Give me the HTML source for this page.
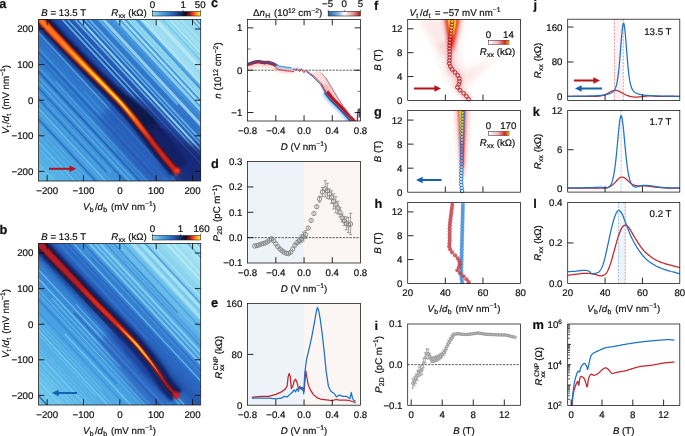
<!DOCTYPE html>
<html><head><meta charset="utf-8"><title>Figure</title>
<style>
html,body{margin:0;padding:0;background:#fff;}
body{width:685px;height:436px;overflow:hidden;}
svg{display:block;font-family:"Liberation Sans",sans-serif;fill:#111;}
svg text{text-rendering:geometricPrecision;white-space:pre;stroke:#111;stroke-width:0.2px;}
</style></head><body>
<svg width="685" height="436" viewBox="0 0 685 436">
<defs>
<linearGradient id="cbA" x1="0" x2="1" y1="0" y2="0">
<stop offset="0" stop-color="#93dcf2"/><stop offset="0.22" stop-color="#46a0e0"/><stop offset="0.42" stop-color="#2a62be"/>
<stop offset="0.58" stop-color="#1a2c74"/><stop offset="0.68" stop-color="#0a0a18"/><stop offset="0.76" stop-color="#7a1212"/>
<stop offset="0.83" stop-color="#e8321a"/><stop offset="0.9" stop-color="#ff8c1a"/><stop offset="0.96" stop-color="#ffd21e"/><stop offset="1" stop-color="#ffe83a"/></linearGradient>
<linearGradient id="cbC" x1="0" x2="1" y1="0" y2="0">
<stop offset="0" stop-color="#1a5fb0"/><stop offset="0.3" stop-color="#7fb2e0"/><stop offset="0.5" stop-color="#ffffff"/>
<stop offset="0.75" stop-color="#f0a0a0"/><stop offset="1" stop-color="#b0141e"/></linearGradient>
<linearGradient id="cbF" x1="0" x2="1" y1="0" y2="0">
<stop offset="0" stop-color="#ffffff"/><stop offset="0.45" stop-color="#f7b8b8"/><stop offset="0.8" stop-color="#e02020"/>
<stop offset="0.9" stop-color="#e8601a"/><stop offset="1" stop-color="#ffe23a"/></linearGradient>
<filter id="b1" x="-20%" y="-20%" width="140%" height="140%"><feGaussianBlur stdDeviation="1"/></filter>
<filter id="b2" x="-20%" y="-20%" width="140%" height="140%"><feGaussianBlur stdDeviation="2"/></filter>
<filter id="b3" x="-20%" y="-20%" width="140%" height="140%"><feGaussianBlur stdDeviation="3.5"/></filter>
<filter id="b07" x="-20%" y="-20%" width="140%" height="140%"><feGaussianBlur stdDeviation="0.8"/></filter>
<filter id="b05" x="-20%" y="-20%" width="140%" height="140%"><feGaussianBlur stdDeviation="0.5"/></filter>
<filter id="b6" x="-30%" y="-30%" width="160%" height="160%"><feGaussianBlur stdDeviation="6"/></filter>
<clipPath id="ca"><rect x="38.60" y="19.40" width="162.10" height="161.60"/></clipPath>
<linearGradient id="bga" gradientUnits="userSpaceOnUse" x1="38.6" y1="181.0" x2="200.7" y2="19.4"><stop offset="0" stop-color="#62c0ea"/><stop offset="0.12" stop-color="#4aa6e2"/><stop offset="0.3" stop-color="#3a8ed8"/><stop offset="0.42" stop-color="#2e78cc"/><stop offset="0.5" stop-color="#2252ac"/><stop offset="0.56" stop-color="#1f4aa4"/><stop offset="0.63" stop-color="#2c68c2"/><stop offset="0.72" stop-color="#3f90da"/><stop offset="0.82" stop-color="#60b4e6"/><stop offset="0.92" stop-color="#8ed8ee"/><stop offset="1" stop-color="#aae6f4"/></linearGradient>
<clipPath id="cb"><rect x="38.60" y="243.40" width="162.10" height="161.60"/></clipPath>
<linearGradient id="bgb" gradientUnits="userSpaceOnUse" x1="38.6" y1="405.0" x2="200.7" y2="243.4"><stop offset="0" stop-color="#74d0f0"/><stop offset="0.12" stop-color="#5cb8e8"/><stop offset="0.3" stop-color="#48a2e2"/><stop offset="0.42" stop-color="#3686d6"/><stop offset="0.5" stop-color="#2458b0"/><stop offset="0.57" stop-color="#2f70c8"/><stop offset="0.66" stop-color="#4ea4e2"/><stop offset="0.8" stop-color="#78c8ec"/><stop offset="0.92" stop-color="#9ee0f2"/><stop offset="1" stop-color="#b2eaf4"/></linearGradient>
<clipPath id="cc"><rect x="247.60" y="19.40" width="112.90" height="101.60"/></clipPath>
<clipPath id="cf"><rect x="407.70" y="19.40" width="112.90" height="81.00"/></clipPath>
<clipPath id="cg"><rect x="407.70" y="110.60" width="112.90" height="81.60"/></clipPath>
<clipPath id="cm"><rect x="567.70" y="324.00" width="112.10" height="81.40"/></clipPath>
</defs>
<rect width="685" height="436" fill="#fff"/>
<g clip-path="url(#ca)">
<rect x="38.60" y="19.40" width="162.10" height="161.60" fill="url(#bga)"/>
<g filter="url(#b05)">
<line x1="-74.6" y1="59.4" x2="150.9" y2="302.9" stroke="#7cccf0" stroke-width="1.0" opacity="0.44"/>
<line x1="-24.4" y1="109.7" x2="152.9" y2="301.1" stroke="#7cccf0" stroke-width="1.2" opacity="0.44"/>
<line x1="-75.4" y1="49.1" x2="142.1" y2="284.1" stroke="#7cccf0" stroke-width="1.5" opacity="0.39"/>
<line x1="-73.1" y1="47.0" x2="117.1" y2="252.4" stroke="#7cccf0" stroke-width="1.5" opacity="0.45"/>
<line x1="-71.0" y1="45.0" x2="160.0" y2="294.5" stroke="#7cccf0" stroke-width="1.5" opacity="0.47"/>
<line x1="6.2" y1="122.4" x2="96.4" y2="219.9" stroke="#62b8e8" stroke-width="1.3" opacity="0.34"/>
<line x1="-25.7" y1="82.9" x2="165.5" y2="289.4" stroke="#62b8e8" stroke-width="1.2" opacity="0.59"/>
<line x1="-63.3" y1="38.0" x2="167.6" y2="287.4" stroke="#7cccf0" stroke-width="2.0" opacity="0.28"/>
<line x1="-60.4" y1="35.2" x2="170.6" y2="284.7" stroke="#88d2f2" stroke-width="1.6" opacity="0.45"/>
<line x1="-57.2" y1="32.3" x2="173.8" y2="281.7" stroke="#7cccf0" stroke-width="1.0" opacity="0.50"/>
<line x1="-54.2" y1="29.5" x2="139.8" y2="239.0" stroke="#62b8e8" stroke-width="1.9" opacity="0.37"/>
<line x1="31.2" y1="116.6" x2="127.0" y2="220.0" stroke="#88d2f2" stroke-width="1.0" opacity="0.34"/>
<line x1="-49.0" y1="24.7" x2="171.0" y2="262.3" stroke="#2458b0" stroke-width="2.0" opacity="0.61"/>
<line x1="33.2" y1="107.1" x2="116.9" y2="197.5" stroke="#6cc2ec" stroke-width="1.1" opacity="0.48"/>
<line x1="-43.7" y1="19.8" x2="187.3" y2="269.3" stroke="#88d2f2" stroke-width="1.9" opacity="0.49"/>
<line x1="-40.9" y1="17.2" x2="190.1" y2="266.7" stroke="#62b8e8" stroke-width="1.3" opacity="0.39"/>
<line x1="-38.8" y1="15.2" x2="106.7" y2="172.4" stroke="#2458b0" stroke-width="1.2" opacity="0.64"/>
<line x1="-3.4" y1="48.7" x2="111.2" y2="172.4" stroke="#6cc2ec" stroke-width="1.6" opacity="0.30"/>
<line x1="37.9" y1="87.2" x2="197.6" y2="259.7" stroke="#2458b0" stroke-width="1.6" opacity="0.62"/>
<line x1="34.8" y1="78.7" x2="200.2" y2="257.3" stroke="#7cccf0" stroke-width="1.1" opacity="0.58"/>
<line x1="-12.0" y1="22.3" x2="203.1" y2="254.6" stroke="#7cccf0" stroke-width="1.7" opacity="0.34"/>
<line x1="-25.3" y1="2.7" x2="205.7" y2="252.2" stroke="#2458b0" stroke-width="1.8" opacity="0.75"/>
<line x1="-23.1" y1="0.7" x2="115.5" y2="150.5" stroke="#62b8e8" stroke-width="1.7" opacity="0.33"/>
<line x1="55.7" y1="82.0" x2="209.8" y2="248.4" stroke="#88d2f2" stroke-width="1.1" opacity="0.46"/>
<line x1="0.6" y1="17.7" x2="212.2" y2="246.2" stroke="#2a66bf" stroke-width="1.3" opacity="0.59"/>
<line x1="-15.7" y1="-6.1" x2="215.3" y2="243.3" stroke="#2458b0" stroke-width="2.1" opacity="0.64"/>
<line x1="-13.7" y1="-8.0" x2="198.4" y2="221.0" stroke="#6cc2ec" stroke-width="1.4" opacity="0.31"/>
<line x1="84.0" y1="91.0" x2="181.6" y2="196.4" stroke="#62b8e8" stroke-width="1.7" opacity="0.28"/>
<line x1="-8.0" y1="-13.3" x2="180.1" y2="189.8" stroke="#3278cc" stroke-width="2.0" opacity="0.89"/>
<line x1="-5.9" y1="-15.3" x2="225.1" y2="234.2" stroke="#7cccf0" stroke-width="1.5" opacity="0.58"/>
<line x1="-2.9" y1="-18.0" x2="184.8" y2="184.6" stroke="#88d2f2" stroke-width="1.1" opacity="0.43"/>
<line x1="10.9" y1="-30.8" x2="241.9" y2="218.7" stroke="#2458b2" stroke-width="1.5" opacity="0.97"/>
<line x1="13.5" y1="-33.2" x2="162.8" y2="128.1" stroke="#68c0ec" stroke-width="1.9" opacity="0.84"/>
<line x1="16.2" y1="-35.7" x2="247.2" y2="213.8" stroke="#7ccdf0" stroke-width="1.4" opacity="0.81"/>
<line x1="61.3" y1="8.8" x2="239.2" y2="201.0" stroke="#2a66c0" stroke-width="1.2" opacity="0.62"/>
<line x1="68.6" y1="12.8" x2="251.3" y2="210.0" stroke="#8ed6f2" stroke-width="1.7" opacity="0.68"/>
<line x1="76.0" y1="15.6" x2="253.8" y2="207.6" stroke="#8ed6f2" stroke-width="2.1" opacity="0.98"/>
<line x1="25.8" y1="-44.6" x2="256.8" y2="204.9" stroke="#7ccdf0" stroke-width="1.5" opacity="0.73"/>
<line x1="28.0" y1="-46.7" x2="259.0" y2="202.8" stroke="#7ccdf0" stroke-width="2.1" opacity="0.66"/>
<line x1="76.5" y1="1.5" x2="261.1" y2="200.9" stroke="#3278cc" stroke-width="1.3" opacity="0.98"/>
<line x1="33.1" y1="-51.4" x2="177.8" y2="104.8" stroke="#68c0ec" stroke-width="2.2" opacity="0.76"/>
<line x1="94.9" y1="10.5" x2="266.5" y2="195.9" stroke="#bcecf6" stroke-width="3.1" opacity="0.71"/>
<line x1="37.5" y1="-55.4" x2="245.3" y2="169.0" stroke="#3f8cd8" stroke-width="1.1" opacity="0.71"/>
<line x1="40.5" y1="-58.2" x2="271.5" y2="191.3" stroke="#4a9ae0" stroke-width="1.5" opacity="0.81"/>
<line x1="42.9" y1="-60.4" x2="273.9" y2="189.1" stroke="#a4e2f2" stroke-width="3.1" opacity="0.72"/>
<line x1="45.8" y1="-63.1" x2="234.3" y2="140.4" stroke="#a4e2f2" stroke-width="2.2" opacity="0.96"/>
<line x1="49.0" y1="-66.0" x2="280.0" y2="183.5" stroke="#a4e2f2" stroke-width="2.1" opacity="0.91"/>
<line x1="93.6" y1="-22.3" x2="282.2" y2="181.4" stroke="#98dcf0" stroke-width="3.6" opacity="0.86"/>
<line x1="53.5" y1="-70.2" x2="234.5" y2="125.3" stroke="#3f8cd8" stroke-width="1.0" opacity="0.89"/>
<line x1="56.6" y1="-73.1" x2="287.6" y2="176.4" stroke="#bcecf6" stroke-width="3.6" opacity="0.86"/>
<line x1="58.9" y1="-75.3" x2="289.9" y2="174.2" stroke="#a4e2f2" stroke-width="2.9" opacity="0.95"/>
<line x1="61.4" y1="-77.5" x2="292.4" y2="172.0" stroke="#b0e8f4" stroke-width="4.1" opacity="0.70"/>
<line x1="86.9" y1="-54.9" x2="243.4" y2="114.1" stroke="#bcecf6" stroke-width="4.2" opacity="0.90"/>
<line x1="66.0" y1="-81.8" x2="205.1" y2="68.5" stroke="#98dcf0" stroke-width="2.9" opacity="0.80"/>
<line x1="69.0" y1="-84.6" x2="300.0" y2="164.9" stroke="#a4e2f2" stroke-width="2.0" opacity="0.81"/>
<line x1="127.0" y1="-26.3" x2="235.6" y2="90.9" stroke="#b0e8f4" stroke-width="2.2" opacity="0.95"/>
<line x1="73.9" y1="-89.2" x2="240.9" y2="91.1" stroke="#a4e2f2" stroke-width="3.6" opacity="0.91"/>
<line x1="77.2" y1="-92.1" x2="308.2" y2="157.3" stroke="#a4e2f2" stroke-width="2.1" opacity="0.95"/>
<line x1="80.0" y1="-94.8" x2="281.2" y2="122.5" stroke="#8ed6f2" stroke-width="1.9" opacity="0.83"/>
<line x1="117.3" y1="-60.5" x2="298.4" y2="135.1" stroke="#3580d0" stroke-width="1.3" opacity="0.61"/>
<line x1="85.6" y1="-100.0" x2="310.2" y2="142.6" stroke="#3580d0" stroke-width="1.3" opacity="0.71"/>
<line x1="88.7" y1="-102.9" x2="319.7" y2="146.6" stroke="#b0e8f4" stroke-width="3.9" opacity="0.84"/>
<line x1="136.5" y1="-55.7" x2="322.0" y2="144.6" stroke="#8ed6f2" stroke-width="2.2" opacity="0.80"/>
</g>
<polygon points="98.7,117.2 99.5,118.6 100.6,120.3 101.9,122.3 103.3,124.3 104.6,126.4 105.7,128.2 106.7,129.9 107.7,131.6 108.7,133.4 109.7,135.1 110.7,136.9 111.8,138.7 113.0,140.2 114.2,141.8 115.4,143.4 116.7,145.0 118.0,146.7 119.3,148.4 120.6,150.1 121.9,151.8 123.2,153.4 124.5,155.1 125.8,156.8 127.1,158.4 128.5,160.1 129.8,161.9 131.2,163.6 132.6,165.5 134.0,167.3 135.5,169.1 137.2,170.8 138.9,172.4 140.6,174.0 142.4,175.6 144.2,177.3 146.0,178.9 148.0,180.8 150.0,182.7 152.1,184.5 154.0,186.2 155.6,187.6 156.8,188.5 173.5,174.1 172.5,173.0 171.1,171.4 169.5,169.5 167.8,167.5 166.0,165.5 164.4,163.6 163.0,161.8 161.5,160.0 160.1,158.3 158.7,156.5 157.3,154.7 155.9,153.0 154.5,151.2 153.1,149.4 151.7,147.7 150.3,145.9 149.0,144.2 147.6,142.5 146.3,140.8 145.0,139.1 143.7,137.4 142.4,135.8 141.1,134.1 139.8,132.5 138.5,130.8 137.3,129.1 136.0,127.5 134.7,125.8 133.4,124.1 132.1,122.5 130.7,120.8 129.4,119.2 128.1,117.5 126.7,115.9 125.3,114.2 124.0,112.6 122.4,110.8 120.8,108.9 119.1,107.0 117.5,105.3 116.2,103.7 115.2,102.7" fill="#2654b4" opacity="0.7" filter="url(#b3)"/>
<polygon points="27.5,17.5 28.1,18.2 28.9,19.0 29.9,20.0 31.1,21.3 32.6,22.9 34.6,25.0 37.1,27.6 40.0,30.8 43.4,34.4 46.9,38.2 50.4,41.9 53.8,45.5 57.0,48.9 60.2,52.2 63.5,55.6 66.7,58.9 69.9,62.3 73.2,65.6 76.5,69.0 79.8,72.3 83.1,75.6 86.4,79.0 89.7,82.3 93.0,85.6 96.4,89.1 99.9,92.6 103.4,96.2 106.8,99.7 109.8,102.8 112.4,105.5 114.5,107.5 116.2,109.2 117.6,110.5 118.9,111.8 120.2,113.1 121.6,114.5 123.2,116.1 124.7,117.6 126.1,119.1 127.6,120.7 129.1,122.2 130.5,123.7 131.8,125.4 133.1,127.0 134.4,128.7 135.7,130.3 137.0,132.0 138.3,133.7 139.6,135.4 140.9,137.0 142.1,138.7 143.4,140.3 144.7,142.0 146.1,143.7 147.4,145.4 148.8,147.1 150.1,148.9 151.5,150.7 152.9,152.5 154.3,154.2 155.7,156.0 157.1,157.8 158.5,159.5 160.0,161.3 161.4,163.1 162.9,164.8 164.5,166.8 166.2,168.8 168.0,170.8 169.6,172.7 171.0,174.3 172.0,175.4 191.6,158.4 190.9,157.1 189.8,155.3 188.4,153.2 187.0,151.0 185.6,148.9 184.4,146.9 183.3,145.1 182.2,143.2 181.1,141.3 180.0,139.4 178.9,137.5 177.8,135.6 176.5,133.9 175.1,132.2 173.8,130.5 172.4,128.7 171.1,127.0 169.7,125.2 168.4,123.5 167.1,121.9 165.8,120.2 164.5,118.6 163.2,116.9 161.9,115.3 160.4,113.8 158.9,112.4 157.3,110.9 155.7,109.4 154.1,107.8 152.4,106.3 150.4,105.1 148.3,103.9 146.3,102.7 144.2,101.4 142.1,100.2 140.0,99.0 138.1,98.0 136.2,97.1 134.3,96.1 132.1,95.0 129.7,93.6 126.9,91.8 123.9,89.3 120.4,86.4 116.6,83.3 112.8,80.0 108.9,76.8 105.1,73.7 101.8,70.3 98.5,67.0 95.2,63.7 91.9,60.3 88.6,57.0 85.3,53.7 82.1,50.4 78.9,47.1 75.7,43.8 72.5,40.5 69.3,37.1 66.1,33.8 62.8,30.3 59.3,26.6 55.8,22.8 52.5,19.3 49.5,16.0 47.0,13.3 45.0,11.2 43.4,9.6 42.2,8.3 41.2,7.3 40.5,6.5 39.8,5.8" fill="#1c3a94" opacity="0.75" filter="url(#b2)"/>
<polygon points="34.7,10.6 35.4,11.3 36.1,12.1 37.1,13.1 38.3,14.4 39.9,16.0 41.9,18.1 44.4,20.8 47.4,24.0 50.7,27.6 54.2,31.4 57.7,35.1 61.1,38.6 64.3,42.0 67.4,45.3 70.7,48.6 73.9,52.0 77.1,55.3 80.3,58.6 83.6,61.9 86.9,65.3 90.2,68.6 93.5,71.9 96.8,75.3 100.1,78.6 103.5,82.0 107.0,85.6 110.6,89.2 113.9,92.7 117.0,95.9 119.7,98.6 121.8,100.9 123.4,102.7 124.8,104.3 126.0,105.7 127.2,107.2 128.5,108.7 129.9,110.4 131.3,112.1 132.7,113.7 134.1,115.4 135.4,117.1 136.8,118.8 138.1,120.4 139.4,122.1 140.7,123.8 142.0,125.4 143.3,127.1 144.6,128.8 145.9,130.4 147.2,132.1 148.5,133.7 149.7,135.4 151.1,137.1 152.4,138.8 153.7,140.5 155.1,142.2 156.4,144.0 157.8,145.7 159.2,147.5 160.6,149.3 162.0,151.0 163.4,152.7 164.8,154.5 166.2,156.2 167.6,158.0 169.0,159.7 170.6,161.6 172.3,163.6 174.0,165.6 175.7,167.5 177.0,169.1 178.0,170.2 187.1,162.4 186.2,161.1 185.0,159.4 183.5,157.4 181.9,155.3 180.4,153.3 179.0,151.4 177.8,149.6 176.5,147.8 175.3,146.0 174.0,144.2 172.8,142.4 171.5,140.6 170.2,138.8 168.8,137.1 167.5,135.4 166.1,133.6 164.8,131.9 163.4,130.2 162.1,128.5 160.8,126.8 159.5,125.1 158.2,123.5 156.9,121.8 155.6,120.2 154.2,118.6 152.8,117.1 151.4,115.5 149.9,113.9 148.4,112.3 146.9,110.6 145.2,109.2 143.4,107.9 141.6,106.5 139.8,105.0 138.0,103.6 136.2,102.3 134.5,101.0 132.9,99.9 131.3,98.8 129.4,97.4 127.3,95.8 124.7,93.8 121.9,91.2 118.6,88.1 115.0,84.9 111.3,81.4 107.6,78.0 104.0,74.7 100.7,71.4 97.4,68.0 94.1,64.7 90.8,61.4 87.5,58.1 84.3,54.8 81.0,51.4 77.8,48.1 74.6,44.8 71.4,41.5 68.2,38.2 65.0,34.8 61.7,31.3 58.2,27.6 54.7,23.9 51.4,20.3 48.4,17.1 45.9,14.4 43.9,12.3 42.3,10.6 41.1,9.3 40.1,8.3 39.4,7.5 38.7,6.8" fill="#0a1244" opacity="0.92" filter="url(#b1)"/>
<polygon points="28.2,16.8 28.9,17.5 29.6,18.3 30.6,19.3 31.8,20.6 33.3,22.2 35.3,24.3 37.8,26.9 40.8,30.2 44.1,33.7 47.6,37.5 51.2,41.3 54.5,44.8 57.7,48.2 61.0,51.6 64.2,54.9 67.4,58.2 70.6,61.6 73.9,64.9 77.2,68.2 80.5,71.6 83.8,74.9 87.1,78.3 90.4,81.6 93.7,84.9 97.1,88.4 100.6,91.9 104.1,95.5 107.5,99.0 110.5,102.1 113.1,104.8 115.1,107.0 116.7,108.7 118.0,110.2 119.2,111.6 120.3,113.0 121.6,114.5 123.0,116.2 124.4,117.8 125.7,119.4 127.1,121.1 128.4,122.7 129.7,124.4 131.0,126.0 132.3,127.6 133.6,129.3 134.9,131.0 136.2,132.6 137.5,134.3 138.8,136.0 140.1,137.6 141.4,139.3 142.7,140.9 144.0,142.6 145.3,144.3 146.6,146.0 148.0,147.8 149.3,149.5 150.7,151.3 152.1,153.1 153.5,154.9 154.9,156.6 156.3,158.4 157.8,160.1 159.2,161.9 160.6,163.7 162.1,165.5 163.7,167.4 165.5,169.4 167.2,171.5 168.9,173.4 170.2,174.9 171.2,176.1 175.0,172.8 174.0,171.7 172.6,170.1 171.0,168.2 169.3,166.2 167.5,164.2 166.0,162.3 164.5,160.5 163.1,158.8 161.6,157.0 160.2,155.3 158.8,153.5 157.4,151.7 156.0,150.0 154.7,148.2 153.3,146.4 151.9,144.7 150.6,142.9 149.2,141.2 147.9,139.5 146.6,137.9 145.3,136.2 144.0,134.5 142.7,132.9 141.4,131.2 140.1,129.6 138.8,127.9 137.5,126.2 136.3,124.6 135.0,122.9 133.6,121.2 132.3,119.6 131.0,117.9 129.6,116.3 128.3,114.6 126.9,113.0 125.5,111.3 124.2,109.7 123.0,108.3 121.8,106.9 120.5,105.4 118.8,103.6 116.7,101.4 114.1,98.6 111.1,95.5 107.7,92.0 104.2,88.4 100.7,84.9 97.3,81.4 94.0,78.1 90.7,74.7 87.4,71.4 84.1,68.1 80.8,64.7 77.5,61.4 74.2,58.1 71.0,54.7 67.8,51.4 64.6,48.1 61.4,44.7 58.1,41.4 54.8,37.8 51.3,34.1 47.8,30.3 44.4,26.8 41.4,23.5 38.9,20.9 37.0,18.8 35.4,17.1 34.2,15.8 33.2,14.8 32.5,14.0 31.9,13.4" fill="#0e1850" opacity="0.85" filter="url(#b1)"/>
<polygon points="146.0,122.0 165.0,130.0 185.0,142.0 206.0,150.0 206.0,186.0 176.0,186.0 170.0,168.0 158.0,150.0" fill="#162470" opacity="0.8" filter="url(#b3)"/>
<polygon points="29.9,15.2 30.5,15.9 31.3,16.7 32.2,17.7 33.5,19.0 35.0,20.6 37.0,22.7 39.5,25.4 42.5,28.5 45.9,32.1 49.4,35.8 53.0,39.6 56.3,43.1 59.6,46.4 62.8,49.8 66.1,53.1 69.3,56.3 72.6,59.6 75.9,62.9 79.2,66.2 82.6,69.5 86.0,72.8 89.4,76.1 92.7,79.3 96.1,82.6 99.5,86.0 103.1,89.5 106.6,93.1 110.0,96.5 113.1,99.6 115.8,102.3 117.9,104.5 119.5,106.2 120.8,107.7 122.0,109.1 123.2,110.5 124.6,112.1 125.9,113.7 127.3,115.4 128.6,117.1 130.0,118.7 131.3,120.4 132.6,122.1 133.9,123.7 135.2,125.4 136.5,127.1 137.8,128.7 139.0,130.4 140.3,132.1 141.6,133.8 142.9,135.4 144.2,137.1 145.5,138.7 146.8,140.4 148.1,142.1 149.4,143.8 150.8,145.6 152.1,147.3 153.5,149.1 154.9,150.9 156.3,152.7 157.6,154.4 159.0,156.2 160.4,158.0 161.9,159.8 163.3,161.5 164.7,163.3 166.3,165.2 168.1,167.2 169.8,169.3 171.4,171.1 172.8,172.7 173.8,173.9 179.2,169.1 178.2,168.0 176.9,166.4 175.3,164.6 173.5,162.5 171.8,160.5 170.3,158.7 168.8,157.0 167.4,155.2 166.0,153.5 164.5,151.8 163.1,150.1 161.7,148.3 160.3,146.6 159.0,144.8 157.6,143.1 156.2,141.4 154.8,139.6 153.5,137.9 152.2,136.2 150.9,134.5 149.6,132.9 148.3,131.2 147.0,129.6 145.7,127.9 144.4,126.3 143.1,124.6 141.8,122.9 140.5,121.3 139.1,119.6 137.8,117.9 136.4,116.3 135.1,114.6 133.7,112.9 132.3,111.3 130.9,109.6 129.4,107.9 128.2,106.4 127.0,105.0 125.8,103.5 124.4,101.9 122.7,100.0 120.6,97.7 118.0,94.9 115.0,91.7 111.6,88.2 108.2,84.5 104.7,80.9 101.3,77.4 98.1,74.0 94.8,70.6 91.6,67.2 88.3,63.8 85.1,60.4 81.9,57.1 78.7,53.7 75.5,50.4 72.3,47.0 69.2,43.7 66.0,40.3 62.9,36.9 59.6,33.4 56.1,29.6 52.6,25.8 49.3,22.2 46.3,19.0 43.8,16.3 41.9,14.2 40.3,12.5 39.1,11.2 38.1,10.2 37.3,9.4 36.7,8.8" fill="#120a1c" opacity="0.9" filter="url(#b05)"/>
<polygon points="30.6,14.5 31.3,15.2 32.0,16.0 33.0,17.0 34.2,18.3 35.7,19.9 37.7,22.0 40.2,24.7 43.2,27.9 46.6,31.4 50.1,35.2 53.7,38.9 57.1,42.4 60.3,45.7 63.6,49.1 66.8,52.4 70.1,55.6 73.3,58.9 76.6,62.2 80.0,65.5 83.3,68.8 86.7,72.1 90.1,75.4 93.4,78.6 96.8,81.9 100.2,85.3 103.8,88.8 107.4,92.4 110.8,95.8 113.9,98.9 116.5,101.6 118.6,103.8 120.3,105.6 121.6,107.1 122.8,108.5 124.0,109.9 125.3,111.4 126.7,113.1 128.1,114.8 129.4,116.4 130.8,118.1 132.1,119.8 133.4,121.4 134.7,123.1 136.0,124.8 137.3,126.4 138.5,128.1 139.8,129.8 141.1,131.5 142.4,133.1 143.7,134.8 145.0,136.4 146.3,138.1 147.6,139.8 148.9,141.5 150.2,143.2 151.6,145.0 152.9,146.7 154.3,148.5 155.7,150.3 157.0,152.1 158.4,153.8 159.8,155.6 161.2,157.4 162.6,159.1 164.1,160.9 165.5,162.7 167.1,164.6 168.8,166.6 170.6,168.6 172.2,170.5 173.5,172.1 174.5,173.2 178.5,169.8 177.5,168.7 176.1,167.1 174.5,165.2 172.8,163.2 171.1,161.2 169.5,159.3 168.0,157.6 166.6,155.9 165.2,154.1 163.8,152.4 162.4,150.7 161.0,148.9 159.6,147.2 158.2,145.5 156.8,143.7 155.4,142.0 154.0,140.2 152.7,138.5 151.4,136.8 150.1,135.2 148.8,133.5 147.5,131.8 146.2,130.2 144.9,128.5 143.6,126.9 142.3,125.2 141.0,123.6 139.7,121.9 138.3,120.2 137.0,118.6 135.6,116.9 134.3,115.2 132.9,113.6 131.5,111.9 130.1,110.2 128.7,108.6 127.4,107.0 126.2,105.6 125.0,104.2 123.6,102.6 122.0,100.7 119.9,98.4 117.3,95.6 114.2,92.4 110.9,88.9 107.4,85.2 104.0,81.6 100.6,78.1 97.4,74.7 94.1,71.3 90.9,67.9 87.6,64.5 84.4,61.1 81.2,57.8 78.0,54.4 74.8,51.1 71.6,47.7 68.5,44.3 65.3,41.0 62.1,37.6 58.8,34.0 55.3,30.3 51.9,26.5 48.6,22.9 45.6,19.7 43.1,17.0 41.1,14.9 39.6,13.2 38.3,11.9 37.4,10.9 36.6,10.1 36.0,9.5" fill="#d8261a" opacity="1" filter="url(#b07)"/>
<polygon points="31.4,13.8 32.0,14.5 32.8,15.3 33.7,16.3 34.9,17.6 36.5,19.2 38.5,21.3 41.0,24.0 44.0,27.2 47.3,30.7 50.9,34.5 54.4,38.2 57.8,41.7 61.0,45.1 64.2,48.4 67.5,51.7 70.7,55.0 74.0,58.3 77.3,61.6 80.6,64.9 83.9,68.2 87.3,71.5 90.6,74.8 94.0,78.1 97.3,81.4 100.7,84.8 104.3,88.3 107.9,91.9 111.2,95.3 114.3,98.4 117.0,101.1 119.1,103.4 120.7,105.2 122.1,106.7 123.3,108.1 124.5,109.5 125.8,111.0 127.2,112.7 128.6,114.4 129.9,116.0 131.3,117.7 132.6,119.4 133.9,121.0 135.3,122.7 136.6,124.3 138.0,125.9 139.3,127.5 140.6,129.2 142.0,130.8 143.5,132.4 145.2,134.2 146.9,136.0 148.4,137.7 149.8,139.0 150.8,140.0 150.8,140.0 150.1,138.8 149.1,137.1 147.9,135.2 146.6,133.2 145.2,131.1 144.0,129.2 142.8,127.5 141.5,125.8 140.3,124.1 139.0,122.4 137.8,120.7 136.5,119.0 135.1,117.3 133.8,115.6 132.4,114.0 131.0,112.3 129.6,110.6 128.2,109.0 126.9,107.4 125.7,106.0 124.5,104.6 123.2,103.0 121.5,101.1 119.4,98.9 116.8,96.1 113.8,92.9 110.4,89.4 106.9,85.7 103.4,82.1 100.1,78.6 96.8,75.3 93.6,71.9 90.3,68.5 87.0,65.1 83.8,61.8 80.5,58.4 77.3,55.0 74.1,51.7 70.9,48.4 67.8,45.0 64.6,41.6 61.4,38.3 58.1,34.7 54.6,31.0 51.1,27.2 47.8,23.6 44.8,20.4 42.3,17.7 40.4,15.6 38.8,13.9 37.6,12.6 36.6,11.6 35.9,10.8 35.2,10.2" fill="#f4521c" opacity="1" filter="url(#b07)"/>
<polygon points="31.9,13.3 32.5,14.0 33.3,14.8 34.3,15.8 35.5,17.1 37.0,18.7 39.0,20.8 41.5,23.5 44.5,26.7 47.9,30.2 51.4,34.0 54.9,37.7 58.3,41.3 61.5,44.6 64.7,47.9 68.0,51.2 71.2,54.5 74.4,57.9 77.7,61.2 81.0,64.5 84.4,67.8 87.7,71.1 91.0,74.4 94.4,77.7 97.7,81.0 101.1,84.4 104.7,88.0 108.2,91.5 111.6,95.0 114.7,98.1 117.3,100.8 119.4,103.0 121.1,104.9 122.4,106.4 123.6,107.8 124.8,109.2 126.1,110.7 127.6,112.4 129.0,114.0 130.4,115.6 131.8,117.3 133.1,118.9 134.5,120.6 136.0,122.2 137.6,124.1 139.3,125.9 140.8,127.6 142.0,129.0 143.0,130.0 143.0,130.0 142.3,128.8 141.2,127.2 140.0,125.4 138.6,123.3 137.2,121.3 135.9,119.4 134.6,117.7 133.3,116.1 132.0,114.4 130.6,112.7 129.3,111.0 127.9,109.3 126.6,107.7 125.4,106.3 124.2,104.9 122.8,103.3 121.2,101.4 119.1,99.2 116.5,96.4 113.4,93.2 110.1,89.7 106.6,86.1 103.1,82.5 99.7,79.0 96.4,75.6 93.2,72.3 89.9,68.9 86.6,65.6 83.3,62.2 80.1,58.8 76.9,55.5 73.7,52.2 70.5,48.8 67.3,45.5 64.1,42.1 60.9,38.7 57.6,35.2 54.1,31.5 50.6,27.7 47.3,24.1 44.3,20.9 41.8,18.2 39.8,16.1 38.3,14.4 37.0,13.1 36.1,12.1 35.3,11.3 34.7,10.7" fill="#ff7e1c" opacity="1" filter="url(#b07)"/>
<polygon points="59.6,40.0 61.6,42.3 64.3,45.4 67.6,49.1 71.2,53.1 74.8,57.1 78.1,60.8 81.4,64.1 84.7,67.5 88.0,70.8 91.3,74.2 94.6,77.5 97.8,80.9 101.2,84.3 104.8,87.8 108.3,91.4 111.7,94.8 114.8,98.0 117.4,100.7 119.6,102.9 121.2,104.7 122.6,106.2 123.9,107.6 125.1,109.0 126.4,110.5 128.0,112.2 129.7,114.0 131.4,115.9 132.9,117.6 134.2,119.0 135.2,120.0 135.2,120.0 134.4,118.8 133.3,117.3 131.9,115.4 130.5,113.4 129.0,111.4 127.6,109.5 126.3,107.9 125.1,106.5 124.0,105.0 122.6,103.5 121.0,101.6 119.0,99.3 116.3,96.5 113.3,93.3 109.9,89.8 106.4,86.2 102.9,82.6 99.6,79.1 96.3,75.8 92.9,72.5 89.6,69.2 86.3,65.9 83.0,62.6 79.7,59.2 76.1,55.8 72.2,52.1 68.4,48.4 64.8,44.9 61.8,42.1 59.6,40.0" fill="#ffb41e" opacity="1" filter="url(#b05)"/>
<polygon points="78.9,60.0 81.0,62.2 83.9,65.3 87.4,69.0 91.1,72.9 94.8,76.8 98.3,80.4 101.6,83.9 105.2,87.5 108.7,91.1 112.0,94.5 115.1,97.7 117.7,100.5 119.8,102.7 121.5,104.5 122.9,106.0 124.1,107.4 125.3,108.8 126.6,110.3 128.2,112.0 129.8,113.9 131.5,115.8 133.0,117.5 134.3,119.0 135.2,120.0 135.2,120.0 134.4,118.9 133.2,117.3 131.8,115.5 130.3,113.5 128.8,111.5 127.4,109.7 126.1,108.1 124.9,106.7 123.8,105.2 122.4,103.7 120.8,101.8 118.7,99.5 116.1,96.8 113.0,93.6 109.6,90.2 106.1,86.6 102.5,83.0 99.1,79.6 95.5,76.1 91.7,72.3 87.8,68.5 84.2,65.0 81.1,62.1 78.9,60.0" fill="#ffe03a" opacity="1" filter="url(#b05)"/>
<circle cx="176.8" cy="171.0" r="3.6" fill="#e02a1c" filter="url(#b1)"/>
<circle cx="177.0" cy="170.6" r="1.8" fill="#f04424" filter="url(#b05)"/>
</g>
<rect x="38.60" y="19.40" width="162.10" height="161.60" fill="none" stroke="#111" stroke-width="0.75"/>
<line x1="47.14" y1="181.00" x2="47.14" y2="175.20" stroke="#111" stroke-width="0.9"/>
<line x1="47.14" y1="19.40" x2="47.14" y2="25.20" stroke="#111" stroke-width="0.9"/>
<line x1="83.49" y1="181.00" x2="83.49" y2="175.20" stroke="#111" stroke-width="0.9"/>
<line x1="83.49" y1="19.40" x2="83.49" y2="25.20" stroke="#111" stroke-width="0.9"/>
<line x1="119.83" y1="181.00" x2="119.83" y2="175.20" stroke="#111" stroke-width="0.9"/>
<line x1="119.83" y1="19.40" x2="119.83" y2="25.20" stroke="#111" stroke-width="0.9"/>
<line x1="156.18" y1="181.00" x2="156.18" y2="175.20" stroke="#111" stroke-width="0.9"/>
<line x1="156.18" y1="19.40" x2="156.18" y2="25.20" stroke="#111" stroke-width="0.9"/>
<line x1="192.52" y1="181.00" x2="192.52" y2="175.20" stroke="#111" stroke-width="0.9"/>
<line x1="192.52" y1="19.40" x2="192.52" y2="25.20" stroke="#111" stroke-width="0.9"/>
<line x1="38.60" y1="171.39" x2="44.40" y2="171.39" stroke="#111" stroke-width="0.9"/>
<line x1="200.70" y1="171.39" x2="194.90" y2="171.39" stroke="#111" stroke-width="0.9"/>
<line x1="38.60" y1="135.79" x2="44.40" y2="135.79" stroke="#111" stroke-width="0.9"/>
<line x1="200.70" y1="135.79" x2="194.90" y2="135.79" stroke="#111" stroke-width="0.9"/>
<line x1="38.60" y1="100.20" x2="44.40" y2="100.20" stroke="#111" stroke-width="0.9"/>
<line x1="200.70" y1="100.20" x2="194.90" y2="100.20" stroke="#111" stroke-width="0.9"/>
<line x1="38.60" y1="64.61" x2="44.40" y2="64.61" stroke="#111" stroke-width="0.9"/>
<line x1="200.70" y1="64.61" x2="194.90" y2="64.61" stroke="#111" stroke-width="0.9"/>
<line x1="38.60" y1="29.01" x2="44.40" y2="29.01" stroke="#111" stroke-width="0.9"/>
<line x1="200.70" y1="29.01" x2="194.90" y2="29.01" stroke="#111" stroke-width="0.9"/>
<text x="47.14" y="193.50" text-anchor="middle" font-size="9.7">−200</text>
<text x="83.49" y="193.50" text-anchor="middle" font-size="9.7">−100</text>
<text x="119.83" y="193.50" text-anchor="middle" font-size="9.7">0</text>
<text x="156.18" y="193.50" text-anchor="middle" font-size="9.7">100</text>
<text x="192.52" y="193.50" text-anchor="middle" font-size="9.7">200</text>
<text x="33.40" y="174.83" text-anchor="end" font-size="9.7">−200</text>
<text x="33.40" y="139.24" text-anchor="end" font-size="9.7">−100</text>
<text x="33.40" y="103.64" text-anchor="end" font-size="9.7">0</text>
<text x="33.40" y="68.05" text-anchor="end" font-size="9.7">100</text>
<text x="33.40" y="32.45" text-anchor="end" font-size="9.7">200</text>
<line x1="49.00" y1="168.80" x2="70.92" y2="168.80" stroke="#b5121b" stroke-width="2.0"/>
<polygon points="76.20,168.80 69.60,165.50 69.60,172.10" fill="#b5121b"/>
<text x="41.30" y="15.80" text-anchor="start" font-size="9.7" ><tspan font-style="italic">B</tspan> = 13.5 T</text>
<text x="111.30" y="15.80" text-anchor="start" font-size="9.7" ><tspan font-style="italic">R</tspan><tspan font-size="6.8" dy="2.0" dx="0.3">xx</tspan><tspan dy="-2.0" dx="0.1">​</tspan> (kΩ)</text>
<rect x="152.40" y="11.50" width="48.20" height="4.50" fill="url(#cbA)" stroke="#222" stroke-width="0.6"/>
<line x1="152.40" y1="11.50" x2="152.40" y2="9.90" stroke="#222" stroke-width="0.6"/>
<line x1="183.20" y1="11.50" x2="183.20" y2="9.90" stroke="#222" stroke-width="0.6"/>
<line x1="200.60" y1="11.50" x2="200.60" y2="9.90" stroke="#222" stroke-width="0.6"/>
<text x="152.40" y="7.50" text-anchor="middle" font-size="9.7" >0</text>
<text x="183.20" y="7.50" text-anchor="middle" font-size="9.7" >1</text>
<text x="200.20" y="7.50" text-anchor="middle" font-size="9.7" >50</text>
<text transform="translate(8.60,99.50) rotate(-90)" text-anchor="middle" font-size="9.7"><tspan font-style="italic">V</tspan><tspan font-size="6.8" dy="2.0" dx="0.3">t</tspan><tspan dy="-2.0" dx="1.3">​</tspan>/<tspan font-style="italic">d</tspan><tspan font-size="6.8" dy="2.0" dx="0.3">t</tspan><tspan dy="-2.0" dx="1.3">​</tspan> (mV nm<tspan font-size="6.8" dy="-3.6">−1</tspan><tspan dy="3.6">​</tspan>)</text>
<text x="119.50" y="209.50" text-anchor="middle" font-size="9.7" ><tspan font-style="italic">V</tspan><tspan font-size="6.8" dy="2.0" dx="0.3">b</tspan><tspan dy="-2.0" dx="1.3">​</tspan>/<tspan font-style="italic">d</tspan><tspan font-size="6.8" dy="2.0" dx="0.3">b</tspan><tspan dy="-2.0" dx="1.3">​</tspan> (mV nm<tspan font-size="6.8" dy="-3.6">−1</tspan><tspan dy="3.6">​</tspan>)</text>
<text x="-0.70" y="7.50" font-size="12.8" font-weight="bold">a</text>
<g clip-path="url(#cb)">
<rect x="38.60" y="243.40" width="162.10" height="161.60" fill="url(#bgb)"/>
<g filter="url(#b05)">
<line x1="-3.5" y1="359.9" x2="151.1" y2="526.8" stroke="#62b8e8" stroke-width="1.4" opacity="0.88"/>
<line x1="-77.2" y1="274.8" x2="153.8" y2="524.3" stroke="#62b8e8" stroke-width="1.2" opacity="0.54"/>
<line x1="-73.8" y1="274.5" x2="155.8" y2="522.5" stroke="#2458b0" stroke-width="1.8" opacity="0.75"/>
<line x1="-17.0" y1="331.8" x2="84.8" y2="441.9" stroke="#6cc2ec" stroke-width="1.6" opacity="0.85"/>
<line x1="-71.0" y1="269.0" x2="160.0" y2="518.5" stroke="#7cccf0" stroke-width="1.4" opacity="0.63"/>
<line x1="-14.4" y1="324.1" x2="78.2" y2="424.0" stroke="#88d2f2" stroke-width="1.7" opacity="0.73"/>
<line x1="20.9" y1="357.6" x2="165.3" y2="513.6" stroke="#7cccf0" stroke-width="1.8" opacity="0.50"/>
<line x1="-62.5" y1="261.1" x2="103.0" y2="439.9" stroke="#7cccf0" stroke-width="1.5" opacity="0.59"/>
<line x1="-16.3" y1="307.1" x2="170.5" y2="508.8" stroke="#7cccf0" stroke-width="1.0" opacity="0.82"/>
<line x1="-57.7" y1="256.7" x2="115.7" y2="444.1" stroke="#6cc2ec" stroke-width="2.0" opacity="0.85"/>
<line x1="40.2" y1="356.1" x2="176.5" y2="503.2" stroke="#88d2f2" stroke-width="2.0" opacity="0.51"/>
<line x1="-51.8" y1="251.3" x2="112.2" y2="428.5" stroke="#6cc2ec" stroke-width="1.1" opacity="0.62"/>
<line x1="-49.8" y1="249.4" x2="141.9" y2="456.5" stroke="#6cc2ec" stroke-width="0.9" opacity="0.67"/>
<line x1="-46.8" y1="246.7" x2="184.2" y2="496.1" stroke="#62b8e8" stroke-width="1.1" opacity="0.57"/>
<line x1="-44.6" y1="244.6" x2="95.8" y2="396.2" stroke="#6cc2ec" stroke-width="1.7" opacity="0.67"/>
<line x1="35.8" y1="327.3" x2="188.5" y2="492.2" stroke="#88d2f2" stroke-width="1.2" opacity="0.82"/>
<line x1="-40.2" y1="240.6" x2="190.8" y2="490.0" stroke="#7cccf0" stroke-width="1.0" opacity="0.72"/>
<line x1="-38.2" y1="238.7" x2="102.1" y2="390.2" stroke="#6cc2ec" stroke-width="1.7" opacity="0.53"/>
<line x1="-35.9" y1="236.6" x2="169.6" y2="458.6" stroke="#6cc2ec" stroke-width="1.0" opacity="0.56"/>
<line x1="-33.4" y1="234.2" x2="197.6" y2="483.7" stroke="#3278cc" stroke-width="1.0" opacity="0.51"/>
<line x1="64.9" y1="333.9" x2="157.7" y2="434.1" stroke="#7cccf0" stroke-width="1.4" opacity="0.83"/>
<line x1="-27.3" y1="228.6" x2="116.7" y2="384.0" stroke="#3278cc" stroke-width="1.9" opacity="0.55"/>
<line x1="-24.8" y1="226.2" x2="174.1" y2="441.0" stroke="#62b8e8" stroke-width="1.9" opacity="0.51"/>
<line x1="-22.3" y1="224.0" x2="208.7" y2="473.5" stroke="#7cccf0" stroke-width="1.0" opacity="0.79"/>
<line x1="51.9" y1="298.4" x2="173.6" y2="429.9" stroke="#62b8e8" stroke-width="1.4" opacity="0.88"/>
<line x1="-16.9" y1="219.0" x2="120.0" y2="366.9" stroke="#7cccf0" stroke-width="1.4" opacity="0.78"/>
<line x1="73.9" y1="312.4" x2="216.4" y2="466.3" stroke="#2a66bf" stroke-width="1.6" opacity="0.80"/>
<line x1="-12.4" y1="214.8" x2="218.6" y2="464.3" stroke="#88d2f2" stroke-width="1.1" opacity="0.69"/>
<line x1="75.9" y1="304.0" x2="132.6" y2="365.3" stroke="#88d2f2" stroke-width="1.1" opacity="0.56"/>
<line x1="33.2" y1="251.5" x2="224.9" y2="458.5" stroke="#2a66bf" stroke-width="1.5" opacity="0.61"/>
<line x1="54.2" y1="269.0" x2="227.4" y2="456.1" stroke="#62b8e8" stroke-width="1.3" opacity="0.87"/>
<line x1="71.9" y1="283.5" x2="208.7" y2="431.3" stroke="#7cccf0" stroke-width="1.6" opacity="0.68"/>
<line x1="56.8" y1="241.4" x2="148.5" y2="340.4" stroke="#3278cc" stroke-width="2.2" opacity="0.87"/>
<line x1="14.1" y1="190.2" x2="245.1" y2="439.7" stroke="#2a66c0" stroke-width="1.3" opacity="0.91"/>
<line x1="16.7" y1="187.8" x2="241.3" y2="430.4" stroke="#2a66c0" stroke-width="1.5" opacity="0.92"/>
<line x1="71.9" y1="241.7" x2="250.6" y2="434.7" stroke="#68c0ec" stroke-width="1.2" opacity="0.95"/>
<line x1="90.8" y1="257.0" x2="253.1" y2="432.3" stroke="#3278cc" stroke-width="1.6" opacity="0.86"/>
<line x1="54.4" y1="212.1" x2="255.9" y2="429.7" stroke="#2a66c0" stroke-width="1.3" opacity="0.76"/>
<line x1="70.0" y1="222.6" x2="259.0" y2="426.8" stroke="#8ed6f2" stroke-width="2.0" opacity="0.74"/>
<line x1="31.0" y1="174.6" x2="217.5" y2="376.2" stroke="#7ccdf0" stroke-width="1.3" opacity="0.95"/>
<line x1="33.8" y1="172.0" x2="264.8" y2="421.5" stroke="#8ed6f2" stroke-width="2.1" opacity="0.81"/>
<line x1="36.8" y1="169.2" x2="267.8" y2="418.7" stroke="#3f8cd8" stroke-width="1.5" opacity="0.82"/>
<line x1="39.0" y1="167.2" x2="270.0" y2="416.7" stroke="#4a9ae0" stroke-width="1.4" opacity="0.75"/>
<line x1="41.1" y1="165.2" x2="177.5" y2="312.5" stroke="#3580d0" stroke-width="1.3" opacity="0.80"/>
<line x1="52.4" y1="172.6" x2="268.0" y2="405.4" stroke="#68c0ec" stroke-width="1.7" opacity="1.00"/>
<line x1="87.3" y1="205.2" x2="277.1" y2="410.1" stroke="#4a9ae0" stroke-width="1.3" opacity="0.79"/>
<line x1="115.9" y1="229.9" x2="280.2" y2="407.3" stroke="#7ccdf0" stroke-width="1.5" opacity="0.61"/>
<line x1="110.1" y1="219.6" x2="256.5" y2="377.8" stroke="#b0e8f4" stroke-width="3.7" opacity="0.80"/>
<line x1="113.4" y1="219.1" x2="284.2" y2="403.5" stroke="#7ccdf0" stroke-width="1.8" opacity="0.95"/>
<line x1="55.9" y1="151.5" x2="286.9" y2="401.0" stroke="#a4e2f2" stroke-width="3.3" opacity="0.96"/>
<line x1="58.1" y1="149.5" x2="289.0" y2="398.8" stroke="#3f8cd8" stroke-width="1.4" opacity="0.73"/>
<line x1="102.6" y1="191.3" x2="292.2" y2="396.1" stroke="#a4e2f2" stroke-width="2.3" opacity="0.73"/>
<line x1="128.7" y1="214.3" x2="294.8" y2="393.7" stroke="#8ed6f2" stroke-width="1.8" opacity="0.61"/>
<line x1="73.7" y1="148.5" x2="206.5" y2="291.9" stroke="#98dcf0" stroke-width="3.3" opacity="0.91"/>
<line x1="149.6" y1="225.1" x2="300.7" y2="388.3" stroke="#bcecf6" stroke-width="2.4" opacity="0.76"/>
<line x1="82.0" y1="145.8" x2="249.2" y2="326.5" stroke="#b0e8f4" stroke-width="2.3" opacity="0.90"/>
<line x1="75.2" y1="133.7" x2="254.2" y2="327.1" stroke="#98dcf0" stroke-width="2.0" opacity="0.91"/>
<line x1="78.0" y1="131.0" x2="222.0" y2="286.5" stroke="#a4e2f2" stroke-width="3.5" opacity="0.73"/>
<line x1="81.1" y1="128.2" x2="289.5" y2="353.3" stroke="#4a9ae0" stroke-width="1.7" opacity="0.68"/>
<line x1="83.3" y1="126.1" x2="314.3" y2="375.6" stroke="#a4e2f2" stroke-width="4.0" opacity="0.82"/>
<line x1="86.2" y1="123.5" x2="231.6" y2="280.6" stroke="#4a9ae0" stroke-width="1.2" opacity="0.67"/>
<line x1="89.2" y1="120.7" x2="287.9" y2="335.2" stroke="#3f8cd8" stroke-width="1.3" opacity="0.98"/>
<line x1="103.3" y1="130.5" x2="282.5" y2="324.0" stroke="#bcecf6" stroke-width="3.3" opacity="0.85"/>
</g>
<polygon points="99.7,340.7 100.5,342.1 101.7,343.8 103.2,345.8 104.8,347.9 106.4,350.1 107.9,352.0 109.3,354.0 110.7,355.9 112.0,357.7 113.2,359.4 114.2,361.1 115.2,362.6 116.1,364.2 117.0,365.7 117.9,367.4 118.9,369.1 120.0,371.0 121.1,372.9 122.4,374.5 123.7,376.1 124.9,377.6 126.1,379.2 127.3,380.6 128.4,382.1 129.4,383.5 130.5,385.0 131.6,386.5 132.7,388.0 133.7,389.5 134.7,390.9 135.8,391.9 136.9,393.0 138.3,394.7 140.1,396.8 142.1,399.2 144.6,401.9 147.2,404.5 149.7,406.9 152.2,409.1 154.4,410.9 156.2,412.4 157.5,413.2 173.6,398.2 172.5,397.0 170.9,395.4 169.0,393.4 167.0,391.2 165.1,389.0 163.4,387.0 161.9,385.0 160.6,383.2 159.4,381.3 158.4,379.6 157.3,377.9 156.2,376.3 155.0,374.6 153.9,372.9 152.7,371.3 151.5,369.7 150.3,368.0 149.1,366.4 147.9,364.8 146.6,363.1 145.3,361.5 144.0,359.8 142.6,358.2 141.3,356.5 139.9,354.8 138.6,353.2 137.3,351.5 135.9,349.9 134.5,348.3 133.1,346.7 131.6,345.0 130.1,343.4 128.6,341.8 127.0,340.1 125.3,338.4 123.7,336.8 122.0,335.0 120.2,333.1 118.3,331.2 116.6,329.4 115.1,327.9 114.0,326.8" fill="#2a5cba" opacity="0.65" filter="url(#b3)"/>
<polygon points="26.6,241.5 27.3,242.1 28.0,242.9 28.9,243.9 30.2,245.2 31.7,246.9 33.7,249.0 36.1,251.6 39.1,254.8 42.5,258.4 46.0,262.2 49.5,265.9 52.9,269.5 56.1,272.9 59.3,276.2 62.6,279.6 65.8,282.9 68.9,286.2 72.1,289.5 75.3,292.8 78.4,296.2 81.5,299.5 84.7,302.8 87.9,306.2 91.2,309.6 94.4,313.3 97.8,317.2 101.1,321.0 104.4,324.7 107.3,328.1 109.8,331.0 111.7,333.5 113.3,335.5 114.5,337.3 115.6,338.9 116.7,340.5 118.0,342.3 119.3,344.2 120.7,346.1 122.1,348.0 123.3,349.8 124.5,351.6 125.6,353.3 126.9,354.8 128.2,356.3 129.5,357.9 130.8,359.5 132.2,361.1 133.5,362.8 134.9,364.5 136.2,366.1 137.5,367.7 138.7,369.3 139.9,370.9 141.1,372.4 142.6,373.8 144.0,375.2 145.4,376.6 146.8,378.0 148.2,379.4 149.6,380.8 150.9,382.1 152.1,383.5 153.5,385.1 155.1,386.8 156.8,388.7 158.7,390.7 160.8,392.7 163.1,394.8 165.4,396.8 167.5,398.6 169.3,400.0 170.7,401.0 183.1,389.4 181.9,388.1 180.3,386.4 178.5,384.5 176.7,382.5 174.9,380.6 173.6,378.9 172.5,377.5 171.5,376.0 170.4,374.4 169.4,372.7 168.2,370.8 166.9,368.9 165.7,367.1 164.5,365.4 163.3,363.7 162.0,362.0 160.8,360.3 159.5,358.6 158.2,356.8 156.8,355.1 155.5,353.4 154.1,351.7 152.8,350.0 151.4,348.3 150.1,346.7 148.7,345.0 147.3,343.3 145.9,341.6 144.4,339.8 142.8,338.0 141.2,336.2 139.6,334.5 137.9,332.8 136.3,331.1 134.7,329.4 133.1,327.8 131.6,326.2 130.3,324.8 128.9,323.4 127.4,321.8 125.5,319.9 123.3,317.7 120.5,314.9 117.3,311.7 113.8,308.2 110.2,304.7 106.7,301.1 103.3,297.7 100.2,294.4 97.0,291.1 93.9,287.8 90.8,284.5 87.6,281.1 84.4,277.8 81.2,274.4 78.0,271.1 74.8,267.8 71.6,264.5 68.4,261.1 65.2,257.8 61.9,254.3 58.4,250.6 54.9,246.8 51.6,243.2 48.6,240.0 46.1,237.4 44.1,235.3 42.6,233.6 41.4,232.3 40.4,231.3 39.7,230.5 39.1,229.9" fill="#1c3a94" opacity="0.75" filter="url(#b2)"/>
<polygon points="34.0,234.6 34.6,235.3 35.3,236.1 36.3,237.1 37.5,238.4 39.0,240.0 41.0,242.1 43.5,244.8 46.5,248.0 49.8,251.6 53.3,255.4 56.8,259.1 60.2,262.6 63.3,266.0 66.5,269.3 69.8,272.6 73.0,276.0 76.2,279.3 79.3,282.6 82.5,286.0 85.7,289.3 88.8,292.6 92.0,296.0 95.1,299.3 98.3,302.6 101.7,306.0 105.3,309.6 108.9,313.2 112.4,316.7 115.6,319.8 118.3,322.6 120.5,324.8 122.3,326.7 123.8,328.2 125.2,329.7 126.6,331.1 128.0,332.6 129.6,334.3 131.3,335.9 132.9,337.6 134.5,339.3 136.1,341.0 137.6,342.7 139.1,344.4 140.5,346.0 141.9,347.7 143.3,349.4 144.6,351.1 146.0,352.7 147.3,354.4 148.6,356.1 150.0,357.8 151.3,359.4 152.6,361.1 153.9,362.8 155.1,364.5 156.4,366.1 157.6,367.8 158.8,369.5 160.0,371.2 161.2,372.9 162.3,374.6 163.4,376.4 164.5,378.1 165.6,379.8 166.8,381.6 168.1,383.3 169.6,385.1 171.5,387.2 173.4,389.3 175.3,391.3 176.8,392.9 178.0,394.1 181.6,390.7 180.5,389.5 178.9,387.8 177.1,385.9 175.2,383.8 173.4,381.9 172.0,380.2 170.9,378.6 169.8,377.1 168.7,375.4 167.7,373.7 166.5,371.9 165.3,370.1 164.1,368.3 162.9,366.6 161.6,364.9 160.4,363.2 159.2,361.5 157.9,359.8 156.6,358.1 155.2,356.4 153.9,354.6 152.6,353.0 151.2,351.3 149.8,349.6 148.5,347.9 147.1,346.3 145.8,344.6 144.3,342.8 142.9,341.1 141.3,339.3 139.7,337.6 138.1,335.9 136.5,334.1 134.9,332.5 133.2,330.8 131.6,329.1 130.2,327.6 128.8,326.2 127.4,324.8 125.9,323.2 124.1,321.3 121.9,319.1 119.1,316.3 115.9,313.1 112.4,309.7 108.8,306.1 105.3,302.5 101.9,299.1 98.7,295.8 95.6,292.5 92.4,289.2 89.3,285.9 86.2,282.5 83.0,279.2 79.8,275.8 76.6,272.5 73.4,269.2 70.2,265.9 67.0,262.5 63.8,259.2 60.5,255.7 57.0,251.9 53.5,248.2 50.1,244.6 47.1,241.4 44.6,238.7 42.7,236.6 41.1,235.0 39.9,233.7 39.0,232.7 38.2,231.9 37.6,231.2" fill="#0d1650" opacity="0.8" filter="url(#b1)"/>
<polygon points="27.0,241.1 27.6,241.8 28.4,242.6 29.3,243.6 30.5,244.9 32.1,246.5 34.0,248.6 36.5,251.3 39.5,254.5 42.9,258.1 46.4,261.9 49.9,265.6 53.3,269.2 56.5,272.5 59.7,275.9 62.9,279.2 66.1,282.6 69.3,285.9 72.5,289.2 75.6,292.5 78.8,295.8 81.9,299.1 85.1,302.5 88.3,305.9 91.5,309.2 95.0,312.7 98.6,316.3 102.2,319.9 105.7,323.4 108.9,326.6 111.6,329.3 113.8,331.5 115.5,333.3 117.0,334.8 118.3,336.2 119.7,337.6 121.2,339.2 122.8,340.9 124.4,342.6 126.0,344.2 127.6,345.8 129.1,347.4 130.5,349.0 131.9,350.6 133.2,352.1 134.6,353.8 135.9,355.4 137.2,357.0 138.6,358.7 139.9,360.4 141.2,362.0 142.5,363.7 143.8,365.3 145.1,366.9 146.3,368.5 147.5,370.1 148.7,371.7 149.9,373.3 151.0,375.0 152.2,376.6 153.3,378.2 154.4,379.8 155.4,381.4 156.5,383.2 157.7,385.1 159.1,387.1 160.6,389.2 162.4,391.3 164.4,393.6 166.5,395.8 168.3,397.8 169.9,399.4 171.0,400.6 175.0,396.9 173.9,395.7 172.3,394.0 170.5,392.0 168.5,389.9 166.6,387.7 164.9,385.7 163.5,383.9 162.3,382.0 161.1,380.3 160.0,378.5 159.0,376.8 157.8,375.1 156.7,373.5 155.5,371.8 154.3,370.1 153.1,368.5 151.9,366.9 150.7,365.2 149.4,363.6 148.2,361.9 146.9,360.2 145.5,358.6 144.2,356.9 142.8,355.3 141.5,353.6 140.2,351.9 138.8,350.3 137.4,348.6 136.0,347.0 134.6,345.3 133.1,343.7 131.6,342.0 130.0,340.4 128.4,338.7 126.8,337.1 125.2,335.4 123.7,333.8 122.3,332.4 121.0,331.0 119.5,329.5 117.7,327.6 115.5,325.4 112.7,322.7 109.6,319.5 106.1,316.0 102.5,312.5 98.9,308.9 95.5,305.4 92.2,302.1 89.0,298.7 85.9,295.4 82.8,292.0 79.6,288.7 76.5,285.4 73.3,282.1 70.1,278.7 66.9,275.4 63.7,272.1 60.5,268.7 57.2,265.4 53.9,261.8 50.4,258.1 46.9,254.3 43.5,250.8 40.5,247.5 38.0,244.9 36.1,242.8 34.5,241.1 33.3,239.8 32.4,238.8 31.7,238.0 31.0,237.4" fill="#101a58" opacity="0.8" filter="url(#b1)"/>
<polygon points="29.2,239.1 29.8,239.7 30.6,240.5 31.5,241.5 32.7,242.8 34.3,244.5 36.2,246.6 38.7,249.2 41.8,252.4 45.2,255.9 48.7,259.7 52.3,263.4 55.7,266.9 58.9,270.2 62.2,273.5 65.4,276.8 68.6,280.1 71.9,283.4 75.1,286.7 78.3,290.0 81.5,293.3 84.7,296.5 87.9,299.8 91.1,303.1 94.4,306.4 97.9,309.9 101.5,313.4 105.2,317.0 108.7,320.4 111.9,323.5 114.7,326.2 116.9,328.4 118.7,330.2 120.2,331.7 121.6,333.1 123.0,334.5 124.5,336.0 126.1,337.7 127.7,339.4 129.3,341.0 130.9,342.7 132.5,344.3 133.9,345.9 135.4,347.5 136.8,349.2 138.2,350.8 139.6,352.4 140.9,354.1 142.3,355.7 143.7,357.3 145.1,359.0 146.4,360.6 147.8,362.2 149.1,363.8 150.4,365.4 151.6,367.1 152.8,368.7 154.0,370.3 155.2,372.0 156.4,373.6 157.6,375.3 158.7,377.0 159.7,378.7 160.8,380.5 161.9,382.3 163.2,384.2 164.5,386.1 166.2,388.1 168.1,390.3 170.0,392.5 171.8,394.5 173.4,396.2 174.5,397.4 178.5,393.6 177.4,392.4 175.8,390.8 173.9,388.8 171.9,386.8 170.0,384.8 168.5,382.9 167.2,381.3 166.0,379.6 164.9,377.9 163.7,376.2 162.6,374.4 161.4,372.7 160.2,371.0 159.0,369.3 157.9,367.6 156.7,365.9 155.5,364.2 154.2,362.6 153.0,360.8 151.7,359.1 150.4,357.4 149.1,355.7 147.8,354.0 146.5,352.3 145.2,350.6 143.9,348.9 142.5,347.2 141.1,345.5 139.7,343.8 138.3,342.1 136.7,340.4 135.1,338.7 133.5,337.0 131.9,335.3 130.3,333.6 128.7,332.0 127.2,330.4 125.9,329.0 124.6,327.5 123.1,326.0 121.3,324.1 119.1,321.8 116.4,319.0 113.2,315.8 109.8,312.3 106.3,308.7 102.7,305.0 99.4,301.6 96.3,298.2 93.1,294.8 90.0,291.5 87.0,288.1 83.9,284.7 80.7,281.3 77.6,277.9 74.4,274.6 71.2,271.2 68.1,267.9 64.9,264.5 61.7,261.1 58.5,257.5 55.0,253.8 51.5,250.0 48.2,246.4 45.2,243.1 42.8,240.4 40.8,238.3 39.3,236.7 38.1,235.4 37.2,234.4 36.4,233.6 35.8,232.9" fill="#120a1c" opacity="0.9" filter="url(#b05)"/>
<polygon points="29.9,238.4 30.6,239.1 31.3,239.8 32.2,240.9 33.4,242.1 35.0,243.8 36.9,245.9 39.5,248.5 42.5,251.7 45.9,255.3 49.4,259.0 53.0,262.7 56.4,266.2 59.6,269.5 62.9,272.9 66.1,276.1 69.4,279.4 72.6,282.7 75.8,286.0 79.0,289.3 82.2,292.6 85.4,295.9 88.6,299.1 91.8,302.4 95.1,305.7 98.6,309.2 102.2,312.7 105.9,316.3 109.4,319.7 112.6,322.8 115.4,325.5 117.6,327.7 119.4,329.5 121.0,331.0 122.3,332.4 123.7,333.8 125.2,335.3 126.8,337.0 128.5,338.7 130.1,340.3 131.6,342.0 133.2,343.6 134.7,345.3 136.1,346.9 137.6,348.5 139.0,350.1 140.3,351.8 141.7,353.4 143.1,355.1 144.5,356.7 145.8,358.3 147.2,360.0 148.6,361.6 149.9,363.2 151.2,364.8 152.4,366.5 153.7,368.1 154.9,369.8 156.1,371.4 157.2,373.1 158.4,374.7 159.5,376.4 160.6,378.2 161.6,379.9 162.8,381.7 164.0,383.6 165.3,385.4 166.9,387.4 168.8,389.6 170.7,391.8 172.6,393.8 174.1,395.5 175.2,396.7 177.8,394.3 176.7,393.1 175.0,391.5 173.1,389.5 171.2,387.5 169.3,385.4 167.7,383.6 166.4,381.9 165.1,380.2 164.0,378.4 162.9,376.7 161.8,375.0 160.6,373.3 159.4,371.5 158.2,369.9 157.1,368.2 155.9,366.5 154.7,364.8 153.4,363.2 152.2,361.4 150.9,359.7 149.6,358.0 148.3,356.3 147.0,354.6 145.7,352.9 144.4,351.2 143.1,349.6 141.7,347.9 140.4,346.2 139.0,344.4 137.5,342.7 136.0,341.0 134.4,339.4 132.8,337.7 131.2,336.0 129.6,334.3 128.0,332.7 126.5,331.1 125.2,329.7 123.8,328.2 122.4,326.7 120.6,324.8 118.4,322.5 115.7,319.7 112.5,316.5 109.1,313.0 105.5,309.4 102.0,305.7 98.7,302.3 95.5,298.9 92.4,295.5 89.3,292.1 86.2,288.8 83.1,285.4 80.0,282.0 76.8,278.6 73.7,275.3 70.5,271.9 67.3,268.6 64.2,265.2 61.0,261.8 57.7,258.2 54.3,254.5 50.8,250.7 47.5,247.1 44.5,243.8 42.1,241.1 40.1,239.0 38.6,237.4 37.4,236.1 36.4,235.1 35.7,234.3 35.1,233.6" fill="#b81f26" opacity="1" filter="url(#b07)"/>
<polygon points="77.9,284.0 79.8,286.3 82.4,289.5 85.6,293.2 89.1,297.2 92.6,301.2 95.9,305.0 99.3,308.5 102.8,312.1 106.4,315.7 109.9,319.2 113.1,322.3 115.8,325.1 118.0,327.3 119.8,329.1 121.3,330.7 122.7,332.1 124.1,333.5 125.6,335.0 127.2,336.7 128.8,338.3 130.4,340.0 132.0,341.6 133.5,343.3 135.0,344.9 136.5,346.6 137.9,348.2 139.3,349.9 140.7,351.5 142.0,353.2 143.4,354.8 144.8,356.4 146.2,358.1 147.5,359.7 148.8,361.4 150.2,363.0 151.5,364.6 152.7,366.3 154.0,367.9 155.2,369.5 156.5,371.1 157.7,372.8 158.9,374.4 160.3,376.2 161.7,378.1 163.1,380.1 164.5,381.9 165.6,383.4 166.5,384.5 166.5,384.5 165.8,383.3 164.9,381.6 163.8,379.7 162.5,377.6 161.3,375.5 160.1,373.6 159.0,371.9 157.8,370.1 156.7,368.4 155.5,366.8 154.3,365.1 153.1,363.4 151.9,361.7 150.6,360.0 149.3,358.3 148.0,356.6 146.7,354.9 145.4,353.2 144.1,351.5 142.7,349.8 141.4,348.1 140.0,346.5 138.6,344.8 137.2,343.1 135.6,341.4 134.1,339.7 132.5,338.0 130.8,336.3 129.2,334.7 127.6,333.0 126.2,331.4 124.8,330.0 123.5,328.6 122.0,327.0 120.2,325.2 118.0,322.9 115.2,320.2 112.0,317.0 108.5,313.6 104.9,310.0 101.3,306.4 97.9,303.0 94.3,299.6 90.5,295.9 86.7,292.3 83.1,288.9 80.1,286.0 77.9,284.0" fill="#e8321c" opacity="1" filter="url(#b07)"/>
<polygon points="116.9,324.0 117.9,325.2 119.2,326.8 120.8,328.7 122.6,330.7 124.4,332.7 126.0,334.6 127.6,336.3 129.1,338.0 130.7,339.7 132.3,341.4 133.8,343.1 135.2,344.8 136.7,346.4 138.1,348.0 139.5,349.7 140.9,351.3 142.2,353.0 143.6,354.6 145.0,356.3 146.4,357.9 147.8,359.5 149.1,361.1 150.5,362.8 151.8,364.4 153.2,366.1 154.7,367.9 156.1,369.8 157.5,371.5 158.6,373.0 159.5,374.0 159.5,374.0 158.8,372.9 157.8,371.3 156.7,369.4 155.4,367.5 154.0,365.5 152.8,363.6 151.6,361.9 150.3,360.2 149.1,358.5 147.8,356.8 146.5,355.1 145.2,353.4 143.9,351.7 142.5,350.0 141.2,348.3 139.8,346.6 138.4,344.9 137.0,343.2 135.4,341.6 133.8,339.9 132.2,338.3 130.5,336.7 128.9,335.0 127.2,333.4 125.4,331.7 123.4,329.9 121.5,328.1 119.6,326.4 118.1,325.0 116.9,324.0" fill="#ff8c1c" opacity="1" filter="url(#b05)"/>
<polygon points="126.6,334.0 127.6,335.2 129.0,336.7 130.6,338.6 132.4,340.6 134.1,342.6 135.7,344.4 137.1,346.1 138.5,347.7 139.9,349.4 141.3,351.0 142.6,352.7 144.0,354.3 145.5,356.1 147.1,357.9 148.7,359.8 150.1,361.5 151.4,363.0 152.3,364.0 152.3,364.0 151.5,362.9 150.4,361.3 149.1,359.5 147.6,357.5 146.2,355.5 144.8,353.7 143.5,352.0 142.1,350.3 140.8,348.6 139.4,347.0 138.0,345.3 136.5,343.6 134.8,341.9 133.0,340.0 131.0,338.2 129.3,336.5 127.7,335.0 126.6,334.0" fill="#ffd62a" opacity="1" filter="url(#b05)"/>
<circle cx="176.5" cy="395.5" r="3.4" fill="#c8242a" filter="url(#b1)"/>
</g>
<rect x="38.60" y="243.40" width="162.10" height="161.60" fill="none" stroke="#111" stroke-width="0.75"/>
<line x1="47.14" y1="405.00" x2="47.14" y2="399.20" stroke="#111" stroke-width="0.9"/>
<line x1="47.14" y1="243.40" x2="47.14" y2="249.20" stroke="#111" stroke-width="0.9"/>
<line x1="83.49" y1="405.00" x2="83.49" y2="399.20" stroke="#111" stroke-width="0.9"/>
<line x1="83.49" y1="243.40" x2="83.49" y2="249.20" stroke="#111" stroke-width="0.9"/>
<line x1="119.83" y1="405.00" x2="119.83" y2="399.20" stroke="#111" stroke-width="0.9"/>
<line x1="119.83" y1="243.40" x2="119.83" y2="249.20" stroke="#111" stroke-width="0.9"/>
<line x1="156.18" y1="405.00" x2="156.18" y2="399.20" stroke="#111" stroke-width="0.9"/>
<line x1="156.18" y1="243.40" x2="156.18" y2="249.20" stroke="#111" stroke-width="0.9"/>
<line x1="192.52" y1="405.00" x2="192.52" y2="399.20" stroke="#111" stroke-width="0.9"/>
<line x1="192.52" y1="243.40" x2="192.52" y2="249.20" stroke="#111" stroke-width="0.9"/>
<line x1="38.60" y1="395.39" x2="44.40" y2="395.39" stroke="#111" stroke-width="0.9"/>
<line x1="200.70" y1="395.39" x2="194.90" y2="395.39" stroke="#111" stroke-width="0.9"/>
<line x1="38.60" y1="359.79" x2="44.40" y2="359.79" stroke="#111" stroke-width="0.9"/>
<line x1="200.70" y1="359.79" x2="194.90" y2="359.79" stroke="#111" stroke-width="0.9"/>
<line x1="38.60" y1="324.20" x2="44.40" y2="324.20" stroke="#111" stroke-width="0.9"/>
<line x1="200.70" y1="324.20" x2="194.90" y2="324.20" stroke="#111" stroke-width="0.9"/>
<line x1="38.60" y1="288.61" x2="44.40" y2="288.61" stroke="#111" stroke-width="0.9"/>
<line x1="200.70" y1="288.61" x2="194.90" y2="288.61" stroke="#111" stroke-width="0.9"/>
<line x1="38.60" y1="253.01" x2="44.40" y2="253.01" stroke="#111" stroke-width="0.9"/>
<line x1="200.70" y1="253.01" x2="194.90" y2="253.01" stroke="#111" stroke-width="0.9"/>
<text x="47.14" y="417.50" text-anchor="middle" font-size="9.7">−200</text>
<text x="83.49" y="417.50" text-anchor="middle" font-size="9.7">−100</text>
<text x="119.83" y="417.50" text-anchor="middle" font-size="9.7">0</text>
<text x="156.18" y="417.50" text-anchor="middle" font-size="9.7">100</text>
<text x="192.52" y="417.50" text-anchor="middle" font-size="9.7">200</text>
<text x="33.40" y="398.83" text-anchor="end" font-size="9.7">−200</text>
<text x="33.40" y="363.24" text-anchor="end" font-size="9.7">−100</text>
<text x="33.40" y="327.64" text-anchor="end" font-size="9.7">0</text>
<text x="33.40" y="292.05" text-anchor="end" font-size="9.7">100</text>
<text x="33.40" y="256.45" text-anchor="end" font-size="9.7">200</text>
<line x1="77.00" y1="393.00" x2="57.28" y2="393.00" stroke="#1461ac" stroke-width="2.0"/>
<polygon points="52.00,393.00 58.60,389.70 58.60,396.30" fill="#1461ac"/>
<text x="41.30" y="239.80" text-anchor="start" font-size="9.7" ><tspan font-style="italic">B</tspan> = 13.5 T</text>
<text x="111.30" y="239.80" text-anchor="start" font-size="9.7" ><tspan font-style="italic">R</tspan><tspan font-size="6.8" dy="2.0" dx="0.3">xx</tspan><tspan dy="-2.0" dx="0.1">​</tspan> (kΩ)</text>
<rect x="152.40" y="235.50" width="48.20" height="4.50" fill="url(#cbA)" stroke="#222" stroke-width="0.6"/>
<line x1="152.40" y1="235.50" x2="152.40" y2="233.90" stroke="#222" stroke-width="0.6"/>
<line x1="180.50" y1="235.50" x2="180.50" y2="233.90" stroke="#222" stroke-width="0.6"/>
<line x1="200.60" y1="235.50" x2="200.60" y2="233.90" stroke="#222" stroke-width="0.6"/>
<text x="152.40" y="231.50" text-anchor="middle" font-size="9.7" >0</text>
<text x="180.50" y="231.50" text-anchor="middle" font-size="9.7" >1</text>
<text x="201.50" y="231.50" text-anchor="middle" font-size="9.7" >160</text>
<text transform="translate(8.60,323.50) rotate(-90)" text-anchor="middle" font-size="9.7"><tspan font-style="italic">V</tspan><tspan font-size="6.8" dy="2.0" dx="0.3">t</tspan><tspan dy="-2.0" dx="1.3">​</tspan>/<tspan font-style="italic">d</tspan><tspan font-size="6.8" dy="2.0" dx="0.3">t</tspan><tspan dy="-2.0" dx="1.3">​</tspan> (mV nm<tspan font-size="6.8" dy="-3.6">−1</tspan><tspan dy="3.6">​</tspan>)</text>
<text x="119.50" y="433.50" text-anchor="middle" font-size="9.7" ><tspan font-style="italic">V</tspan><tspan font-size="6.8" dy="2.0" dx="0.3">b</tspan><tspan dy="-2.0" dx="1.3">​</tspan>/<tspan font-style="italic">d</tspan><tspan font-size="6.8" dy="2.0" dx="0.3">b</tspan><tspan dy="-2.0" dx="1.3">​</tspan> (mV nm<tspan font-size="6.8" dy="-3.6">−1</tspan><tspan dy="3.6">​</tspan>)</text>
<text x="-0.60" y="233.50" font-size="12.8" font-weight="bold">b</text>
<g clip-path="url(#cc)">
<line x1="247.60" y1="70.20" x2="360.50" y2="70.20" stroke="#2a2a2a" stroke-width="0.75" stroke-dasharray="2.3,1.1"/>
<polyline points="246.19,67.24 250.42,66.18 254.66,64.70 258.18,64.06 261.71,64.70 264.53,65.33 267.36,64.91 270.18,65.54 273.00,66.39 275.12,67.66 277.24,68.93 279.35,69.78 282.88,70.41 287.12,71.05 291.35,71.47 294.17,71.89" fill="none" stroke="#f6bcbc" stroke-width="5" opacity="0.6" filter="url(#b1)"/>
<polyline points="246.19,64.70 250.42,63.64 254.66,62.16 258.18,61.52 261.71,62.16 264.53,62.79 267.36,62.37 270.18,63.00 273.00,63.85 275.12,65.12 277.24,66.39" fill="none" stroke="#bf1822" stroke-width="3.5" stroke-linejoin="round" filter="url(#b05)"/>
<polyline points="246.19,64.48 250.42,63.43 254.66,61.95 258.18,61.31 261.71,61.95 264.53,62.58 267.36,62.16 270.18,62.79 273.00,63.64 275.12,64.91 277.24,66.18" fill="none" stroke="#1a5fb4" stroke-width="1.3" stroke-linejoin="round" filter="url(#b05)"/>
<polyline points="275.82,68.30 279.35,69.56 282.88,70.20 287.12,70.84 291.35,71.26 294.17,71.68" fill="none" stroke="#d8363c" stroke-width="1.2" opacity="0.85" filter="url(#b05)"/>
<polyline points="275.82,65.97 279.35,67.24 282.88,67.87 287.12,68.51 291.35,68.93 294.17,69.35" fill="none" stroke="#a9cdee" stroke-width="2.6" opacity="0.95" filter="url(#b05)"/>
<polyline points="275.82,64.70 279.35,65.97 282.88,66.60 287.12,67.24 291.35,67.66" fill="none" stroke="#2a6cbc" stroke-width="0.9" opacity="0.9"/>
<polyline points="293.47,69.35 295.58,70.20 296.99,68.93 298.40,70.20 299.82,71.47 301.23,68.93 302.64,71.05 304.05,72.74 305.11,70.20 306.03,70.62" fill="none" stroke="#c02028" stroke-width="0.9"/>
<polyline points="293.82,68.30 295.94,69.14 297.35,67.87 298.76,69.14 300.17,70.41 301.58,67.87" fill="none" stroke="#2a6cbc" stroke-width="0.7" opacity="0.8"/>
<polygon points="310.05,74.01 313.65,76.89 317.46,80.57 320.99,84.21 325.36,92.30 328.39,96.02 331.22,99.62 337.14,105.51 343.00,111.39 348.86,117.99 351.04,120.15 353.44,123.12 353.44,121.00 351.04,117.99 347.38,112.11 343.00,106.27 338.63,99.62 334.18,92.30 329.81,84.97 325.36,77.61 320.99,72.49 317.46,71.05" fill="#f4b4b4" opacity="0.45" filter="url(#b05)"/>
<polygon points="320.99,84.21 325.36,92.30 328.39,96.02 331.22,99.62 337.14,105.51 343.00,111.39 348.86,117.99 351.04,120.15 353.44,123.12 351.33,121.00 348.93,117.99 345.26,112.11 340.88,106.27 336.51,99.62 332.06,92.30 327.69,84.97" fill="#e67878" opacity="0.4" filter="url(#b1)"/>
<polyline points="323.24,93.57 326.28,97.29 329.10,100.89 335.03,106.78 340.88,112.66 346.74,119.26 348.93,121.42 351.33,124.39" fill="none" stroke="#8fbbe6" stroke-width="3.0" opacity="0.75" filter="url(#b07)"/>
<polyline points="324.51,92.81 327.55,96.53 330.37,100.13 336.30,106.01 342.15,111.90 348.01,118.50 350.20,120.66 352.60,123.62" fill="none" stroke="#1a5fb4" stroke-width="1.6" filter="url(#b05)"/>
<polyline points="327.05,91.45 330.09,95.18 332.91,98.78 338.84,104.66 344.69,110.54 350.55,117.15 352.74,119.31 355.14,122.27" fill="none" stroke="#b8141e" stroke-width="3.0" filter="url(#b05)"/>
<polyline points="305.88,71.26 309.62,74.26 313.22,77.14 317.03,80.83 320.56,84.47 324.94,92.55 327.97,96.28 330.79,99.88 336.72,105.76 342.58,111.64 348.43,118.25 350.62,120.41 353.02,123.37" fill="none" stroke="#1a5fb4" stroke-width="0.9"/>
<polyline points="306.73,70.67 310.47,73.67 314.07,76.55 317.88,80.23 321.41,83.87 325.78,91.96 328.82,95.68 331.64,99.28 337.57,105.17 343.42,111.05 349.28,117.66 351.47,119.81 353.87,122.78" fill="none" stroke="#b8141e" stroke-width="0.9"/>
<polyline points="320.99,72.49 325.36,77.61 329.81,84.97 334.18,92.30 338.63,99.62 343.00,106.27 347.38,112.11 351.04,117.99 353.44,121.00" fill="none" stroke="#cf4a50" stroke-width="0.7" opacity="0.9"/>
<polyline points="325.92,77.40 330.37,84.76 334.74,92.09 339.19,99.41 343.56,106.06 347.94,111.90 351.61,117.78 354.01,120.79" fill="none" stroke="#2a6cbc" stroke-width="0.6" opacity="0.7"/>
<polyline points="358.74,101.95 358.74,121.00" fill="none" stroke="#f0a0a0" stroke-width="2.4" opacity="0.7" filter="url(#b05)"/>
<polyline points="357.32,121.00 357.68,113.38 358.38,109.15" fill="none" stroke="#c02028" stroke-width="1.4"/>
<polyline points="359.44,117.61 359.44,108.30" fill="none" stroke="#1a5fb4" stroke-width="1.6"/>
</g>
<rect x="247.60" y="19.40" width="112.90" height="101.60" fill="none" stroke="#111" stroke-width="0.75"/>
<line x1="275.82" y1="121.00" x2="275.82" y2="115.20" stroke="#111" stroke-width="0.9"/>
<line x1="275.82" y1="19.40" x2="275.82" y2="25.20" stroke="#111" stroke-width="0.9"/>
<line x1="304.05" y1="121.00" x2="304.05" y2="115.20" stroke="#111" stroke-width="0.9"/>
<line x1="304.05" y1="19.40" x2="304.05" y2="25.20" stroke="#111" stroke-width="0.9"/>
<line x1="332.27" y1="121.00" x2="332.27" y2="115.20" stroke="#111" stroke-width="0.9"/>
<line x1="332.27" y1="19.40" x2="332.27" y2="25.20" stroke="#111" stroke-width="0.9"/>
<line x1="247.60" y1="112.53" x2="253.40" y2="112.53" stroke="#111" stroke-width="0.9"/>
<line x1="360.50" y1="112.53" x2="354.70" y2="112.53" stroke="#111" stroke-width="0.9"/>
<line x1="247.60" y1="70.20" x2="253.40" y2="70.20" stroke="#111" stroke-width="0.9"/>
<line x1="360.50" y1="70.20" x2="354.70" y2="70.20" stroke="#111" stroke-width="0.9"/>
<line x1="247.60" y1="27.87" x2="253.40" y2="27.87" stroke="#111" stroke-width="0.9"/>
<line x1="360.50" y1="27.87" x2="354.70" y2="27.87" stroke="#111" stroke-width="0.9"/>
<line x1="247.60" y1="91.37" x2="250.60" y2="91.37" stroke="#111" stroke-width="0.6"/>
<line x1="360.50" y1="91.37" x2="357.50" y2="91.37" stroke="#111" stroke-width="0.6"/>
<line x1="247.60" y1="49.03" x2="250.60" y2="49.03" stroke="#111" stroke-width="0.6"/>
<line x1="360.50" y1="49.03" x2="357.50" y2="49.03" stroke="#111" stroke-width="0.6"/>
<text x="247.60" y="133.50" text-anchor="middle" font-size="9.7">−0.8</text>
<text x="275.82" y="133.50" text-anchor="middle" font-size="9.7">−0.4</text>
<text x="304.05" y="133.50" text-anchor="middle" font-size="9.7">0.0</text>
<text x="332.27" y="133.50" text-anchor="middle" font-size="9.7">0.4</text>
<text x="360.50" y="133.50" text-anchor="middle" font-size="9.7">0.8</text>
<text x="242.40" y="115.98" text-anchor="end" font-size="9.7">−1</text>
<text x="242.40" y="73.64" text-anchor="end" font-size="9.7">0</text>
<text x="242.40" y="31.31" text-anchor="end" font-size="9.7">1</text>
<text x="253.00" y="16.20" text-anchor="start" font-size="9.7" >Δ<tspan font-style="italic">n</tspan><tspan font-size="6.8" dy="2.0" dx="0.3">H</tspan><tspan dy="-2.0" dx="1.3">​</tspan> (10<tspan font-size="6.8" dy="-3.6">12</tspan><tspan dy="3.6">​</tspan> cm<tspan font-size="6.8" dy="-3.6">−2</tspan><tspan dy="3.6">​</tspan>)</text>
<rect x="328.20" y="11.50" width="32.20" height="4.50" fill="url(#cbC)" stroke="#222" stroke-width="0.6"/>
<line x1="328.20" y1="11.50" x2="328.20" y2="9.90" stroke="#222" stroke-width="0.6"/>
<line x1="344.30" y1="11.50" x2="344.30" y2="9.90" stroke="#222" stroke-width="0.6"/>
<line x1="360.40" y1="11.50" x2="360.40" y2="9.90" stroke="#222" stroke-width="0.6"/>
<text x="327.50" y="7.30" text-anchor="middle" font-size="9.7" >−5</text>
<text x="344.30" y="7.30" text-anchor="middle" font-size="9.7" >0</text>
<text x="360.40" y="7.30" text-anchor="middle" font-size="9.7" >5</text>
<text transform="translate(221.20,70.50) rotate(-90)" text-anchor="middle" font-size="9.7"><tspan font-style="italic">n</tspan> (10<tspan font-size="6.8" dy="-3.6">12</tspan><tspan dy="3.6">​</tspan> cm<tspan font-size="6.8" dy="-3.6">−2</tspan><tspan dy="3.6">​</tspan>)</text>
<text x="304.00" y="149.50" text-anchor="middle" font-size="9.7" ><tspan font-style="italic">D</tspan> (V nm<tspan font-size="6.8" dy="-3.6">−1</tspan><tspan dy="3.6">​</tspan>)</text>
<text x="211.00" y="7.40" font-size="12.8" font-weight="bold">c</text>
<rect x="247.60" y="161.60" width="56.45" height="101.40" fill="#edf3f8"/>
<rect x="304.05" y="161.60" width="56.45" height="101.40" fill="#fbf5f4"/>
<line x1="247.60" y1="237.65" x2="360.50" y2="237.65" stroke="#2a2a2a" stroke-width="0.75" stroke-dasharray="2.3,1.1"/>
<line x1="254.66" y1="247.03" x2="254.66" y2="245.00" stroke="#808080" stroke-width="0.7"/>
<line x1="256.77" y1="246.52" x2="256.77" y2="244.49" stroke="#808080" stroke-width="0.7"/>
<line x1="258.89" y1="246.02" x2="258.89" y2="243.99" stroke="#808080" stroke-width="0.7"/>
<line x1="261.01" y1="245.25" x2="261.01" y2="243.23" stroke="#808080" stroke-width="0.7"/>
<line x1="263.12" y1="244.49" x2="263.12" y2="242.47" stroke="#808080" stroke-width="0.7"/>
<line x1="265.24" y1="243.99" x2="265.24" y2="241.96" stroke="#808080" stroke-width="0.7"/>
<line x1="267.36" y1="242.97" x2="267.36" y2="240.95" stroke="#808080" stroke-width="0.7"/>
<line x1="269.47" y1="241.45" x2="269.47" y2="238.92" stroke="#808080" stroke-width="0.7"/>
<line x1="271.59" y1="240.19" x2="271.59" y2="237.14" stroke="#808080" stroke-width="0.7"/>
<line x1="273.71" y1="241.96" x2="273.71" y2="239.42" stroke="#808080" stroke-width="0.7"/>
<line x1="275.82" y1="245.00" x2="275.82" y2="242.47" stroke="#808080" stroke-width="0.7"/>
<line x1="277.94" y1="248.04" x2="277.94" y2="245.51" stroke="#808080" stroke-width="0.7"/>
<line x1="280.06" y1="250.32" x2="280.06" y2="247.79" stroke="#808080" stroke-width="0.7"/>
<line x1="282.18" y1="252.10" x2="282.18" y2="249.56" stroke="#808080" stroke-width="0.7"/>
<line x1="284.29" y1="253.62" x2="284.29" y2="251.09" stroke="#808080" stroke-width="0.7"/>
<line x1="286.41" y1="254.63" x2="286.41" y2="252.10" stroke="#808080" stroke-width="0.7"/>
<line x1="288.53" y1="255.14" x2="288.53" y2="252.10" stroke="#808080" stroke-width="0.7"/>
<line x1="290.64" y1="253.87" x2="290.64" y2="250.83" stroke="#808080" stroke-width="0.7"/>
<line x1="292.76" y1="250.83" x2="292.76" y2="247.28" stroke="#808080" stroke-width="0.7"/>
<line x1="294.88" y1="247.28" x2="294.88" y2="243.23" stroke="#808080" stroke-width="0.7"/>
<line x1="296.99" y1="245.25" x2="296.99" y2="240.19" stroke="#808080" stroke-width="0.7"/>
<line x1="299.11" y1="243.73" x2="299.11" y2="237.65" stroke="#808080" stroke-width="0.7"/>
<line x1="297.51" y1="243.73" x2="300.71" y2="243.73" stroke="#808080" stroke-width="0.7"/>
<line x1="297.51" y1="237.65" x2="300.71" y2="237.65" stroke="#808080" stroke-width="0.7"/>
<line x1="301.23" y1="242.47" x2="301.23" y2="234.86" stroke="#808080" stroke-width="0.7"/>
<line x1="299.63" y1="242.47" x2="302.83" y2="242.47" stroke="#808080" stroke-width="0.7"/>
<line x1="299.63" y1="234.86" x2="302.83" y2="234.86" stroke="#808080" stroke-width="0.7"/>
<line x1="303.34" y1="241.20" x2="303.34" y2="232.07" stroke="#808080" stroke-width="0.7"/>
<line x1="301.74" y1="241.20" x2="304.94" y2="241.20" stroke="#808080" stroke-width="0.7"/>
<line x1="301.74" y1="232.07" x2="304.94" y2="232.07" stroke="#808080" stroke-width="0.7"/>
<line x1="305.46" y1="238.66" x2="305.46" y2="230.55" stroke="#808080" stroke-width="0.7"/>
<line x1="303.86" y1="238.66" x2="307.06" y2="238.66" stroke="#808080" stroke-width="0.7"/>
<line x1="303.86" y1="230.55" x2="307.06" y2="230.55" stroke="#808080" stroke-width="0.7"/>
<line x1="308.28" y1="230.04" x2="308.28" y2="225.99" stroke="#808080" stroke-width="0.7"/>
<line x1="311.11" y1="222.44" x2="311.11" y2="218.38" stroke="#808080" stroke-width="0.7"/>
<line x1="313.93" y1="215.60" x2="313.93" y2="211.54" stroke="#808080" stroke-width="0.7"/>
<line x1="316.75" y1="208.75" x2="316.75" y2="204.69" stroke="#808080" stroke-width="0.7"/>
<line x1="319.57" y1="202.16" x2="319.57" y2="196.08" stroke="#808080" stroke-width="0.7"/>
<line x1="317.97" y1="202.16" x2="321.17" y2="202.16" stroke="#808080" stroke-width="0.7"/>
<line x1="317.97" y1="196.08" x2="321.17" y2="196.08" stroke="#808080" stroke-width="0.7"/>
<line x1="322.40" y1="196.58" x2="322.40" y2="187.46" stroke="#808080" stroke-width="0.7"/>
<line x1="320.80" y1="196.58" x2="324.00" y2="196.58" stroke="#808080" stroke-width="0.7"/>
<line x1="320.80" y1="187.46" x2="324.00" y2="187.46" stroke="#808080" stroke-width="0.7"/>
<line x1="325.22" y1="196.84" x2="325.22" y2="180.61" stroke="#808080" stroke-width="0.7"/>
<line x1="323.62" y1="196.84" x2="326.82" y2="196.84" stroke="#808080" stroke-width="0.7"/>
<line x1="323.62" y1="180.61" x2="326.82" y2="180.61" stroke="#808080" stroke-width="0.7"/>
<line x1="327.34" y1="198.36" x2="327.34" y2="183.15" stroke="#808080" stroke-width="0.7"/>
<line x1="325.74" y1="198.36" x2="328.94" y2="198.36" stroke="#808080" stroke-width="0.7"/>
<line x1="325.74" y1="183.15" x2="328.94" y2="183.15" stroke="#808080" stroke-width="0.7"/>
<line x1="329.45" y1="199.12" x2="329.45" y2="188.98" stroke="#808080" stroke-width="0.7"/>
<line x1="327.85" y1="199.12" x2="331.05" y2="199.12" stroke="#808080" stroke-width="0.7"/>
<line x1="327.85" y1="188.98" x2="331.05" y2="188.98" stroke="#808080" stroke-width="0.7"/>
<line x1="331.57" y1="203.43" x2="331.57" y2="190.75" stroke="#808080" stroke-width="0.7"/>
<line x1="329.97" y1="203.43" x2="333.17" y2="203.43" stroke="#808080" stroke-width="0.7"/>
<line x1="329.97" y1="190.75" x2="333.17" y2="190.75" stroke="#808080" stroke-width="0.7"/>
<line x1="333.69" y1="209.00" x2="333.69" y2="193.79" stroke="#808080" stroke-width="0.7"/>
<line x1="332.09" y1="209.00" x2="335.29" y2="209.00" stroke="#808080" stroke-width="0.7"/>
<line x1="332.09" y1="193.79" x2="335.29" y2="193.79" stroke="#808080" stroke-width="0.7"/>
<line x1="335.80" y1="212.81" x2="335.80" y2="196.58" stroke="#808080" stroke-width="0.7"/>
<line x1="334.20" y1="212.81" x2="337.40" y2="212.81" stroke="#808080" stroke-width="0.7"/>
<line x1="334.20" y1="196.58" x2="337.40" y2="196.58" stroke="#808080" stroke-width="0.7"/>
<line x1="337.92" y1="214.07" x2="337.92" y2="201.40" stroke="#808080" stroke-width="0.7"/>
<line x1="336.32" y1="214.07" x2="339.52" y2="214.07" stroke="#808080" stroke-width="0.7"/>
<line x1="336.32" y1="201.40" x2="339.52" y2="201.40" stroke="#808080" stroke-width="0.7"/>
<line x1="340.04" y1="216.86" x2="340.04" y2="207.74" stroke="#808080" stroke-width="0.7"/>
<line x1="338.44" y1="216.86" x2="341.64" y2="216.86" stroke="#808080" stroke-width="0.7"/>
<line x1="338.44" y1="207.74" x2="341.64" y2="207.74" stroke="#808080" stroke-width="0.7"/>
<line x1="342.15" y1="221.68" x2="342.15" y2="214.07" stroke="#808080" stroke-width="0.7"/>
<line x1="340.55" y1="221.68" x2="343.75" y2="221.68" stroke="#808080" stroke-width="0.7"/>
<line x1="340.55" y1="214.07" x2="343.75" y2="214.07" stroke="#808080" stroke-width="0.7"/>
<line x1="344.27" y1="225.48" x2="344.27" y2="216.36" stroke="#808080" stroke-width="0.7"/>
<line x1="342.67" y1="225.48" x2="345.87" y2="225.48" stroke="#808080" stroke-width="0.7"/>
<line x1="342.67" y1="216.36" x2="345.87" y2="216.36" stroke="#808080" stroke-width="0.7"/>
<line x1="346.39" y1="229.79" x2="346.39" y2="217.12" stroke="#808080" stroke-width="0.7"/>
<line x1="344.79" y1="229.79" x2="347.99" y2="229.79" stroke="#808080" stroke-width="0.7"/>
<line x1="344.79" y1="217.12" x2="347.99" y2="217.12" stroke="#808080" stroke-width="0.7"/>
<line x1="348.50" y1="232.58" x2="348.50" y2="217.37" stroke="#808080" stroke-width="0.7"/>
<line x1="346.90" y1="232.58" x2="350.10" y2="232.58" stroke="#808080" stroke-width="0.7"/>
<line x1="346.90" y1="217.37" x2="350.10" y2="217.37" stroke="#808080" stroke-width="0.7"/>
<line x1="350.62" y1="234.61" x2="350.62" y2="213.31" stroke="#808080" stroke-width="0.7"/>
<line x1="349.02" y1="234.61" x2="352.22" y2="234.61" stroke="#808080" stroke-width="0.7"/>
<line x1="349.02" y1="213.31" x2="352.22" y2="213.31" stroke="#808080" stroke-width="0.7"/>
<circle cx="254.66" cy="246.02" r="2.15" fill="none" stroke="#808080" stroke-width="0.9"/>
<circle cx="256.77" cy="245.51" r="2.15" fill="none" stroke="#808080" stroke-width="0.9"/>
<circle cx="258.89" cy="245.00" r="2.15" fill="none" stroke="#808080" stroke-width="0.9"/>
<circle cx="261.01" cy="244.24" r="2.15" fill="none" stroke="#808080" stroke-width="0.9"/>
<circle cx="263.12" cy="243.48" r="2.15" fill="none" stroke="#808080" stroke-width="0.9"/>
<circle cx="265.24" cy="242.97" r="2.15" fill="none" stroke="#808080" stroke-width="0.9"/>
<circle cx="267.36" cy="241.96" r="2.15" fill="none" stroke="#808080" stroke-width="0.9"/>
<circle cx="269.47" cy="240.19" r="2.15" fill="none" stroke="#808080" stroke-width="0.9"/>
<circle cx="271.59" cy="238.66" r="2.15" fill="none" stroke="#808080" stroke-width="0.9"/>
<circle cx="273.71" cy="240.69" r="2.15" fill="none" stroke="#808080" stroke-width="0.9"/>
<circle cx="275.82" cy="243.73" r="2.15" fill="none" stroke="#808080" stroke-width="0.9"/>
<circle cx="277.94" cy="246.78" r="2.15" fill="none" stroke="#808080" stroke-width="0.9"/>
<circle cx="280.06" cy="249.06" r="2.15" fill="none" stroke="#808080" stroke-width="0.9"/>
<circle cx="282.18" cy="250.83" r="2.15" fill="none" stroke="#808080" stroke-width="0.9"/>
<circle cx="284.29" cy="252.35" r="2.15" fill="none" stroke="#808080" stroke-width="0.9"/>
<circle cx="286.41" cy="253.37" r="2.15" fill="none" stroke="#808080" stroke-width="0.9"/>
<circle cx="288.53" cy="253.62" r="2.15" fill="none" stroke="#808080" stroke-width="0.9"/>
<circle cx="290.64" cy="252.35" r="2.15" fill="none" stroke="#808080" stroke-width="0.9"/>
<circle cx="292.76" cy="249.06" r="2.15" fill="none" stroke="#808080" stroke-width="0.9"/>
<circle cx="294.88" cy="245.25" r="2.15" fill="none" stroke="#808080" stroke-width="0.9"/>
<circle cx="296.99" cy="242.72" r="2.15" fill="none" stroke="#808080" stroke-width="0.9"/>
<circle cx="299.11" cy="240.69" r="2.15" fill="none" stroke="#808080" stroke-width="0.9"/>
<circle cx="301.23" cy="238.66" r="2.15" fill="none" stroke="#808080" stroke-width="0.9"/>
<circle cx="303.34" cy="236.64" r="2.15" fill="none" stroke="#808080" stroke-width="0.9"/>
<circle cx="305.46" cy="234.61" r="2.15" fill="none" stroke="#808080" stroke-width="0.9"/>
<circle cx="308.28" cy="228.02" r="2.15" fill="none" stroke="#808080" stroke-width="0.9"/>
<circle cx="311.11" cy="220.41" r="2.15" fill="none" stroke="#808080" stroke-width="0.9"/>
<circle cx="313.93" cy="213.57" r="2.15" fill="none" stroke="#808080" stroke-width="0.9"/>
<circle cx="316.75" cy="206.72" r="2.15" fill="none" stroke="#808080" stroke-width="0.9"/>
<circle cx="319.57" cy="199.12" r="2.15" fill="none" stroke="#808080" stroke-width="0.9"/>
<circle cx="322.40" cy="192.02" r="2.15" fill="none" stroke="#808080" stroke-width="0.9"/>
<circle cx="325.22" cy="188.72" r="2.15" fill="none" stroke="#808080" stroke-width="0.9"/>
<circle cx="327.34" cy="190.75" r="2.15" fill="none" stroke="#808080" stroke-width="0.9"/>
<circle cx="329.45" cy="194.05" r="2.15" fill="none" stroke="#808080" stroke-width="0.9"/>
<circle cx="331.57" cy="197.09" r="2.15" fill="none" stroke="#808080" stroke-width="0.9"/>
<circle cx="333.69" cy="201.40" r="2.15" fill="none" stroke="#808080" stroke-width="0.9"/>
<circle cx="335.80" cy="204.69" r="2.15" fill="none" stroke="#808080" stroke-width="0.9"/>
<circle cx="337.92" cy="207.74" r="2.15" fill="none" stroke="#808080" stroke-width="0.9"/>
<circle cx="340.04" cy="212.30" r="2.15" fill="none" stroke="#808080" stroke-width="0.9"/>
<circle cx="342.15" cy="217.88" r="2.15" fill="none" stroke="#808080" stroke-width="0.9"/>
<circle cx="344.27" cy="220.92" r="2.15" fill="none" stroke="#808080" stroke-width="0.9"/>
<circle cx="346.39" cy="223.45" r="2.15" fill="none" stroke="#808080" stroke-width="0.9"/>
<circle cx="348.50" cy="224.97" r="2.15" fill="none" stroke="#808080" stroke-width="0.9"/>
<circle cx="350.62" cy="223.96" r="2.15" fill="none" stroke="#808080" stroke-width="0.9"/>
<rect x="247.60" y="161.60" width="112.90" height="101.40" fill="none" stroke="#111" stroke-width="0.75"/>
<line x1="275.82" y1="263.00" x2="275.82" y2="257.20" stroke="#111" stroke-width="0.9"/>
<line x1="304.05" y1="263.00" x2="304.05" y2="257.20" stroke="#111" stroke-width="0.9"/>
<line x1="332.27" y1="263.00" x2="332.27" y2="257.20" stroke="#111" stroke-width="0.9"/>
<line x1="247.60" y1="237.65" x2="253.40" y2="237.65" stroke="#111" stroke-width="0.9"/>
<line x1="247.60" y1="212.30" x2="253.40" y2="212.30" stroke="#111" stroke-width="0.9"/>
<line x1="247.60" y1="186.95" x2="253.40" y2="186.95" stroke="#111" stroke-width="0.9"/>
<text x="247.60" y="275.50" text-anchor="middle" font-size="9.7">−0.8</text>
<text x="275.82" y="275.50" text-anchor="middle" font-size="9.7">−0.4</text>
<text x="304.05" y="275.50" text-anchor="middle" font-size="9.7">0.0</text>
<text x="332.27" y="275.50" text-anchor="middle" font-size="9.7">0.4</text>
<text x="360.50" y="275.50" text-anchor="middle" font-size="9.7">0.8</text>
<text x="242.40" y="266.44" text-anchor="end" font-size="9.7">−0.1</text>
<text x="242.40" y="241.09" text-anchor="end" font-size="9.7">0.0</text>
<text x="242.40" y="215.74" text-anchor="end" font-size="9.7">0.1</text>
<text x="242.40" y="190.39" text-anchor="end" font-size="9.7">0.2</text>
<text x="242.40" y="165.04" text-anchor="end" font-size="9.7">0.3</text>
<text transform="translate(220.30,213.00) rotate(-90)" text-anchor="middle" font-size="9.7"><tspan font-style="italic">P</tspan><tspan font-size="6.8" dy="2.0" dx="0.3">2D</tspan><tspan dy="-2.0" dx="1.3">​</tspan> (pC m<tspan font-size="6.8" dy="-3.6">−1</tspan><tspan dy="3.6">​</tspan>)</text>
<text x="304.00" y="291.50" text-anchor="middle" font-size="9.7" ><tspan font-style="italic">D</tspan> (V nm<tspan font-size="6.8" dy="-3.6">−1</tspan><tspan dy="3.6">​</tspan>)</text>
<text x="211.00" y="167.50" font-size="12.8" font-weight="bold">d</text>
<rect x="247.60" y="303.60" width="56.45" height="101.60" fill="#edf3f8"/>
<rect x="304.05" y="303.60" width="56.45" height="101.60" fill="#fbf5f4"/>
<polyline points="251.83,397.58 254.66,396.94 261.71,396.31 268.77,396.31 275.82,394.40 281.47,391.87 285.00,389.32 287.12,386.15 288.17,376.62 289.23,373.45 290.29,376.62 291.35,388.69 292.76,386.15 294.17,381.07 295.58,379.17 296.99,382.34 298.40,388.06 299.82,388.69 301.23,387.42 302.64,389.96 304.05,391.23 305.11,379.80 305.81,370.91 306.87,377.26 308.28,384.88 310.40,389.96 313.22,394.40 316.75,397.58 321.69,399.49 328.75,400.12 332.27,400.75 335.80,399.49 339.33,400.12 346.39,400.12 349.92,400.75 353.44,402.02 355.56,402.66" fill="none" stroke="#c4242c" stroke-width="1.25" stroke-linejoin="round"/>
<polyline points="251.83,398.21 261.71,398.21 268.77,398.21 275.82,398.85 281.47,398.21 284.29,396.31 287.12,396.94 289.94,394.40 292.05,392.50 294.17,389.96 295.58,391.87 296.99,388.69 298.40,391.23 299.82,386.15 301.23,389.32 302.64,387.42 303.70,393.77 304.76,373.45 306.52,359.48 308.99,349.32 311.81,336.62 314.63,321.38 316.40,311.22 317.46,307.41 318.52,309.95 320.28,319.48 322.26,334.08 324.16,351.23 326.28,372.18 328.39,386.15 330.86,391.23 334.39,393.77 336.51,396.94 339.33,395.04 342.86,396.31 346.39,396.31 349.92,398.85 351.33,392.50 352.39,397.58 353.44,400.12 355.56,401.39" fill="none" stroke="#1f72c4" stroke-width="1.25" stroke-linejoin="round"/>
<rect x="247.60" y="303.60" width="112.90" height="101.60" fill="none" stroke="#111" stroke-width="0.75"/>
<line x1="275.82" y1="405.20" x2="275.82" y2="399.40" stroke="#111" stroke-width="0.9"/>
<line x1="304.05" y1="405.20" x2="304.05" y2="399.40" stroke="#111" stroke-width="0.9"/>
<line x1="332.27" y1="405.20" x2="332.27" y2="399.40" stroke="#111" stroke-width="0.9"/>
<line x1="247.60" y1="354.40" x2="253.40" y2="354.40" stroke="#111" stroke-width="0.9"/>
<text x="247.60" y="417.70" text-anchor="middle" font-size="9.7">−0.8</text>
<text x="275.82" y="417.70" text-anchor="middle" font-size="9.7">−0.4</text>
<text x="304.05" y="417.70" text-anchor="middle" font-size="9.7">0.0</text>
<text x="332.27" y="417.70" text-anchor="middle" font-size="9.7">0.4</text>
<text x="360.50" y="417.70" text-anchor="middle" font-size="9.7">0.8</text>
<text x="242.40" y="408.64" text-anchor="end" font-size="9.7">0</text>
<text x="242.40" y="357.84" text-anchor="end" font-size="9.7">80</text>
<text x="242.40" y="307.04" text-anchor="end" font-size="9.7">160</text>
<text transform="translate(222.00,378.80) rotate(-90)" text-anchor="start" font-size="9.7"><tspan font-style="italic">R</tspan><tspan font-size="6.6" dy="-3.8" dx="1.6">CNP</tspan><tspan font-size="6.6" dy="6.0" dx="-14.8">xx</tspan><tspan dy="-2.2" dx="7.6"> (kΩ)</tspan></text>
<text x="304.00" y="433.50" text-anchor="middle" font-size="9.7" ><tspan font-style="italic">D</tspan> (V nm<tspan font-size="6.8" dy="-3.6">−1</tspan><tspan dy="3.6">​</tspan>)</text>
<text x="211.00" y="306.60" font-size="12.8" font-weight="bold">e</text>
<g clip-path="url(#cf)">
<polygon points="418.99,18.09 437.81,52.68 445.33,76.54 452.86,88.47 467.91,85.49 494.26,58.65 464.15,70.58 458.50,52.68 464.15,18.09" fill="#f7c4c4" opacity="0.38" filter="url(#b3)"/>
<polygon points="437.81,43.74 443.45,55.67 447.21,52.68 445.33,40.75" fill="#f5b0b0" opacity="0.35" filter="url(#b2)"/>
<polyline points="451.92,16.89 450.98,34.79 449.66,58.65 450.98,68.79 457.56,75.35 459.26,82.51 457.75,87.28 464.15,94.44 469.80,100.40" fill="none" stroke="#ef8a8a" stroke-width="6" opacity="0.6" filter="url(#b2)"/>
<polygon points="443.08,14.51 461.52,14.51 457.00,34.79 453.24,51.49 449.10,51.49 446.84,34.79" fill="#ea5a50" opacity="0.9" filter="url(#b2)"/>
<polygon points="445.33,14.51 459.26,14.51 455.49,34.79 452.48,46.72 449.85,46.72 447.97,34.79" fill="#e62a22" opacity="0.95" filter="url(#b1)"/>
<polygon points="446.65,14.51 457.94,14.51 455.68,27.63 453.42,37.17 450.41,37.17 448.34,27.63" fill="#ff8a1e" filter="url(#b07)"/>
<polygon points="447.40,14.51 457.00,14.51 455.12,26.44 453.24,34.19 450.79,34.19 449.10,26.44" fill="#ffd820" filter="url(#b05)"/>
</g>
<circle cx="468.67" cy="99.21" r="1.8" fill="#fff" fill-opacity="0.25" stroke="#a81820" stroke-width="0.95"/>
<circle cx="466.41" cy="96.22" r="1.8" fill="#fff" fill-opacity="0.25" stroke="#a81820" stroke-width="0.95"/>
<circle cx="463.59" cy="93.24" r="1.8" fill="#fff" fill-opacity="0.25" stroke="#a81820" stroke-width="0.95"/>
<circle cx="460.01" cy="90.26" r="1.8" fill="#fff" fill-opacity="0.25" stroke="#a81820" stroke-width="0.95"/>
<circle cx="457.38" cy="87.28" r="1.8" fill="#fff" fill-opacity="0.25" stroke="#a81820" stroke-width="0.95"/>
<circle cx="458.88" cy="84.30" r="1.8" fill="#fff" fill-opacity="0.25" stroke="#a81820" stroke-width="0.95"/>
<circle cx="459.63" cy="81.31" r="1.8" fill="#fff" fill-opacity="0.25" stroke="#a81820" stroke-width="0.95"/>
<circle cx="459.26" cy="78.33" r="1.8" fill="#fff" fill-opacity="0.25" stroke="#a81820" stroke-width="0.95"/>
<circle cx="457.75" cy="75.35" r="1.8" fill="#fff" fill-opacity="0.25" stroke="#a81820" stroke-width="0.95"/>
<circle cx="455.12" cy="72.37" r="1.8" fill="#fff" fill-opacity="0.25" stroke="#a81820" stroke-width="0.95"/>
<circle cx="452.11" cy="69.38" r="1.8" fill="#fff" fill-opacity="0.25" stroke="#a81820" stroke-width="0.95"/>
<circle cx="450.23" cy="66.40" r="1.8" fill="#fff" fill-opacity="0.25" stroke="#a81820" stroke-width="0.95"/>
<circle cx="449.28" cy="63.42" r="1.8" fill="#fff" fill-opacity="0.25" stroke="#a81820" stroke-width="0.95"/>
<circle cx="449.47" cy="60.44" r="1.8" fill="#fff" fill-opacity="0.25" stroke="#a81820" stroke-width="0.95"/>
<circle cx="449.66" cy="57.45" r="1.8" fill="#fff" fill-opacity="0.25" stroke="#a81820" stroke-width="0.95"/>
<circle cx="449.66" cy="54.47" r="1.8" fill="#fff" fill-opacity="0.25" stroke="#a81820" stroke-width="0.95"/>
<circle cx="449.66" cy="51.49" r="1.8" fill="#fff" fill-opacity="0.25" stroke="#a81820" stroke-width="0.95"/>
<circle cx="449.66" cy="48.51" r="1.8" fill="#fff" fill-opacity="0.25" stroke="#a81820" stroke-width="0.95"/>
<circle cx="449.66" cy="45.53" r="1.8" fill="#fff" fill-opacity="0.25" stroke="#a81820" stroke-width="0.95"/>
<circle cx="449.85" cy="42.54" r="1.8" fill="#fff" fill-opacity="0.25" stroke="#a81820" stroke-width="0.95"/>
<circle cx="450.04" cy="39.56" r="1.8" fill="#fff" fill-opacity="0.25" stroke="#a81820" stroke-width="0.95"/>
<circle cx="450.41" cy="36.58" r="1.8" fill="#fff" fill-opacity="0.25" stroke="#a81820" stroke-width="0.95"/>
<circle cx="450.79" cy="33.60" r="1.8" fill="#fff" fill-opacity="0.25" stroke="#a81820" stroke-width="0.95"/>
<circle cx="451.17" cy="30.61" r="1.8" fill="#fff" fill-opacity="0.25" stroke="#a81820" stroke-width="0.95"/>
<circle cx="451.54" cy="27.63" r="1.8" fill="#fff" fill-opacity="0.25" stroke="#a81820" stroke-width="0.95"/>
<circle cx="451.92" cy="24.65" r="1.8" fill="#fff" fill-opacity="0.25" stroke="#a81820" stroke-width="0.95"/>
<circle cx="452.30" cy="21.67" r="1.8" fill="#fff" fill-opacity="0.25" stroke="#a81820" stroke-width="0.95"/>
<rect x="407.70" y="19.40" width="112.90" height="81.00" fill="none" stroke="#111" stroke-width="0.75"/>
<line x1="445.33" y1="100.40" x2="445.33" y2="94.60" stroke="#111" stroke-width="0.9"/>
<line x1="482.97" y1="100.40" x2="482.97" y2="94.60" stroke="#111" stroke-width="0.9"/>
<line x1="407.70" y1="76.54" x2="413.50" y2="76.54" stroke="#111" stroke-width="0.9"/>
<line x1="407.70" y1="52.68" x2="413.50" y2="52.68" stroke="#111" stroke-width="0.9"/>
<line x1="407.70" y1="28.82" x2="413.50" y2="28.82" stroke="#111" stroke-width="0.9"/>
<text x="402.50" y="103.84" text-anchor="end" font-size="9.7">0</text>
<text x="402.50" y="79.98" text-anchor="end" font-size="9.7">4</text>
<text x="402.50" y="56.13" text-anchor="end" font-size="9.7">8</text>
<text x="402.50" y="32.27" text-anchor="end" font-size="9.7">12</text>
<line x1="414.00" y1="88.50" x2="435.72" y2="88.50" stroke="#b5121b" stroke-width="2.0"/>
<polygon points="441.00,88.50 434.40,85.20 434.40,91.80" fill="#b5121b"/>
<text x="409.50" y="15.80" text-anchor="start" font-size="9.7" ><tspan font-style="italic">V</tspan><tspan font-size="6.8" dy="2.0" dx="0.3">t</tspan><tspan dy="-2.0" dx="1.9">​</tspan>/<tspan font-style="italic">d</tspan><tspan font-size="6.8" dy="2.0" dx="0.3">t</tspan><tspan dy="-2.0" dx="1.6">​</tspan> = −57 mV nm<tspan font-size="6.8" dy="-3.6">−1</tspan><tspan dy="3.6">​</tspan></text>
<rect x="488.5" y="40.3" width="20.5" height="4" fill="url(#cbF)" stroke="#222" stroke-width="0.5"/>
<text x="488.50" y="37.50" text-anchor="middle" font-size="9.7" >0</text>
<text x="508.50" y="37.50" text-anchor="middle" font-size="9.7" >14</text>
<text x="497.50" y="55.00" text-anchor="middle" font-size="9.7" ><tspan font-style="italic">R</tspan><tspan font-size="6.8" dy="2.0" dx="0.3">xx</tspan><tspan dy="-2.0" dx="0.1">​</tspan> (kΩ)</text>
<text transform="translate(381.20,60.00) rotate(-90)" text-anchor="middle" font-size="9.7"><tspan font-style="italic">B</tspan> (T)</text>
<text x="374.00" y="10.20" font-size="12.8" font-weight="bold">f</text>
<g clip-path="url(#cg)">
<polygon points="455.12,106.87 469.04,106.87 466.78,144.13 464.15,176.58 460.39,176.58 458.13,144.13" fill="#f4a4a4" opacity="0.8" filter="url(#b2)"/>
<polygon points="458.32,106.87 465.28,106.87 464.34,144.13 463.40,166.96 461.14,166.96 459.82,144.13" fill="#e62a22" opacity="0.95" filter="url(#b07)"/>
<polygon points="458.88,106.87 463.59,106.87 463.02,132.11 462.27,144.13 461.14,144.13 460.20,132.11" fill="#ff8a1e" filter="url(#b05)"/>
<polygon points="459.26,106.87 463.02,106.87 462.64,132.11 462.08,140.52 461.14,140.52 460.39,132.11" fill="#ffdc20" filter="url(#b05)"/>
</g>
<circle cx="462.08" cy="191.00" r="1.75" fill="#fff" fill-opacity="0.2" stroke="#1f72c4" stroke-width="0.95"/>
<circle cx="461.70" cy="187.99" r="1.75" fill="#fff" fill-opacity="0.2" stroke="#1f72c4" stroke-width="0.95"/>
<circle cx="461.33" cy="184.99" r="1.75" fill="#fff" fill-opacity="0.2" stroke="#1f72c4" stroke-width="0.95"/>
<circle cx="461.23" cy="181.98" r="1.75" fill="#fff" fill-opacity="0.2" stroke="#1f72c4" stroke-width="0.95"/>
<circle cx="461.23" cy="178.98" r="1.75" fill="#fff" fill-opacity="0.2" stroke="#1f72c4" stroke-width="0.95"/>
<circle cx="461.33" cy="175.98" r="1.75" fill="#fff" fill-opacity="0.2" stroke="#1f72c4" stroke-width="0.95"/>
<circle cx="461.40" cy="172.97" r="1.75" fill="#fff" fill-opacity="0.2" stroke="#1f72c4" stroke-width="0.95"/>
<circle cx="461.48" cy="169.97" r="1.75" fill="#fff" fill-opacity="0.2" stroke="#1f72c4" stroke-width="0.95"/>
<circle cx="461.55" cy="166.96" r="1.75" fill="#fff" fill-opacity="0.2" stroke="#1f72c4" stroke-width="0.95"/>
<circle cx="461.63" cy="163.96" r="1.75" fill="#fff" fill-opacity="0.2" stroke="#1f72c4" stroke-width="0.95"/>
<circle cx="461.70" cy="160.95" r="1.75" fill="#fff" fill-opacity="0.2" stroke="#1f72c4" stroke-width="0.95"/>
<circle cx="461.78" cy="157.95" r="1.75" fill="#fff" fill-opacity="0.2" stroke="#1f72c4" stroke-width="0.95"/>
<circle cx="461.85" cy="154.95" r="1.75" fill="#fff" fill-opacity="0.2" stroke="#1f72c4" stroke-width="0.95"/>
<circle cx="461.93" cy="151.94" r="1.75" fill="#fff" fill-opacity="0.2" stroke="#1f72c4" stroke-width="0.95"/>
<circle cx="462.00" cy="148.94" r="1.75" fill="#fff" fill-opacity="0.2" stroke="#1f72c4" stroke-width="0.95"/>
<circle cx="462.08" cy="145.93" r="1.75" fill="#fff" fill-opacity="0.2" stroke="#1f72c4" stroke-width="0.95"/>
<circle cx="462.16" cy="142.93" r="1.75" fill="#fff" fill-opacity="0.2" stroke="#1f72c4" stroke-width="0.95"/>
<circle cx="462.23" cy="139.92" r="1.75" fill="#fff" fill-opacity="0.2" stroke="#1f72c4" stroke-width="0.95"/>
<circle cx="462.31" cy="136.92" r="1.75" fill="#fff" fill-opacity="0.2" stroke="#1f72c4" stroke-width="0.95"/>
<circle cx="462.38" cy="133.91" r="1.75" fill="#fff" fill-opacity="0.2" stroke="#1f72c4" stroke-width="0.95"/>
<circle cx="462.46" cy="130.91" r="1.75" fill="#fff" fill-opacity="0.2" stroke="#1f72c4" stroke-width="0.95"/>
<circle cx="462.53" cy="127.91" r="1.75" fill="#fff" fill-opacity="0.2" stroke="#1f72c4" stroke-width="0.95"/>
<circle cx="462.61" cy="124.90" r="1.75" fill="#fff" fill-opacity="0.2" stroke="#1f72c4" stroke-width="0.95"/>
<circle cx="462.68" cy="121.90" r="1.75" fill="#fff" fill-opacity="0.2" stroke="#1f72c4" stroke-width="0.95"/>
<circle cx="462.76" cy="118.89" r="1.75" fill="#fff" fill-opacity="0.2" stroke="#1f72c4" stroke-width="0.95"/>
<circle cx="462.83" cy="115.89" r="1.75" fill="#fff" fill-opacity="0.2" stroke="#1f72c4" stroke-width="0.95"/>
<circle cx="462.91" cy="112.88" r="1.75" fill="#fff" fill-opacity="0.2" stroke="#1f72c4" stroke-width="0.95"/>
<rect x="407.70" y="110.60" width="112.90" height="81.60" fill="none" stroke="#111" stroke-width="0.75"/>
<line x1="445.33" y1="192.20" x2="445.33" y2="186.40" stroke="#111" stroke-width="0.9"/>
<line x1="482.97" y1="192.20" x2="482.97" y2="186.40" stroke="#111" stroke-width="0.9"/>
<line x1="407.70" y1="168.16" x2="413.50" y2="168.16" stroke="#111" stroke-width="0.9"/>
<line x1="407.70" y1="144.13" x2="413.50" y2="144.13" stroke="#111" stroke-width="0.9"/>
<line x1="407.70" y1="120.09" x2="413.50" y2="120.09" stroke="#111" stroke-width="0.9"/>
<text x="402.50" y="195.64" text-anchor="end" font-size="9.7">0</text>
<text x="402.50" y="171.61" text-anchor="end" font-size="9.7">4</text>
<text x="402.50" y="147.57" text-anchor="end" font-size="9.7">8</text>
<text x="402.50" y="123.54" text-anchor="end" font-size="9.7">12</text>
<line x1="441.50" y1="180.00" x2="421.28" y2="180.00" stroke="#1461ac" stroke-width="2.0"/>
<polygon points="416.00,180.00 422.60,176.70 422.60,183.30" fill="#1461ac"/>
<rect x="488.5" y="131.5" width="20.5" height="4" fill="url(#cbF)" stroke="#222" stroke-width="0.5"/>
<text x="488.50" y="128.70" text-anchor="middle" font-size="9.7" >0</text>
<text x="508.30" y="128.70" text-anchor="middle" font-size="9.7" >170</text>
<text x="497.50" y="146.20" text-anchor="middle" font-size="9.7" ><tspan font-style="italic">R</tspan><tspan font-size="6.8" dy="2.0" dx="0.3">xx</tspan><tspan dy="-2.0" dx="0.1">​</tspan> (kΩ)</text>
<text transform="translate(381.20,151.50) rotate(-90)" text-anchor="middle" font-size="9.7"><tspan font-style="italic">B</tspan> (T)</text>
<text x="374.00" y="115.50" font-size="12.8" font-weight="bold">g</text>
<circle cx="462.08" cy="282.21" r="2.1" fill="#3a88d6" opacity="0.8"/>
<circle cx="461.70" cy="279.23" r="2.1" fill="#3a88d6" opacity="0.8"/>
<circle cx="461.33" cy="276.25" r="2.1" fill="#3a88d6" opacity="0.8"/>
<circle cx="461.23" cy="273.27" r="2.1" fill="#3a88d6" opacity="0.8"/>
<circle cx="461.23" cy="270.29" r="2.1" fill="#3a88d6" opacity="0.8"/>
<circle cx="461.33" cy="267.32" r="2.1" fill="#3a88d6" opacity="0.8"/>
<circle cx="461.40" cy="264.34" r="2.1" fill="#3a88d6" opacity="0.8"/>
<circle cx="461.48" cy="261.36" r="2.1" fill="#3a88d6" opacity="0.8"/>
<circle cx="461.55" cy="258.38" r="2.1" fill="#3a88d6" opacity="0.8"/>
<circle cx="461.63" cy="255.40" r="2.1" fill="#3a88d6" opacity="0.8"/>
<circle cx="461.70" cy="252.42" r="2.1" fill="#3a88d6" opacity="0.8"/>
<circle cx="461.78" cy="249.44" r="2.1" fill="#3a88d6" opacity="0.8"/>
<circle cx="461.85" cy="246.46" r="2.1" fill="#3a88d6" opacity="0.8"/>
<circle cx="461.93" cy="243.49" r="2.1" fill="#3a88d6" opacity="0.8"/>
<circle cx="462.00" cy="240.51" r="2.1" fill="#3a88d6" opacity="0.8"/>
<circle cx="462.08" cy="237.53" r="2.1" fill="#3a88d6" opacity="0.8"/>
<circle cx="462.16" cy="234.55" r="2.1" fill="#3a88d6" opacity="0.8"/>
<circle cx="462.23" cy="231.57" r="2.1" fill="#3a88d6" opacity="0.8"/>
<circle cx="462.31" cy="228.59" r="2.1" fill="#3a88d6" opacity="0.8"/>
<circle cx="462.38" cy="225.61" r="2.1" fill="#3a88d6" opacity="0.8"/>
<circle cx="462.46" cy="222.64" r="2.1" fill="#3a88d6" opacity="0.8"/>
<circle cx="462.53" cy="219.66" r="2.1" fill="#3a88d6" opacity="0.8"/>
<circle cx="462.61" cy="216.68" r="2.1" fill="#3a88d6" opacity="0.8"/>
<circle cx="462.68" cy="213.70" r="2.1" fill="#3a88d6" opacity="0.8"/>
<circle cx="462.76" cy="210.72" r="2.1" fill="#3a88d6" opacity="0.8"/>
<circle cx="462.83" cy="207.74" r="2.1" fill="#3a88d6" opacity="0.8"/>
<circle cx="462.91" cy="204.76" r="2.1" fill="#3a88d6" opacity="0.8"/>
<circle cx="468.67" cy="282.21" r="2.1" fill="#c63a42" opacity="0.8"/>
<circle cx="466.41" cy="279.23" r="2.1" fill="#c63a42" opacity="0.8"/>
<circle cx="463.59" cy="276.25" r="2.1" fill="#c63a42" opacity="0.8"/>
<circle cx="460.01" cy="273.27" r="2.1" fill="#c63a42" opacity="0.8"/>
<circle cx="457.38" cy="270.29" r="2.1" fill="#c63a42" opacity="0.8"/>
<circle cx="458.88" cy="267.32" r="2.1" fill="#c63a42" opacity="0.8"/>
<circle cx="459.63" cy="264.34" r="2.1" fill="#c63a42" opacity="0.8"/>
<circle cx="459.26" cy="261.36" r="2.1" fill="#c63a42" opacity="0.8"/>
<circle cx="457.75" cy="258.38" r="2.1" fill="#c63a42" opacity="0.8"/>
<circle cx="455.12" cy="255.40" r="2.1" fill="#c63a42" opacity="0.8"/>
<circle cx="452.11" cy="252.42" r="2.1" fill="#c63a42" opacity="0.8"/>
<circle cx="450.23" cy="249.44" r="2.1" fill="#c63a42" opacity="0.8"/>
<circle cx="449.28" cy="246.46" r="2.1" fill="#c63a42" opacity="0.8"/>
<circle cx="449.47" cy="243.49" r="2.1" fill="#c63a42" opacity="0.8"/>
<circle cx="449.66" cy="240.51" r="2.1" fill="#c63a42" opacity="0.8"/>
<circle cx="449.66" cy="237.53" r="2.1" fill="#c63a42" opacity="0.8"/>
<circle cx="449.66" cy="234.55" r="2.1" fill="#c63a42" opacity="0.8"/>
<circle cx="449.66" cy="231.57" r="2.1" fill="#c63a42" opacity="0.8"/>
<circle cx="449.66" cy="228.59" r="2.1" fill="#c63a42" opacity="0.8"/>
<circle cx="449.85" cy="225.61" r="2.1" fill="#c63a42" opacity="0.8"/>
<circle cx="450.04" cy="222.64" r="2.1" fill="#c63a42" opacity="0.8"/>
<circle cx="450.41" cy="219.66" r="2.1" fill="#c63a42" opacity="0.8"/>
<circle cx="450.79" cy="216.68" r="2.1" fill="#c63a42" opacity="0.8"/>
<circle cx="451.17" cy="213.70" r="2.1" fill="#c63a42" opacity="0.8"/>
<circle cx="451.54" cy="210.72" r="2.1" fill="#c63a42" opacity="0.8"/>
<circle cx="451.92" cy="207.74" r="2.1" fill="#c63a42" opacity="0.8"/>
<circle cx="452.30" cy="204.76" r="2.1" fill="#c63a42" opacity="0.8"/>
<rect x="407.70" y="202.50" width="112.90" height="80.90" fill="none" stroke="#111" stroke-width="0.75"/>
<line x1="445.33" y1="283.40" x2="445.33" y2="277.60" stroke="#111" stroke-width="0.9"/>
<line x1="482.97" y1="283.40" x2="482.97" y2="277.60" stroke="#111" stroke-width="0.9"/>
<line x1="407.70" y1="259.57" x2="413.50" y2="259.57" stroke="#111" stroke-width="0.9"/>
<line x1="407.70" y1="235.74" x2="413.50" y2="235.74" stroke="#111" stroke-width="0.9"/>
<line x1="407.70" y1="211.91" x2="413.50" y2="211.91" stroke="#111" stroke-width="0.9"/>
<text x="402.50" y="286.84" text-anchor="end" font-size="9.7">0</text>
<text x="402.50" y="263.01" text-anchor="end" font-size="9.7">4</text>
<text x="402.50" y="239.19" text-anchor="end" font-size="9.7">8</text>
<text x="402.50" y="215.36" text-anchor="end" font-size="9.7">12</text>
<text x="407.70" y="295.90" text-anchor="middle" font-size="9.7">20</text>
<text x="445.33" y="295.90" text-anchor="middle" font-size="9.7">40</text>
<text x="482.97" y="295.90" text-anchor="middle" font-size="9.7">60</text>
<text x="520.60" y="295.90" text-anchor="middle" font-size="9.7">80</text>
<text transform="translate(381.20,243.00) rotate(-90)" text-anchor="middle" font-size="9.7"><tspan font-style="italic">B</tspan> (T)</text>
<text x="464.00" y="311.50" text-anchor="middle" font-size="9.7" ><tspan font-style="italic">V</tspan><tspan font-size="6.8" dy="2.0" dx="0.3">b</tspan><tspan dy="-2.0" dx="1.3">​</tspan>/<tspan font-style="italic">d</tspan><tspan font-size="6.8" dy="2.0" dx="0.3">b</tspan><tspan dy="-2.0" dx="1.3">​</tspan> (mV nm<tspan font-size="6.8" dy="-3.6">−1</tspan><tspan dy="3.6">​</tspan>)</text>
<text x="374.40" y="207.70" font-size="12.8" font-weight="bold">h</text>
<line x1="407.70" y1="364.65" x2="520.60" y2="364.65" stroke="#2a2a2a" stroke-width="0.75" stroke-dasharray="2.3,1.1"/>
<line x1="412.74" y1="388.23" x2="412.74" y2="378.47" stroke="#808080" stroke-width="0.6"/>
<line x1="411.44" y1="388.23" x2="414.04" y2="388.23" stroke="#808080" stroke-width="0.6"/>
<line x1="411.44" y1="378.47" x2="414.04" y2="378.47" stroke="#808080" stroke-width="0.6"/>
<line x1="414.30" y1="385.99" x2="414.30" y2="376.24" stroke="#808080" stroke-width="0.6"/>
<line x1="413.00" y1="385.99" x2="415.60" y2="385.99" stroke="#808080" stroke-width="0.6"/>
<line x1="413.00" y1="376.24" x2="415.60" y2="376.24" stroke="#808080" stroke-width="0.6"/>
<line x1="415.85" y1="383.76" x2="415.85" y2="374.00" stroke="#808080" stroke-width="0.6"/>
<line x1="414.55" y1="383.76" x2="417.15" y2="383.76" stroke="#808080" stroke-width="0.6"/>
<line x1="414.55" y1="374.00" x2="417.15" y2="374.00" stroke="#808080" stroke-width="0.6"/>
<line x1="417.40" y1="380.30" x2="417.40" y2="370.54" stroke="#808080" stroke-width="0.6"/>
<line x1="416.10" y1="380.30" x2="418.70" y2="380.30" stroke="#808080" stroke-width="0.6"/>
<line x1="416.10" y1="370.54" x2="418.70" y2="370.54" stroke="#808080" stroke-width="0.6"/>
<line x1="418.95" y1="376.85" x2="418.95" y2="367.09" stroke="#808080" stroke-width="0.6"/>
<line x1="417.65" y1="376.85" x2="420.25" y2="376.85" stroke="#808080" stroke-width="0.6"/>
<line x1="417.65" y1="367.09" x2="420.25" y2="367.09" stroke="#808080" stroke-width="0.6"/>
<line x1="420.50" y1="375.63" x2="420.50" y2="365.87" stroke="#808080" stroke-width="0.6"/>
<line x1="419.20" y1="375.63" x2="421.80" y2="375.63" stroke="#808080" stroke-width="0.6"/>
<line x1="419.20" y1="365.87" x2="421.80" y2="365.87" stroke="#808080" stroke-width="0.6"/>
<line x1="422.05" y1="374.41" x2="422.05" y2="364.65" stroke="#808080" stroke-width="0.6"/>
<line x1="420.75" y1="374.41" x2="423.35" y2="374.41" stroke="#808080" stroke-width="0.6"/>
<line x1="420.75" y1="364.65" x2="423.35" y2="364.65" stroke="#808080" stroke-width="0.6"/>
<line x1="423.61" y1="367.90" x2="423.61" y2="358.15" stroke="#808080" stroke-width="0.6"/>
<line x1="422.31" y1="367.90" x2="424.91" y2="367.90" stroke="#808080" stroke-width="0.6"/>
<line x1="422.31" y1="358.15" x2="424.91" y2="358.15" stroke="#808080" stroke-width="0.6"/>
<line x1="425.16" y1="362.62" x2="425.16" y2="352.86" stroke="#808080" stroke-width="0.6"/>
<line x1="423.86" y1="362.62" x2="426.46" y2="362.62" stroke="#808080" stroke-width="0.6"/>
<line x1="423.86" y1="352.86" x2="426.46" y2="352.86" stroke="#808080" stroke-width="0.6"/>
<line x1="426.71" y1="358.55" x2="426.71" y2="348.80" stroke="#808080" stroke-width="0.6"/>
<line x1="425.41" y1="358.55" x2="428.01" y2="358.55" stroke="#808080" stroke-width="0.6"/>
<line x1="425.41" y1="348.80" x2="428.01" y2="348.80" stroke="#808080" stroke-width="0.6"/>
<line x1="428.26" y1="358.82" x2="428.26" y2="349.07" stroke="#808080" stroke-width="0.6"/>
<line x1="426.96" y1="358.82" x2="429.56" y2="358.82" stroke="#808080" stroke-width="0.6"/>
<line x1="426.96" y1="349.07" x2="429.56" y2="349.07" stroke="#808080" stroke-width="0.6"/>
<line x1="429.81" y1="358.82" x2="429.81" y2="353.13" stroke="#808080" stroke-width="0.6"/>
<line x1="428.51" y1="358.82" x2="431.11" y2="358.82" stroke="#808080" stroke-width="0.6"/>
<line x1="428.51" y1="353.13" x2="431.11" y2="353.13" stroke="#808080" stroke-width="0.6"/>
<line x1="431.37" y1="362.62" x2="431.37" y2="356.93" stroke="#808080" stroke-width="0.6"/>
<line x1="430.07" y1="362.62" x2="432.67" y2="362.62" stroke="#808080" stroke-width="0.6"/>
<line x1="430.07" y1="356.93" x2="432.67" y2="356.93" stroke="#808080" stroke-width="0.6"/>
<line x1="432.92" y1="362.41" x2="432.92" y2="356.72" stroke="#808080" stroke-width="0.6"/>
<line x1="431.62" y1="362.41" x2="434.22" y2="362.41" stroke="#808080" stroke-width="0.6"/>
<line x1="431.62" y1="356.72" x2="434.22" y2="356.72" stroke="#808080" stroke-width="0.6"/>
<line x1="434.47" y1="362.21" x2="434.47" y2="356.52" stroke="#808080" stroke-width="0.6"/>
<line x1="433.17" y1="362.21" x2="435.77" y2="362.21" stroke="#808080" stroke-width="0.6"/>
<line x1="433.17" y1="356.52" x2="435.77" y2="356.52" stroke="#808080" stroke-width="0.6"/>
<line x1="436.02" y1="361.56" x2="436.02" y2="355.87" stroke="#808080" stroke-width="0.6"/>
<line x1="434.72" y1="361.56" x2="437.32" y2="361.56" stroke="#808080" stroke-width="0.6"/>
<line x1="434.72" y1="355.87" x2="437.32" y2="355.87" stroke="#808080" stroke-width="0.6"/>
<line x1="437.57" y1="360.91" x2="437.57" y2="355.22" stroke="#808080" stroke-width="0.6"/>
<line x1="436.27" y1="360.91" x2="438.87" y2="360.91" stroke="#808080" stroke-width="0.6"/>
<line x1="436.27" y1="355.22" x2="438.87" y2="355.22" stroke="#808080" stroke-width="0.6"/>
<line x1="439.13" y1="360.02" x2="439.13" y2="354.32" stroke="#808080" stroke-width="0.6"/>
<line x1="437.83" y1="360.02" x2="440.43" y2="360.02" stroke="#808080" stroke-width="0.6"/>
<line x1="437.83" y1="354.32" x2="440.43" y2="354.32" stroke="#808080" stroke-width="0.6"/>
<line x1="440.68" y1="358.88" x2="440.68" y2="353.19" stroke="#808080" stroke-width="0.6"/>
<line x1="439.38" y1="358.88" x2="441.98" y2="358.88" stroke="#808080" stroke-width="0.6"/>
<line x1="439.38" y1="353.19" x2="441.98" y2="353.19" stroke="#808080" stroke-width="0.6"/>
<line x1="442.23" y1="357.74" x2="442.23" y2="352.05" stroke="#808080" stroke-width="0.6"/>
<line x1="440.93" y1="357.74" x2="443.53" y2="357.74" stroke="#808080" stroke-width="0.6"/>
<line x1="440.93" y1="352.05" x2="443.53" y2="352.05" stroke="#808080" stroke-width="0.6"/>
<line x1="443.78" y1="355.50" x2="443.78" y2="349.81" stroke="#808080" stroke-width="0.6"/>
<line x1="442.48" y1="355.50" x2="445.08" y2="355.50" stroke="#808080" stroke-width="0.6"/>
<line x1="442.48" y1="349.81" x2="445.08" y2="349.81" stroke="#808080" stroke-width="0.6"/>
<line x1="445.33" y1="353.27" x2="445.33" y2="347.58" stroke="#808080" stroke-width="0.6"/>
<line x1="444.03" y1="353.27" x2="446.63" y2="353.27" stroke="#808080" stroke-width="0.6"/>
<line x1="444.03" y1="347.58" x2="446.63" y2="347.58" stroke="#808080" stroke-width="0.6"/>
<line x1="446.89" y1="349.61" x2="446.89" y2="343.92" stroke="#808080" stroke-width="0.6"/>
<line x1="445.59" y1="349.61" x2="448.19" y2="349.61" stroke="#808080" stroke-width="0.6"/>
<line x1="445.59" y1="343.92" x2="448.19" y2="343.92" stroke="#808080" stroke-width="0.6"/>
<line x1="448.44" y1="345.95" x2="448.44" y2="340.26" stroke="#808080" stroke-width="0.6"/>
<line x1="447.14" y1="345.95" x2="449.74" y2="345.95" stroke="#808080" stroke-width="0.6"/>
<line x1="447.14" y1="340.26" x2="449.74" y2="340.26" stroke="#808080" stroke-width="0.6"/>
<line x1="449.99" y1="343.31" x2="449.99" y2="337.62" stroke="#808080" stroke-width="0.6"/>
<line x1="448.69" y1="343.31" x2="451.29" y2="343.31" stroke="#808080" stroke-width="0.6"/>
<line x1="448.69" y1="337.62" x2="451.29" y2="337.62" stroke="#808080" stroke-width="0.6"/>
<line x1="451.54" y1="340.67" x2="451.54" y2="334.98" stroke="#808080" stroke-width="0.6"/>
<line x1="450.24" y1="340.67" x2="452.84" y2="340.67" stroke="#808080" stroke-width="0.6"/>
<line x1="450.24" y1="334.98" x2="452.84" y2="334.98" stroke="#808080" stroke-width="0.6"/>
<line x1="453.09" y1="338.84" x2="453.09" y2="333.15" stroke="#808080" stroke-width="0.6"/>
<line x1="451.79" y1="338.84" x2="454.39" y2="338.84" stroke="#808080" stroke-width="0.6"/>
<line x1="451.79" y1="333.15" x2="454.39" y2="333.15" stroke="#808080" stroke-width="0.6"/>
<line x1="454.64" y1="335.38" x2="454.64" y2="332.94" stroke="#808080" stroke-width="0.6"/>
<line x1="456.20" y1="335.18" x2="456.20" y2="332.74" stroke="#808080" stroke-width="0.6"/>
<line x1="457.75" y1="334.98" x2="457.75" y2="332.54" stroke="#808080" stroke-width="0.6"/>
<line x1="459.30" y1="335.14" x2="459.30" y2="332.70" stroke="#808080" stroke-width="0.6"/>
<line x1="460.85" y1="335.30" x2="460.85" y2="332.86" stroke="#808080" stroke-width="0.6"/>
<line x1="462.40" y1="335.46" x2="462.40" y2="333.02" stroke="#808080" stroke-width="0.6"/>
<line x1="463.96" y1="335.63" x2="463.96" y2="333.19" stroke="#808080" stroke-width="0.6"/>
<line x1="465.51" y1="335.79" x2="465.51" y2="333.35" stroke="#808080" stroke-width="0.6"/>
<line x1="467.06" y1="335.63" x2="467.06" y2="333.19" stroke="#808080" stroke-width="0.6"/>
<line x1="468.61" y1="335.46" x2="468.61" y2="333.02" stroke="#808080" stroke-width="0.6"/>
<line x1="470.16" y1="335.30" x2="470.16" y2="332.86" stroke="#808080" stroke-width="0.6"/>
<line x1="471.72" y1="335.14" x2="471.72" y2="332.70" stroke="#808080" stroke-width="0.6"/>
<line x1="473.27" y1="334.98" x2="473.27" y2="332.54" stroke="#808080" stroke-width="0.6"/>
<line x1="474.82" y1="334.70" x2="474.82" y2="332.27" stroke="#808080" stroke-width="0.6"/>
<line x1="476.37" y1="334.43" x2="476.37" y2="331.99" stroke="#808080" stroke-width="0.6"/>
<line x1="477.92" y1="334.16" x2="477.92" y2="331.72" stroke="#808080" stroke-width="0.6"/>
<line x1="479.47" y1="334.43" x2="479.47" y2="331.99" stroke="#808080" stroke-width="0.6"/>
<line x1="481.03" y1="334.70" x2="481.03" y2="332.27" stroke="#808080" stroke-width="0.6"/>
<line x1="482.58" y1="334.98" x2="482.58" y2="332.54" stroke="#808080" stroke-width="0.6"/>
<line x1="484.13" y1="335.25" x2="484.13" y2="332.81" stroke="#808080" stroke-width="0.6"/>
<line x1="485.68" y1="335.42" x2="485.68" y2="332.98" stroke="#808080" stroke-width="0.6"/>
<line x1="487.23" y1="335.50" x2="487.23" y2="333.06" stroke="#808080" stroke-width="0.6"/>
<line x1="488.79" y1="335.59" x2="488.79" y2="333.15" stroke="#808080" stroke-width="0.6"/>
<line x1="490.34" y1="335.67" x2="490.34" y2="333.23" stroke="#808080" stroke-width="0.6"/>
<line x1="491.89" y1="335.75" x2="491.89" y2="333.31" stroke="#808080" stroke-width="0.6"/>
<line x1="493.44" y1="335.83" x2="493.44" y2="333.39" stroke="#808080" stroke-width="0.6"/>
<line x1="494.99" y1="335.91" x2="494.99" y2="333.47" stroke="#808080" stroke-width="0.6"/>
<line x1="496.55" y1="335.99" x2="496.55" y2="333.55" stroke="#808080" stroke-width="0.6"/>
<line x1="498.10" y1="336.07" x2="498.10" y2="333.63" stroke="#808080" stroke-width="0.6"/>
<line x1="499.65" y1="336.15" x2="499.65" y2="333.72" stroke="#808080" stroke-width="0.6"/>
<line x1="501.20" y1="336.19" x2="501.20" y2="333.76" stroke="#808080" stroke-width="0.6"/>
<line x1="502.75" y1="336.19" x2="502.75" y2="333.76" stroke="#808080" stroke-width="0.6"/>
<line x1="504.31" y1="336.19" x2="504.31" y2="333.76" stroke="#808080" stroke-width="0.6"/>
<line x1="505.86" y1="336.19" x2="505.86" y2="333.76" stroke="#808080" stroke-width="0.6"/>
<line x1="507.41" y1="336.60" x2="507.41" y2="334.16" stroke="#808080" stroke-width="0.6"/>
<line x1="508.96" y1="337.01" x2="508.96" y2="334.57" stroke="#808080" stroke-width="0.6"/>
<line x1="510.51" y1="337.41" x2="510.51" y2="334.98" stroke="#808080" stroke-width="0.6"/>
<line x1="512.06" y1="337.82" x2="512.06" y2="335.38" stroke="#808080" stroke-width="0.6"/>
<line x1="513.62" y1="338.15" x2="513.62" y2="335.71" stroke="#808080" stroke-width="0.6"/>
<line x1="515.17" y1="338.47" x2="515.17" y2="336.03" stroke="#808080" stroke-width="0.6"/>
<circle cx="412.74" cy="383.35" r="1.3" fill="#c8c8c8" stroke="#808080" stroke-width="0.6"/>
<circle cx="414.30" cy="381.11" r="1.3" fill="#c8c8c8" stroke="#808080" stroke-width="0.6"/>
<circle cx="415.85" cy="378.88" r="1.3" fill="#c8c8c8" stroke="#808080" stroke-width="0.6"/>
<circle cx="417.40" cy="375.42" r="1.3" fill="#c8c8c8" stroke="#808080" stroke-width="0.6"/>
<circle cx="418.95" cy="371.97" r="1.3" fill="#c8c8c8" stroke="#808080" stroke-width="0.6"/>
<circle cx="420.50" cy="370.75" r="1.3" fill="#c8c8c8" stroke="#808080" stroke-width="0.6"/>
<circle cx="422.05" cy="369.53" r="1.3" fill="#c8c8c8" stroke="#808080" stroke-width="0.6"/>
<circle cx="423.61" cy="363.02" r="1.3" fill="#c8c8c8" stroke="#808080" stroke-width="0.6"/>
<circle cx="425.16" cy="357.74" r="1.3" fill="#c8c8c8" stroke="#808080" stroke-width="0.6"/>
<circle cx="426.71" cy="353.67" r="1.3" fill="#c8c8c8" stroke="#808080" stroke-width="0.6"/>
<circle cx="428.26" cy="353.95" r="1.3" fill="#c8c8c8" stroke="#808080" stroke-width="0.6"/>
<circle cx="429.81" cy="355.98" r="1.3" fill="#c8c8c8" stroke="#808080" stroke-width="0.6"/>
<circle cx="431.37" cy="359.77" r="1.3" fill="#c8c8c8" stroke="#808080" stroke-width="0.6"/>
<circle cx="432.92" cy="359.57" r="1.3" fill="#c8c8c8" stroke="#808080" stroke-width="0.6"/>
<circle cx="434.47" cy="359.37" r="1.3" fill="#c8c8c8" stroke="#808080" stroke-width="0.6"/>
<circle cx="436.02" cy="358.72" r="1.3" fill="#c8c8c8" stroke="#808080" stroke-width="0.6"/>
<circle cx="437.57" cy="358.06" r="1.3" fill="#c8c8c8" stroke="#808080" stroke-width="0.6"/>
<circle cx="439.13" cy="357.17" r="1.3" fill="#c8c8c8" stroke="#808080" stroke-width="0.6"/>
<circle cx="440.68" cy="356.03" r="1.3" fill="#c8c8c8" stroke="#808080" stroke-width="0.6"/>
<circle cx="442.23" cy="354.89" r="1.3" fill="#c8c8c8" stroke="#808080" stroke-width="0.6"/>
<circle cx="443.78" cy="352.66" r="1.3" fill="#c8c8c8" stroke="#808080" stroke-width="0.6"/>
<circle cx="445.33" cy="350.42" r="1.3" fill="#c8c8c8" stroke="#808080" stroke-width="0.6"/>
<circle cx="446.89" cy="346.76" r="1.3" fill="#c8c8c8" stroke="#808080" stroke-width="0.6"/>
<circle cx="448.44" cy="343.11" r="1.3" fill="#c8c8c8" stroke="#808080" stroke-width="0.6"/>
<circle cx="449.99" cy="340.46" r="1.3" fill="#c8c8c8" stroke="#808080" stroke-width="0.6"/>
<circle cx="451.54" cy="337.82" r="1.3" fill="#c8c8c8" stroke="#808080" stroke-width="0.6"/>
<circle cx="453.09" cy="335.99" r="1.3" fill="#c8c8c8" stroke="#808080" stroke-width="0.6"/>
<circle cx="454.64" cy="334.16" r="1.3" fill="#c8c8c8" stroke="#808080" stroke-width="0.6"/>
<circle cx="456.20" cy="333.96" r="1.3" fill="#c8c8c8" stroke="#808080" stroke-width="0.6"/>
<circle cx="457.75" cy="333.76" r="1.3" fill="#c8c8c8" stroke="#808080" stroke-width="0.6"/>
<circle cx="459.30" cy="333.92" r="1.3" fill="#c8c8c8" stroke="#808080" stroke-width="0.6"/>
<circle cx="460.85" cy="334.08" r="1.3" fill="#c8c8c8" stroke="#808080" stroke-width="0.6"/>
<circle cx="462.40" cy="334.24" r="1.3" fill="#c8c8c8" stroke="#808080" stroke-width="0.6"/>
<circle cx="463.96" cy="334.41" r="1.3" fill="#c8c8c8" stroke="#808080" stroke-width="0.6"/>
<circle cx="465.51" cy="334.57" r="1.3" fill="#c8c8c8" stroke="#808080" stroke-width="0.6"/>
<circle cx="467.06" cy="334.41" r="1.3" fill="#c8c8c8" stroke="#808080" stroke-width="0.6"/>
<circle cx="468.61" cy="334.24" r="1.3" fill="#c8c8c8" stroke="#808080" stroke-width="0.6"/>
<circle cx="470.16" cy="334.08" r="1.3" fill="#c8c8c8" stroke="#808080" stroke-width="0.6"/>
<circle cx="471.72" cy="333.92" r="1.3" fill="#c8c8c8" stroke="#808080" stroke-width="0.6"/>
<circle cx="473.27" cy="333.76" r="1.3" fill="#c8c8c8" stroke="#808080" stroke-width="0.6"/>
<circle cx="474.82" cy="333.49" r="1.3" fill="#c8c8c8" stroke="#808080" stroke-width="0.6"/>
<circle cx="476.37" cy="333.21" r="1.3" fill="#c8c8c8" stroke="#808080" stroke-width="0.6"/>
<circle cx="477.92" cy="332.94" r="1.3" fill="#c8c8c8" stroke="#808080" stroke-width="0.6"/>
<circle cx="479.47" cy="333.21" r="1.3" fill="#c8c8c8" stroke="#808080" stroke-width="0.6"/>
<circle cx="481.03" cy="333.49" r="1.3" fill="#c8c8c8" stroke="#808080" stroke-width="0.6"/>
<circle cx="482.58" cy="333.76" r="1.3" fill="#c8c8c8" stroke="#808080" stroke-width="0.6"/>
<circle cx="484.13" cy="334.03" r="1.3" fill="#c8c8c8" stroke="#808080" stroke-width="0.6"/>
<circle cx="485.68" cy="334.20" r="1.3" fill="#c8c8c8" stroke="#808080" stroke-width="0.6"/>
<circle cx="487.23" cy="334.28" r="1.3" fill="#c8c8c8" stroke="#808080" stroke-width="0.6"/>
<circle cx="488.79" cy="334.37" r="1.3" fill="#c8c8c8" stroke="#808080" stroke-width="0.6"/>
<circle cx="490.34" cy="334.45" r="1.3" fill="#c8c8c8" stroke="#808080" stroke-width="0.6"/>
<circle cx="491.89" cy="334.53" r="1.3" fill="#c8c8c8" stroke="#808080" stroke-width="0.6"/>
<circle cx="493.44" cy="334.61" r="1.3" fill="#c8c8c8" stroke="#808080" stroke-width="0.6"/>
<circle cx="494.99" cy="334.69" r="1.3" fill="#c8c8c8" stroke="#808080" stroke-width="0.6"/>
<circle cx="496.55" cy="334.77" r="1.3" fill="#c8c8c8" stroke="#808080" stroke-width="0.6"/>
<circle cx="498.10" cy="334.85" r="1.3" fill="#c8c8c8" stroke="#808080" stroke-width="0.6"/>
<circle cx="499.65" cy="334.93" r="1.3" fill="#c8c8c8" stroke="#808080" stroke-width="0.6"/>
<circle cx="501.20" cy="334.98" r="1.3" fill="#c8c8c8" stroke="#808080" stroke-width="0.6"/>
<circle cx="502.75" cy="334.98" r="1.3" fill="#c8c8c8" stroke="#808080" stroke-width="0.6"/>
<circle cx="504.31" cy="334.98" r="1.3" fill="#c8c8c8" stroke="#808080" stroke-width="0.6"/>
<circle cx="505.86" cy="334.98" r="1.3" fill="#c8c8c8" stroke="#808080" stroke-width="0.6"/>
<circle cx="507.41" cy="335.38" r="1.3" fill="#c8c8c8" stroke="#808080" stroke-width="0.6"/>
<circle cx="508.96" cy="335.79" r="1.3" fill="#c8c8c8" stroke="#808080" stroke-width="0.6"/>
<circle cx="510.51" cy="336.19" r="1.3" fill="#c8c8c8" stroke="#808080" stroke-width="0.6"/>
<circle cx="512.06" cy="336.60" r="1.3" fill="#c8c8c8" stroke="#808080" stroke-width="0.6"/>
<circle cx="513.62" cy="336.93" r="1.3" fill="#c8c8c8" stroke="#808080" stroke-width="0.6"/>
<circle cx="515.17" cy="337.25" r="1.3" fill="#c8c8c8" stroke="#808080" stroke-width="0.6"/>
<rect x="407.70" y="324.00" width="112.90" height="81.30" fill="none" stroke="#111" stroke-width="0.75"/>
<line x1="411.19" y1="405.30" x2="411.19" y2="399.50" stroke="#111" stroke-width="0.9"/>
<line x1="442.23" y1="405.30" x2="442.23" y2="399.50" stroke="#111" stroke-width="0.9"/>
<line x1="473.27" y1="405.30" x2="473.27" y2="399.50" stroke="#111" stroke-width="0.9"/>
<line x1="504.31" y1="405.30" x2="504.31" y2="399.50" stroke="#111" stroke-width="0.9"/>
<text x="411.19" y="417.80" text-anchor="middle" font-size="9.7">0</text>
<text x="442.23" y="417.80" text-anchor="middle" font-size="9.7">4</text>
<text x="473.27" y="417.80" text-anchor="middle" font-size="9.7">8</text>
<text x="504.31" y="417.80" text-anchor="middle" font-size="9.7">12</text>
<text x="402.50" y="408.74" text-anchor="end" font-size="9.7">−0.1</text>
<text x="402.50" y="368.09" text-anchor="end" font-size="9.7">0.0</text>
<text x="402.50" y="327.44" text-anchor="end" font-size="9.7">0.1</text>
<text transform="translate(381.50,364.50) rotate(-90)" text-anchor="middle" font-size="9.7"><tspan font-style="italic">P</tspan><tspan font-size="6.8" dy="2.0" dx="0.3">2D</tspan><tspan dy="-2.0" dx="1.3">​</tspan> (pC m<tspan font-size="6.8" dy="-3.6">−1</tspan><tspan dy="3.6">​</tspan>)</text>
<text x="464.00" y="433.50" text-anchor="middle" font-size="9.7" ><tspan font-style="italic">B</tspan> (T)</text>
<text x="374.40" y="329.50" font-size="12.8" font-weight="bold">i</text>
<rect x="614.41" y="19.20" width="8.97" height="81.20" fill="#fcf1f0"/>
<line x1="614.41" y1="19.20" x2="614.41" y2="100.40" stroke="#d9595f" stroke-width="0.6" stroke-dasharray="2,1.3"/>
<line x1="623.38" y1="19.20" x2="623.38" y2="100.40" stroke="#5a9bd8" stroke-width="0.6" stroke-dasharray="2,1.3"/>
<polyline points="567.70,96.47 568.17,96.47 568.63,96.47 569.10,96.47 569.57,96.47 570.04,96.47 570.50,96.47 570.97,96.47 571.44,96.47 571.90,96.47 572.37,96.47 572.84,96.47 573.31,96.47 573.77,96.47 574.24,96.47 574.71,96.47 575.17,96.47 575.64,96.47 576.11,96.47 576.57,96.47 577.04,96.47 577.51,96.47 577.98,96.47 578.44,96.47 578.91,96.47 579.38,96.47 579.84,96.47 580.31,96.47 580.78,96.47 581.25,96.47 581.71,96.47 582.18,96.47 582.65,96.47 583.11,96.47 583.58,96.47 584.05,96.47 584.51,96.47 584.98,96.47 585.45,96.47 585.92,96.47 586.38,96.47 586.85,96.47 587.32,96.47 587.78,96.47 588.25,96.47 588.72,96.47 589.19,96.47 589.65,96.47 590.12,96.47 590.59,96.47 591.05,96.46 591.52,96.46 591.99,96.46 592.46,96.46 592.92,96.45 593.39,96.45 593.86,96.44 594.32,96.43 594.79,96.42 595.26,96.41 595.73,96.40 596.19,96.38 596.66,96.36 597.13,96.33 597.59,96.31 598.06,96.27 598.53,96.23 598.99,96.19 599.46,96.13 599.93,96.07 600.40,96.00 600.86,95.92 601.33,95.83 601.80,95.72 602.26,95.61 602.73,95.48 603.20,95.34 603.67,95.19 604.13,95.02 604.60,94.84 605.07,94.65 605.53,94.44 606.00,94.22 606.47,93.99 606.94,93.75 607.40,93.50 607.87,93.25 608.34,92.99 608.80,92.73 609.27,92.47 609.74,92.21 610.20,91.95 610.67,91.71 611.14,91.48 611.61,91.26 612.07,91.06 612.54,90.89 613.01,90.73 613.47,90.60 613.94,90.50 614.41,90.42 614.88,90.37 615.34,90.36 615.81,90.38 616.28,90.42 616.74,90.50 617.21,90.60 617.68,90.73 618.14,90.89 618.61,91.07 619.08,91.27 619.55,91.49 620.01,91.72 620.48,91.97 620.95,92.23 621.41,92.49 621.88,92.76 622.35,93.03 622.82,93.29 623.28,93.56 623.75,93.82 624.22,94.08 624.68,94.32 625.15,94.56 625.62,94.79 626.09,95.00 626.55,95.21 627.02,95.40 627.49,95.58 627.95,95.76 628.42,95.91 628.89,96.06 629.36,96.20 629.82,96.33 630.29,96.44 630.76,96.55 631.22,96.64 631.69,96.73 632.16,96.80 632.62,96.87 633.09,96.92 633.56,96.97 634.03,97.00 634.49,97.03 634.96,97.05 635.43,97.06 635.89,97.07 636.36,97.06 636.83,97.05 637.30,97.04 637.76,97.01 638.23,96.99 638.70,96.96 639.16,96.92 639.63,96.88 640.10,96.84 640.56,96.80 641.03,96.75 641.50,96.70 641.97,96.65 642.43,96.60 642.90,96.54 643.37,96.49 643.83,96.43 644.30,96.37 644.77,96.30 645.24,96.24 645.70,96.18 646.17,96.12 646.64,96.06 647.10,96.01 647.57,95.96 648.04,95.92 648.51,95.88 648.97,95.85 649.44,95.84 649.91,95.83 650.37,95.83 650.84,95.84 651.31,95.86 651.77,95.89 652.24,95.92 652.71,95.96 653.18,96.01 653.64,96.05 654.11,96.10 654.58,96.14 655.04,96.19 655.51,96.23 655.98,96.27 656.45,96.30 656.91,96.33 657.38,96.36 657.85,96.38 658.31,96.40 658.78,96.42 659.25,96.43 659.72,96.44 660.18,96.45 660.65,96.45 661.12,96.46 661.58,96.46 662.05,96.46 662.52,96.47 662.99,96.47 663.45,96.47 663.92,96.47 664.39,96.47 664.85,96.47 665.32,96.47 665.79,96.47 666.25,96.47 666.72,96.47 667.19,96.47 667.66,96.47 668.12,96.47 668.59,96.47 669.06,96.47 669.52,96.47 669.99,96.47 670.46,96.47 670.93,96.47 671.39,96.47 671.86,96.47 672.33,96.47 672.79,96.47 673.26,96.47 673.73,96.47 674.19,96.47 674.66,96.47 675.13,96.47 675.60,96.47 676.06,96.47 676.53,96.47 677.00,96.47 677.46,96.47 677.93,96.47 678.40,96.47 678.87,96.47 679.33,96.47 679.80,96.47" fill="none" stroke="#c4242c" stroke-width="1.25" stroke-linejoin="round"/>
<polyline points="567.70,96.28 568.17,96.28 568.63,96.28 569.10,96.27 569.57,96.27 570.04,96.27 570.50,96.26 570.97,96.26 571.44,96.26 571.90,96.25 572.37,96.25 572.84,96.24 573.31,96.24 573.77,96.23 574.24,96.23 574.71,96.23 575.17,96.22 575.64,96.22 576.11,96.21 576.57,96.21 577.04,96.20 577.51,96.19 577.98,96.19 578.44,96.18 578.91,96.18 579.38,96.17 579.84,96.16 580.31,96.16 580.78,96.15 581.25,96.14 581.71,96.14 582.18,96.13 582.65,96.12 583.11,96.11 583.58,96.11 584.05,96.10 584.51,96.09 584.98,96.08 585.45,96.07 585.92,96.06 586.38,96.05 586.85,96.04 587.32,96.03 587.78,96.02 588.25,96.00 588.72,95.99 589.19,95.98 589.65,95.97 590.12,95.95 590.59,95.94 591.05,95.92 591.52,95.91 591.99,95.89 592.46,95.87 592.92,95.85 593.39,95.83 593.86,95.81 594.32,95.79 594.79,95.77 595.26,95.75 595.73,95.73 596.19,95.70 596.66,95.67 597.13,95.65 597.59,95.62 598.06,95.59 598.53,95.55 598.99,95.52 599.46,95.48 599.93,95.45 600.40,95.41 600.86,95.36 601.33,95.32 601.80,95.27 602.26,95.22 602.73,95.16 603.20,95.10 603.67,95.04 604.13,94.98 604.60,94.90 605.07,94.83 605.53,94.75 606.00,94.66 606.47,94.56 606.94,94.46 607.40,94.35 607.87,94.23 608.34,94.10 608.80,93.96 609.27,93.80 609.74,93.63 610.20,93.45 610.67,93.24 611.14,93.01 611.61,92.76 612.07,92.47 612.54,92.14 613.01,91.75 613.47,91.30 613.94,90.77 614.41,90.11 614.88,89.32 615.34,88.33 615.81,87.11 616.28,85.59 616.74,83.72 617.21,81.43 617.68,78.65 618.14,75.34 618.61,71.45 619.08,66.99 619.55,61.97 620.01,56.49 620.48,50.65 620.95,44.67 621.41,38.81 621.88,33.38 622.35,28.76 622.82,25.34 623.28,23.45 623.75,23.27 624.22,24.83 624.68,27.97 625.15,32.38 625.62,37.67 626.09,43.48 626.55,49.46 627.02,55.34 627.49,60.91 627.95,66.03 628.42,70.60 628.89,74.60 629.36,78.03 629.82,80.91 630.29,83.30 630.76,85.25 631.22,86.83 631.69,88.11 632.16,89.14 632.62,89.97 633.09,90.65 633.56,91.20 634.03,91.67 634.49,92.07 634.96,92.41 635.43,92.70 635.89,92.96 636.36,93.20 636.83,93.41 637.30,93.60 637.76,93.77 638.23,93.93 638.70,94.07 639.16,94.20 639.63,94.33 640.10,94.44 640.56,94.54 641.03,94.64 641.50,94.73 641.97,94.81 642.43,94.89 642.90,94.96 643.37,95.03 643.83,95.09 644.30,95.15 644.77,95.21 645.24,95.26 645.70,95.31 646.17,95.35 646.64,95.40 647.10,95.44 647.57,95.48 648.04,95.51 648.51,95.55 648.97,95.58 649.44,95.61 649.91,95.64 650.37,95.67 650.84,95.70 651.31,95.72 651.77,95.75 652.24,95.77 652.71,95.79 653.18,95.81 653.64,95.83 654.11,95.85 654.58,95.87 655.04,95.89 655.51,95.90 655.98,95.92 656.45,95.93 656.91,95.95 657.38,95.96 657.85,95.98 658.31,95.99 658.78,96.00 659.25,96.01 659.72,96.03 660.18,96.04 660.65,96.05 661.12,96.06 661.58,96.07 662.05,96.08 662.52,96.09 662.99,96.10 663.45,96.10 663.92,96.11 664.39,96.12 664.85,96.13 665.32,96.14 665.79,96.14 666.25,96.15 666.72,96.16 667.19,96.16 667.66,96.17 668.12,96.18 668.59,96.18 669.06,96.19 669.52,96.19 669.99,96.20 670.46,96.20 670.93,96.21 671.39,96.21 671.86,96.22 672.33,96.22 672.79,96.23 673.26,96.23 673.73,96.24 674.19,96.24 674.66,96.25 675.13,96.25 675.60,96.25 676.06,96.26 676.53,96.26 677.00,96.27 677.46,96.27 677.93,96.27 678.40,96.28 678.87,96.28 679.33,96.28 679.80,96.29" fill="none" stroke="#1f72c4" stroke-width="1.25" stroke-linejoin="round"/>
<rect x="567.70" y="19.20" width="112.10" height="81.20" fill="none" stroke="#111" stroke-width="0.75"/>
<line x1="605.07" y1="100.40" x2="605.07" y2="94.60" stroke="#111" stroke-width="0.9"/>
<line x1="642.43" y1="100.40" x2="642.43" y2="94.60" stroke="#111" stroke-width="0.9"/>
<line x1="567.70" y1="61.98" x2="573.50" y2="61.98" stroke="#111" stroke-width="0.9"/>
<line x1="567.70" y1="27.06" x2="573.50" y2="27.06" stroke="#111" stroke-width="0.9"/>
<text x="562.50" y="100.35" text-anchor="end" font-size="9.7">0</text>
<text x="562.50" y="65.43" text-anchor="end" font-size="9.7">80</text>
<text x="562.50" y="30.50" text-anchor="end" font-size="9.7">160</text>
<line x1="574.00" y1="80.50" x2="594.72" y2="80.50" stroke="#b5121b" stroke-width="2.0"/>
<polygon points="600.00,80.50 593.40,77.20 593.40,83.80" fill="#b5121b"/>
<line x1="602.00" y1="88.50" x2="580.28" y2="88.50" stroke="#1461ac" stroke-width="2.0"/>
<polygon points="575.00,88.50 581.60,85.20 581.60,91.80" fill="#1461ac"/>
<text x="671.50" y="34.50" text-anchor="end" font-size="9.7" >13.5 T</text>
<text transform="translate(540.80,60.50) rotate(-90)" text-anchor="middle" font-size="9.7"><tspan font-style="italic">R</tspan><tspan font-size="6.8" dy="2.0" dx="0.3">xx</tspan><tspan dy="-2.0" dx="0.1">​</tspan> (kΩ)</text>
<text x="533.50" y="9.20" font-size="12.8" font-weight="bold">j</text>
<line x1="621.13" y1="110.60" x2="621.13" y2="192.10" stroke="#999" stroke-width="0.6" stroke-dasharray="2,1.3"/>
<polyline points="567.70,188.19 568.17,188.19 568.63,188.19 569.10,188.19 569.57,188.19 570.04,188.19 570.50,188.19 570.97,188.19 571.44,188.19 571.90,188.19 572.37,188.19 572.84,188.19 573.31,188.19 573.77,188.19 574.24,188.19 574.71,188.19 575.17,188.19 575.64,188.19 576.11,188.19 576.57,188.19 577.04,188.19 577.51,188.19 577.98,188.19 578.44,188.19 578.91,188.19 579.38,188.19 579.84,188.19 580.31,188.19 580.78,188.19 581.25,188.19 581.71,188.19 582.18,188.19 582.65,188.19 583.11,188.19 583.58,188.19 584.05,188.19 584.51,188.19 584.98,188.19 585.45,188.19 585.92,188.19 586.38,188.19 586.85,188.19 587.32,188.19 587.78,188.19 588.25,188.19 588.72,188.19 589.19,188.19 589.65,188.19 590.12,188.19 590.59,188.19 591.05,188.19 591.52,188.19 591.99,188.19 592.46,188.19 592.92,188.19 593.39,188.19 593.86,188.19 594.32,188.19 594.79,188.19 595.26,188.19 595.73,188.19 596.19,188.19 596.66,188.19 597.13,188.19 597.59,188.18 598.06,188.18 598.53,188.18 598.99,188.18 599.46,188.18 599.93,188.17 600.40,188.17 600.86,188.16 601.33,188.15 601.80,188.14 602.26,188.13 602.73,188.11 603.20,188.09 603.67,188.06 604.13,188.03 604.60,188.00 605.07,187.95 605.53,187.89 606.00,187.83 606.47,187.75 606.94,187.66 607.40,187.55 607.87,187.42 608.34,187.28 608.80,187.11 609.27,186.92 609.74,186.71 610.20,186.47 610.67,186.20 611.14,185.90 611.61,185.58 612.07,185.23 612.54,184.85 613.01,184.44 613.47,184.00 613.94,183.55 614.41,183.07 614.88,182.58 615.34,182.07 615.81,181.56 616.28,181.05 616.74,180.54 617.21,180.05 617.68,179.57 618.14,179.12 618.61,178.70 619.08,178.32 619.55,177.98 620.01,177.69 620.48,177.45 620.95,177.27 621.41,177.15 621.88,177.09 622.35,177.09 622.82,177.15 623.28,177.27 623.75,177.45 624.22,177.68 624.68,177.96 625.15,178.28 625.62,178.64 626.09,179.03 626.55,179.44 627.02,179.87 627.49,180.32 627.95,180.76 628.42,181.21 628.89,181.65 629.36,182.08 629.82,182.49 630.29,182.88 630.76,183.24 631.22,183.59 631.69,183.90 632.16,184.19 632.62,184.45 633.09,184.68 633.56,184.89 634.03,185.06 634.49,185.22 634.96,185.35 635.43,185.46 635.89,185.55 636.36,185.62 636.83,185.68 637.30,185.73 637.76,185.76 638.23,185.79 638.70,185.81 639.16,185.82 639.63,185.83 640.10,185.84 640.56,185.85 641.03,185.85 641.50,185.86 641.97,185.86 642.43,185.87 642.90,185.88 643.37,185.89 643.83,185.91 644.30,185.93 644.77,185.95 645.24,185.98 645.70,186.01 646.17,186.04 646.64,186.08 647.10,186.12 647.57,186.16 648.04,186.20 648.51,186.25 648.97,186.30 649.44,186.36 649.91,186.41 650.37,186.47 650.84,186.52 651.31,186.58 651.77,186.64 652.24,186.70 652.71,186.77 653.18,186.83 653.64,186.89 654.11,186.95 654.58,187.01 655.04,187.07 655.51,187.13 655.98,187.18 656.45,187.24 656.91,187.30 657.38,187.35 657.85,187.40 658.31,187.45 658.78,187.50 659.25,187.54 659.72,187.59 660.18,187.63 660.65,187.67 661.12,187.71 661.58,187.75 662.05,187.78 662.52,187.81 662.99,187.84 663.45,187.87 663.92,187.90 664.39,187.92 664.85,187.95 665.32,187.97 665.79,187.99 666.25,188.01 666.72,188.03 667.19,188.04 667.66,188.06 668.12,188.07 668.59,188.08 669.06,188.09 669.52,188.10 669.99,188.11 670.46,188.12 670.93,188.13 671.39,188.13 671.86,188.14 672.33,188.15 672.79,188.15 673.26,188.16 673.73,188.16 674.19,188.16 674.66,188.17 675.13,188.17 675.60,188.17 676.06,188.17 676.53,188.18 677.00,188.18 677.46,188.18 677.93,188.18 678.40,188.18 678.87,188.18 679.33,188.18 679.80,188.18" fill="none" stroke="#c4242c" stroke-width="1.25" stroke-linejoin="round"/>
<polyline points="567.70,187.91 568.17,187.90 568.63,187.90 569.10,187.90 569.57,187.90 570.04,187.89 570.50,187.89 570.97,187.89 571.44,187.88 571.90,187.88 572.37,187.88 572.84,187.87 573.31,187.87 573.77,187.87 574.24,187.86 574.71,187.86 575.17,187.85 575.64,187.85 576.11,187.85 576.57,187.84 577.04,187.84 577.51,187.83 577.98,187.83 578.44,187.82 578.91,187.82 579.38,187.81 579.84,187.81 580.31,187.80 580.78,187.79 581.25,187.79 581.71,187.78 582.18,187.78 582.65,187.77 583.11,187.76 583.58,187.75 584.05,187.75 584.51,187.74 584.98,187.73 585.45,187.72 585.92,187.71 586.38,187.70 586.85,187.69 587.32,187.68 587.78,187.67 588.25,187.66 588.72,187.65 589.19,187.64 589.65,187.63 590.12,187.62 590.59,187.60 591.05,187.59 591.52,187.57 591.99,187.56 592.46,187.54 592.92,187.53 593.39,187.51 593.86,187.49 594.32,187.47 594.79,187.45 595.26,187.43 595.73,187.41 596.19,187.38 596.66,187.36 597.13,187.34 597.59,187.32 598.06,187.29 598.53,187.27 598.99,187.26 599.46,187.25 599.93,187.24 600.40,187.24 600.86,187.25 601.33,187.28 601.80,187.31 602.26,187.36 602.73,187.43 603.20,187.50 603.67,187.59 604.13,187.68 604.60,187.77 605.07,187.85 605.53,187.91 606.00,187.95 606.47,187.96 606.94,187.92 607.40,187.82 607.87,187.66 608.34,187.43 608.80,187.12 609.27,186.72 609.74,186.22 610.20,185.60 610.67,184.86 611.14,183.97 611.61,182.90 612.07,181.63 612.54,180.13 613.01,178.36 613.47,176.27 613.94,173.85 614.41,171.05 614.88,167.86 615.34,164.27 615.81,160.28 616.28,155.93 616.74,151.26 617.21,146.33 617.68,141.26 618.14,136.17 618.61,131.21 619.08,126.59 619.55,122.50 620.01,119.20 620.48,116.88 620.95,115.74 621.41,115.86 621.88,117.24 622.35,119.75 622.82,123.21 623.28,127.41 623.75,132.10 624.22,137.08 624.68,142.16 625.15,147.18 625.62,152.04 626.09,156.62 626.55,160.88 627.02,164.75 627.49,168.22 627.95,171.28 628.42,173.95 628.89,176.25 629.36,178.22 629.82,179.88 630.29,181.28 630.76,182.45 631.22,183.43 631.69,184.25 632.16,184.93 632.62,185.49 633.09,185.95 633.56,186.31 634.03,186.59 634.49,186.80 634.96,186.93 635.43,187.01 635.89,187.02 636.36,186.98 636.83,186.90 637.30,186.79 637.76,186.65 638.23,186.51 638.70,186.35 639.16,186.20 639.63,186.05 640.10,185.92 640.56,185.80 641.03,185.70 641.50,185.61 641.97,185.54 642.43,185.49 642.90,185.45 643.37,185.42 643.83,185.40 644.30,185.40 644.77,185.40 645.24,185.40 645.70,185.42 646.17,185.44 646.64,185.46 647.10,185.49 647.57,185.52 648.04,185.56 648.51,185.60 648.97,185.64 649.44,185.69 649.91,185.74 650.37,185.80 650.84,185.85 651.31,185.91 651.77,185.98 652.24,186.04 652.71,186.11 653.18,186.17 653.64,186.24 654.11,186.31 654.58,186.38 655.04,186.45 655.51,186.52 655.98,186.59 656.45,186.66 656.91,186.73 657.38,186.79 657.85,186.86 658.31,186.92 658.78,186.98 659.25,187.04 659.72,187.10 660.18,187.16 660.65,187.21 661.12,187.26 661.58,187.31 662.05,187.35 662.52,187.40 662.99,187.44 663.45,187.48 663.92,187.51 664.39,187.55 664.85,187.58 665.32,187.61 665.79,187.64 666.25,187.66 666.72,187.69 667.19,187.71 667.66,187.73 668.12,187.75 668.59,187.76 669.06,187.78 669.52,187.79 669.99,187.81 670.46,187.82 670.93,187.83 671.39,187.84 671.86,187.85 672.33,187.86 672.79,187.87 673.26,187.87 673.73,187.88 674.19,187.88 674.66,187.89 675.13,187.90 675.60,187.90 676.06,187.90 676.53,187.91 677.00,187.91 677.46,187.92 677.93,187.92 678.40,187.92 678.87,187.92 679.33,187.93 679.80,187.93" fill="none" stroke="#1f72c4" stroke-width="1.25" stroke-linejoin="round"/>
<rect x="567.70" y="110.60" width="112.10" height="81.50" fill="none" stroke="#111" stroke-width="0.75"/>
<line x1="605.07" y1="192.10" x2="605.07" y2="186.30" stroke="#111" stroke-width="0.9"/>
<line x1="642.43" y1="192.10" x2="642.43" y2="186.30" stroke="#111" stroke-width="0.9"/>
<line x1="567.70" y1="149.72" x2="573.50" y2="149.72" stroke="#111" stroke-width="0.9"/>
<text x="562.50" y="192.28" text-anchor="end" font-size="9.7">0</text>
<text x="562.50" y="153.16" text-anchor="end" font-size="9.7">6</text>
<text x="562.50" y="114.04" text-anchor="end" font-size="9.7">12</text>
<text x="671.50" y="125.00" text-anchor="end" font-size="9.7" >1.7 T</text>
<text transform="translate(540.80,151.50) rotate(-90)" text-anchor="middle" font-size="9.7"><tspan font-style="italic">R</tspan><tspan font-size="6.8" dy="2.0" dx="0.3">xx</tspan><tspan dy="-2.0" dx="0.1">​</tspan> (kΩ)</text>
<text x="532.70" y="116.30" font-size="12.8" font-weight="bold">k</text>
<rect x="618.52" y="202.50" width="6.73" height="80.90" fill="#edf3f8"/>
<line x1="618.52" y1="202.50" x2="618.52" y2="283.40" stroke="#5a9bd8" stroke-width="0.6" stroke-dasharray="2,1.3"/>
<line x1="625.24" y1="202.50" x2="625.24" y2="283.40" stroke="#d9595f" stroke-width="0.6" stroke-dasharray="2,1.3"/>
<polyline points="567.70,275.31 568.15,275.25 568.72,275.17 569.38,275.08 570.12,274.98 570.93,274.87 571.79,274.75 572.68,274.63 573.58,274.52 574.49,274.40 575.38,274.29 576.23,274.19 577.04,274.10 577.83,274.01 578.62,273.92 579.42,273.83 580.22,273.74 581.03,273.65 581.83,273.57 582.62,273.49 583.41,273.42 584.18,273.37 584.93,273.32 585.67,273.30 586.38,273.29 587.08,273.30 587.76,273.32 588.43,273.36 589.08,273.41 589.72,273.47 590.35,273.54 590.97,273.62 591.57,273.71 592.16,273.80 592.74,273.90 593.31,274.00 593.86,274.10 594.40,274.21 594.92,274.34 595.43,274.49 595.93,274.65 596.42,274.82 596.89,274.98 597.35,275.14 597.80,275.30 598.24,275.43 598.66,275.55 599.07,275.65 599.46,275.71 599.84,275.76 600.19,275.79 600.53,275.82 600.85,275.83 601.15,275.82 601.45,275.80 601.74,275.77 602.02,275.71 602.31,275.64 602.60,275.55 602.89,275.44 603.20,275.31 603.51,275.17 603.82,275.03 604.13,274.88 604.44,274.72 604.76,274.54 605.07,274.34 605.38,274.10 605.69,273.83 606.00,273.52 606.31,273.16 606.62,272.75 606.94,272.28 607.25,271.74 607.56,271.16 607.87,270.52 608.18,269.84 608.49,269.12 608.80,268.36 609.11,267.56 609.43,266.73 609.74,265.88 610.05,265.00 610.36,264.09 610.67,263.17 610.98,262.22 611.29,261.22 611.61,260.17 611.92,259.09 612.23,257.98 612.54,256.85 612.85,255.71 613.16,254.56 613.47,253.41 613.79,252.27 614.10,251.14 614.41,250.03 614.72,248.92 615.03,247.79 615.34,246.65 615.65,245.50 615.97,244.35 616.28,243.20 616.59,242.07 616.90,240.96 617.21,239.88 617.52,238.84 617.83,237.84 618.14,236.88 618.46,235.96 618.77,235.06 619.08,234.17 619.39,233.31 619.70,232.48 620.01,231.67 620.32,230.91 620.64,230.19 620.95,229.51 621.26,228.88 621.57,228.30 621.88,227.78 622.19,227.32 622.50,226.90 622.82,226.53 623.13,226.21 623.44,225.93 623.75,225.70 624.06,225.50 624.37,225.35 624.68,225.25 625.00,225.18 625.31,225.15 625.62,225.15 625.92,225.20 626.22,225.28 626.51,225.40 626.79,225.56 627.08,225.77 627.37,226.01 627.67,226.30 627.97,226.63 628.29,227.00 628.62,227.42 628.98,227.88 629.36,228.39 629.75,228.96 630.16,229.59 630.58,230.29 631.02,231.03 631.46,231.82 631.92,232.65 632.40,233.50 632.88,234.37 633.38,235.26 633.90,236.14 634.42,237.02 634.96,237.89 635.52,238.78 636.10,239.70 636.70,240.66 637.31,241.63 637.94,242.62 638.58,243.61 639.22,244.59 639.87,245.55 640.52,246.48 641.17,247.38 641.80,248.23 642.43,249.02 643.06,249.76 643.68,250.46 644.30,251.13 644.92,251.77 645.55,252.38 646.17,252.96 646.79,253.52 647.42,254.07 648.04,254.59 648.66,255.10 649.28,255.60 649.91,256.10 650.53,256.57 651.15,257.03 651.77,257.47 652.40,257.89 653.02,258.30 653.64,258.69 654.27,259.06 654.89,259.42 655.51,259.77 656.13,260.11 656.76,260.43 657.38,260.75 658.00,261.05 658.63,261.33 659.25,261.60 659.87,261.86 660.49,262.10 661.12,262.33 661.74,262.55 662.36,262.76 662.99,262.97 663.61,263.18 664.23,263.38 664.85,263.58 665.48,263.78 666.10,263.96 666.72,264.14 667.34,264.31 667.97,264.48 668.59,264.64 669.21,264.80 669.84,264.96 670.46,265.12 671.08,265.27 671.70,265.44 672.33,265.60 672.97,265.78 673.66,265.96 674.37,266.16 675.09,266.35 675.82,266.55 676.53,266.74 677.22,266.93 677.86,267.10 678.46,267.26 678.99,267.40 679.44,267.53 679.80,267.62" fill="none" stroke="#c4242c" stroke-width="1.25" stroke-linejoin="round"/>
<polyline points="567.70,271.67 568.06,271.65 568.51,271.63 569.04,271.61 569.64,271.58 570.28,271.55 570.97,271.52 571.68,271.48 572.41,271.44 573.13,271.40 573.84,271.36 574.53,271.31 575.17,271.26 575.80,271.21 576.44,271.14 577.09,271.06 577.73,270.98 578.38,270.90 579.03,270.81 579.67,270.73 580.29,270.65 580.91,270.58 581.51,270.53 582.09,270.48 582.65,270.46 583.19,270.44 583.71,270.43 584.22,270.41 584.72,270.41 585.21,270.42 585.68,270.43 586.14,270.46 586.59,270.50 587.03,270.56 587.45,270.64 587.86,270.74 588.25,270.86 588.63,271.02 588.98,271.23 589.32,271.47 589.64,271.74 589.94,272.03 590.24,272.33 590.53,272.62 590.81,272.90 591.10,273.15 591.39,273.38 591.68,273.56 591.99,273.69 592.30,273.78 592.61,273.83 592.92,273.86 593.23,273.86 593.55,273.83 593.86,273.79 594.17,273.73 594.48,273.66 594.79,273.58 595.10,273.49 595.41,273.39 595.73,273.29 596.04,273.19 596.35,273.10 596.66,273.01 596.97,272.92 597.28,272.82 597.59,272.69 597.90,272.55 598.22,272.37 598.53,272.16 598.84,271.91 599.15,271.62 599.46,271.26 599.77,270.88 600.08,270.47 600.40,270.04 600.71,269.58 601.02,269.08 601.33,268.55 601.64,267.97 601.95,267.33 602.26,266.64 602.58,265.89 602.89,265.08 603.20,264.19 603.51,263.21 603.82,262.15 604.13,261.01 604.44,259.80 604.76,258.54 605.07,257.23 605.38,255.89 605.69,254.52 606.00,253.14 606.31,251.76 606.62,250.38 606.94,249.02 607.25,247.65 607.56,246.23 607.87,244.79 608.18,243.32 608.49,241.84 608.80,240.36 609.11,238.88 609.43,237.41 609.74,235.96 610.05,234.54 610.36,233.16 610.67,231.83 610.98,230.52 611.29,229.21 611.61,227.91 611.92,226.62 612.23,225.35 612.54,224.12 612.85,222.91 613.16,221.75 613.47,220.64 613.79,219.58 614.10,218.59 614.41,217.67 614.72,216.80 615.03,215.96 615.34,215.16 615.65,214.41 615.97,213.71 616.28,213.05 616.59,212.46 616.90,211.94 617.21,211.48 617.52,211.10 617.83,210.80 618.14,210.59 618.46,210.47 618.77,210.44 619.08,210.50 619.39,210.63 619.70,210.83 620.01,211.10 620.32,211.42 620.64,211.79 620.95,212.20 621.26,212.65 621.57,213.13 621.88,213.62 622.19,214.15 622.48,214.73 622.77,215.35 623.06,216.02 623.34,216.73 623.63,217.48 623.93,218.27 624.23,219.09 624.55,219.95 624.89,220.85 625.24,221.77 625.62,222.72 626.01,223.73 626.42,224.80 626.84,225.93 627.28,227.11 627.73,228.32 628.19,229.55 628.66,230.80 629.15,232.05 629.65,233.30 630.16,234.52 630.68,235.72 631.22,236.88 631.78,238.03 632.36,239.18 632.96,240.33 633.58,241.49 634.20,242.64 634.84,243.77 635.49,244.89 636.14,245.98 636.78,247.05 637.43,248.08 638.07,249.08 638.70,250.03 639.32,250.94 639.94,251.82 640.56,252.67 641.19,253.50 641.81,254.29 642.43,255.06 643.06,255.80 643.68,256.52 644.30,257.21 644.92,257.87 645.55,258.51 646.17,259.13 646.79,259.72 647.42,260.27 648.04,260.79 648.66,261.29 649.28,261.76 649.91,262.20 650.53,262.63 651.15,263.04 651.77,263.44 652.40,263.83 653.02,264.21 653.64,264.59 654.26,264.96 654.87,265.31 655.47,265.64 656.07,265.96 656.66,266.27 657.26,266.56 657.87,266.85 658.49,267.13 659.12,267.41 659.76,267.68 660.43,267.95 661.12,268.23 661.83,268.51 662.57,268.78 663.32,269.05 664.09,269.31 664.88,269.57 665.67,269.82 666.47,270.07 667.28,270.32 668.08,270.56 668.88,270.80 669.67,271.04 670.46,271.26 671.27,271.50 672.12,271.73 673.01,271.97 673.92,272.21 674.82,272.44 675.71,272.67 676.57,272.88 677.38,273.09 678.12,273.27 678.78,273.43 679.35,273.58 679.80,273.69" fill="none" stroke="#1f72c4" stroke-width="1.25" stroke-linejoin="round"/>
<rect x="567.70" y="202.50" width="112.10" height="80.90" fill="none" stroke="#111" stroke-width="0.75"/>
<line x1="605.07" y1="283.40" x2="605.07" y2="277.60" stroke="#111" stroke-width="0.9"/>
<line x1="642.43" y1="283.40" x2="642.43" y2="277.60" stroke="#111" stroke-width="0.9"/>
<line x1="567.70" y1="242.95" x2="573.50" y2="242.95" stroke="#111" stroke-width="0.9"/>
<text x="562.50" y="286.84" text-anchor="end" font-size="9.7">0.0</text>
<text x="562.50" y="246.39" text-anchor="end" font-size="9.7">0.2</text>
<text x="562.50" y="205.94" text-anchor="end" font-size="9.7">0.4</text>
<text x="567.70" y="295.90" text-anchor="middle" font-size="9.7">20</text>
<text x="605.07" y="295.90" text-anchor="middle" font-size="9.7">40</text>
<text x="642.43" y="295.90" text-anchor="middle" font-size="9.7">60</text>
<text x="679.80" y="295.90" text-anchor="middle" font-size="9.7">80</text>
<text x="671.50" y="216.50" text-anchor="end" font-size="9.7" >0.2 T</text>
<text transform="translate(540.70,243.00) rotate(-90)" text-anchor="middle" font-size="9.7"><tspan font-style="italic">R</tspan><tspan font-size="6.8" dy="2.0" dx="0.3">xx</tspan><tspan dy="-2.0" dx="0.1">​</tspan> (kΩ)</text>
<text x="623.70" y="311.50" text-anchor="middle" font-size="9.7" ><tspan font-style="italic">V</tspan><tspan font-size="6.8" dy="2.0" dx="0.3">b</tspan><tspan dy="-2.0" dx="1.3">​</tspan>/<tspan font-style="italic">d</tspan><tspan font-size="6.8" dy="2.0" dx="0.3">b</tspan><tspan dy="-2.0" dx="1.3">​</tspan> (mV nm<tspan font-size="6.8" dy="-3.6">−1</tspan><tspan dy="3.6">​</tspan>)</text>
<text x="533.30" y="207.70" font-size="12.8" font-weight="bold">l</text>
<g clip-path="url(#cm)">
<polyline points="571.17,411.53 571.22,410.84 571.29,410.22 571.37,409.61 571.45,408.98 571.55,408.31 571.65,407.58 571.76,406.78 571.87,405.91 571.98,404.96 572.09,403.96 572.21,402.91 572.32,401.82 572.44,400.71 572.55,399.63 572.67,398.58 572.79,397.57 572.92,396.60 573.04,395.69 573.17,394.82 573.31,394.01 573.44,393.23 573.58,392.51 573.72,391.82 573.86,391.18 574.01,390.55 574.16,389.95 574.32,389.35 574.48,388.78 574.64,388.23 574.80,387.70 574.97,387.20 575.13,386.72 575.30,386.27 575.46,385.84 575.63,385.43 575.79,385.05 575.95,384.66 576.12,384.25 576.29,383.83 576.46,383.41 576.63,383.01 576.80,382.65 576.97,382.32 577.13,382.03 577.29,381.79 577.44,381.62 577.58,381.51 577.72,381.47 577.84,381.54 577.95,381.76 578.05,382.09 578.14,382.51 578.23,383.00 578.32,383.53 578.40,384.07 578.49,384.57 578.57,384.98 578.67,385.24 578.76,385.28 578.87,385.05 578.98,384.53 579.09,383.78 579.19,382.91 579.30,381.98 579.41,381.07 579.52,380.20 579.64,379.40 579.77,378.70 579.91,378.09 580.06,377.59 580.23,377.21 580.41,376.95 580.62,376.79 580.85,376.69 581.09,376.65 581.35,376.64 581.63,376.68 581.91,376.76 582.19,376.86 582.47,376.99 582.74,377.14 583.01,377.32 583.26,377.50 583.49,377.69 583.72,377.91 583.93,378.19 584.14,378.52 584.35,378.90 584.55,379.32 584.75,379.78 584.94,380.27 585.12,380.77 585.30,381.29 585.47,381.80 585.64,382.29 585.81,382.73 585.96,383.17 586.11,383.65 586.24,384.17 586.38,384.71 586.50,385.25 586.62,385.77 586.74,386.23 586.86,386.60 586.98,386.85 587.10,386.93 587.22,386.81 587.35,386.49 587.47,385.93 587.59,385.18 587.71,384.31 587.83,383.40 587.95,382.48 588.07,381.60 588.19,380.76 588.32,379.99 588.45,379.30 588.59,378.68 588.73,378.14 588.89,377.69 589.05,377.28 589.22,376.88 589.39,376.49 589.57,376.12 589.76,375.77 589.95,375.44 590.14,375.15 590.34,374.89 590.55,374.66 590.76,374.48 590.98,374.33 591.20,374.23 591.42,374.20 591.65,374.22 591.88,374.31 592.11,374.43 592.35,374.58 592.60,374.75 592.85,374.93 593.11,375.09 593.38,375.23 593.67,375.33 593.97,375.37 594.28,375.34 594.61,375.25 594.97,375.13 595.35,374.97 595.74,374.79 596.14,374.59 596.54,374.37 596.95,374.13 597.36,373.88 597.77,373.61 598.16,373.35 598.54,373.07 598.90,372.80 599.25,372.51 599.60,372.19 599.94,371.85 600.27,371.51 600.60,371.16 600.93,370.83 601.24,370.50 601.56,370.19 601.86,369.91 602.17,369.65 602.46,369.42 602.76,369.21 603.04,369.03 603.31,368.85 603.58,368.67 603.84,368.51 604.09,368.35 604.34,368.21 604.59,368.09 604.84,367.99 605.08,367.92 605.33,367.87 605.58,367.84 605.84,367.85 606.09,367.90 606.35,367.98 606.61,368.10 606.86,368.25 607.12,368.42 607.38,368.62 607.63,368.83 607.89,369.06 608.15,369.29 608.41,369.53 608.66,369.76 608.92,369.98 609.17,370.21 609.41,370.47 609.64,370.76 609.86,371.06 610.09,371.38 610.32,371.71 610.55,372.03 610.80,372.34 611.07,372.63 611.35,372.89 611.66,373.10 612.00,373.25 612.36,373.34 612.74,373.36 613.13,373.33 613.54,373.26 613.97,373.15 614.41,373.02 614.87,372.87 615.34,372.72 615.83,372.56 616.33,372.41 616.86,372.27 617.39,372.16 617.95,372.06 618.54,371.96 619.16,371.87 619.79,371.78 620.44,371.68 621.10,371.59 621.77,371.48 622.44,371.37 623.12,371.25 623.79,371.12 624.45,370.98 625.10,370.83 625.74,370.66 626.38,370.48 627.02,370.29 627.67,370.09 628.31,369.89 628.95,369.69 629.59,369.48 630.23,369.28 630.88,369.08 631.52,368.88 632.16,368.69 632.80,368.51 633.43,368.32 634.04,368.14 634.64,367.95 635.23,367.77 635.82,367.59 636.41,367.41 637.02,367.23 637.65,367.06 638.31,366.90 639.00,366.74 639.73,366.59 640.51,366.45 641.34,366.33 642.21,366.21 643.13,366.11 644.07,366.01 645.05,365.92 646.04,365.83 647.05,365.74 648.07,365.64 649.08,365.53 650.09,365.42 651.09,365.29 652.06,365.15 653.03,365.00 654.00,364.83 654.97,364.64 655.94,364.45 656.92,364.26 657.89,364.07 658.86,363.88 659.83,363.70 660.79,363.53 661.74,363.37 662.68,363.22 663.62,363.09 664.58,362.97 665.59,362.85 666.62,362.74 667.67,362.64 668.72,362.54 669.74,362.45 670.72,362.36 671.64,362.28 672.49,362.21 673.24,362.15 673.89,362.09 674.41,362.05" fill="none" stroke="#c4242c" stroke-width="1.25" stroke-linejoin="round"/>
<polyline points="571.17,409.91 571.22,409.21 571.29,408.71 571.37,408.30 571.45,407.88 571.55,407.37 571.65,406.71 571.76,405.86 571.87,404.83 571.98,403.62 572.09,402.26 572.21,400.80 572.32,399.27 572.44,397.82 572.55,396.50 572.67,395.27 572.79,394.12 572.92,393.01 573.04,391.94 573.17,390.89 573.31,389.88 573.44,388.88 573.58,387.89 573.72,386.93 573.86,385.98 574.01,385.05 574.16,384.16 574.31,383.29 574.46,382.46 574.62,381.66 574.78,380.90 574.94,380.16 575.10,379.46 575.27,378.79 575.44,378.15 575.61,377.54 575.79,376.95 575.97,376.35 576.16,375.72 576.36,375.09 576.56,374.47 576.76,373.88 576.97,373.32 577.17,372.82 577.37,372.37 577.57,371.97 577.76,371.64 577.93,371.38 578.10,371.19 578.26,371.09 578.40,371.08 578.54,371.15 578.67,371.28 578.80,371.44 578.92,371.61 579.04,371.78 579.16,371.93 579.27,372.02 579.39,372.04 579.52,371.96 579.64,371.76 579.77,371.45 579.88,371.07 579.99,370.64 580.10,370.17 580.21,369.69 580.32,369.20 580.43,368.71 580.56,368.25 580.69,367.81 580.84,367.39 581.00,367.01 581.18,366.67 581.39,366.33 581.62,365.97 581.86,365.60 582.12,365.24 582.40,364.89 582.68,364.56 582.96,364.27 583.24,364.01 583.51,363.79 583.78,363.63 584.03,363.51 584.26,363.46 584.49,363.48 584.71,363.56 584.92,363.70 585.13,363.89 585.34,364.11 585.54,364.37 585.73,364.66 585.92,364.97 586.10,365.28 586.27,365.59 586.43,365.88 586.58,366.14 586.71,366.41 586.83,366.73 586.94,367.11 587.03,367.51 587.12,367.93 587.20,368.34 587.28,368.72 587.36,369.05 587.44,369.30 587.53,369.42 587.63,369.40 587.73,369.21 587.84,368.91 587.95,368.54 588.06,368.11 588.17,367.62 588.29,367.08 588.41,366.50 588.53,365.88 588.66,365.22 588.80,364.54 588.94,363.83 589.10,363.11 589.27,362.38 589.45,361.62 589.61,360.82 589.78,360.02 589.96,359.24 590.14,358.48 590.33,357.76 590.54,357.08 590.77,356.45 591.02,355.86 591.31,355.33 591.62,354.85 591.97,354.42 592.36,354.03 592.78,353.68 593.23,353.35 593.71,353.04 594.21,352.75 594.74,352.46 595.28,352.19 595.84,351.92 596.40,351.65 596.98,351.38 597.55,351.11 598.13,350.84 598.72,350.55 599.33,350.26 599.95,349.97 600.59,349.68 601.23,349.39 601.89,349.11 602.55,348.84 603.21,348.59 603.87,348.35 604.54,348.13 605.19,347.93 605.84,347.76 606.47,347.61 607.08,347.49 607.67,347.39 608.26,347.30 608.85,347.22 609.45,347.15 610.06,347.07 610.69,346.99 611.34,346.91 612.03,346.80 612.76,346.69 613.54,346.55 614.36,346.39 615.20,346.23 616.07,346.05 616.97,345.88 617.89,345.69 618.84,345.50 619.81,345.31 620.82,345.12 621.85,344.93 622.90,344.74 623.99,344.54 625.10,344.35 626.25,344.15 627.44,343.95 628.68,343.75 629.95,343.54 631.25,343.33 632.56,343.13 633.89,342.93 635.23,342.73 636.56,342.54 637.89,342.36 639.21,342.19 640.51,342.03 641.80,341.88 643.12,341.73 644.45,341.58 645.79,341.43 647.12,341.30 648.45,341.16 649.77,341.03 651.07,340.91 652.33,340.79 653.57,340.68 654.77,340.58 655.92,340.48 657.03,340.38 658.12,340.29 659.18,340.20 660.22,340.11 661.24,340.03 662.22,339.95 663.18,339.88 664.11,339.81 665.00,339.76 665.86,339.72 666.68,339.68 667.47,339.66 668.23,339.65 668.98,339.67 669.69,339.69 670.38,339.73 671.04,339.77 671.66,339.82 672.24,339.87 672.78,339.93 673.27,339.98 673.71,340.02 674.09,340.06 674.41,340.09" fill="none" stroke="#1f72c4" stroke-width="1.25" stroke-linejoin="round"/>
</g>
<rect x="567.70" y="324.00" width="112.10" height="81.40" fill="none" stroke="#111" stroke-width="0.75"/>
<line x1="571.17" y1="405.40" x2="571.17" y2="399.60" stroke="#111" stroke-width="0.9"/>
<line x1="601.98" y1="405.40" x2="601.98" y2="399.60" stroke="#111" stroke-width="0.9"/>
<line x1="632.80" y1="405.40" x2="632.80" y2="399.60" stroke="#111" stroke-width="0.9"/>
<line x1="663.62" y1="405.40" x2="663.62" y2="399.60" stroke="#111" stroke-width="0.9"/>
<line x1="567.70" y1="385.05" x2="570.90" y2="385.05" stroke="#111" stroke-width="0.9"/>
<line x1="567.70" y1="364.70" x2="570.90" y2="364.70" stroke="#111" stroke-width="0.9"/>
<line x1="567.70" y1="344.35" x2="570.90" y2="344.35" stroke="#111" stroke-width="0.9"/>
<line x1="567.70" y1="399.27" x2="570.10" y2="399.27" stroke="#111" stroke-width="0.7"/>
<line x1="567.70" y1="395.69" x2="570.10" y2="395.69" stroke="#111" stroke-width="0.7"/>
<line x1="567.70" y1="393.15" x2="570.10" y2="393.15" stroke="#111" stroke-width="0.7"/>
<line x1="567.70" y1="391.18" x2="570.10" y2="391.18" stroke="#111" stroke-width="0.7"/>
<line x1="567.70" y1="389.56" x2="570.10" y2="389.56" stroke="#111" stroke-width="0.7"/>
<line x1="567.70" y1="388.20" x2="570.10" y2="388.20" stroke="#111" stroke-width="0.7"/>
<line x1="567.70" y1="387.02" x2="570.10" y2="387.02" stroke="#111" stroke-width="0.7"/>
<line x1="567.70" y1="385.98" x2="570.10" y2="385.98" stroke="#111" stroke-width="0.7"/>
<line x1="567.70" y1="378.92" x2="570.10" y2="378.92" stroke="#111" stroke-width="0.7"/>
<line x1="567.70" y1="375.34" x2="570.10" y2="375.34" stroke="#111" stroke-width="0.7"/>
<line x1="567.70" y1="372.80" x2="570.10" y2="372.80" stroke="#111" stroke-width="0.7"/>
<line x1="567.70" y1="370.83" x2="570.10" y2="370.83" stroke="#111" stroke-width="0.7"/>
<line x1="567.70" y1="369.21" x2="570.10" y2="369.21" stroke="#111" stroke-width="0.7"/>
<line x1="567.70" y1="367.85" x2="570.10" y2="367.85" stroke="#111" stroke-width="0.7"/>
<line x1="567.70" y1="366.67" x2="570.10" y2="366.67" stroke="#111" stroke-width="0.7"/>
<line x1="567.70" y1="365.63" x2="570.10" y2="365.63" stroke="#111" stroke-width="0.7"/>
<line x1="567.70" y1="358.57" x2="570.10" y2="358.57" stroke="#111" stroke-width="0.7"/>
<line x1="567.70" y1="354.99" x2="570.10" y2="354.99" stroke="#111" stroke-width="0.7"/>
<line x1="567.70" y1="352.45" x2="570.10" y2="352.45" stroke="#111" stroke-width="0.7"/>
<line x1="567.70" y1="350.48" x2="570.10" y2="350.48" stroke="#111" stroke-width="0.7"/>
<line x1="567.70" y1="348.86" x2="570.10" y2="348.86" stroke="#111" stroke-width="0.7"/>
<line x1="567.70" y1="347.50" x2="570.10" y2="347.50" stroke="#111" stroke-width="0.7"/>
<line x1="567.70" y1="346.32" x2="570.10" y2="346.32" stroke="#111" stroke-width="0.7"/>
<line x1="567.70" y1="345.28" x2="570.10" y2="345.28" stroke="#111" stroke-width="0.7"/>
<line x1="567.70" y1="338.22" x2="570.10" y2="338.22" stroke="#111" stroke-width="0.7"/>
<line x1="567.70" y1="334.64" x2="570.10" y2="334.64" stroke="#111" stroke-width="0.7"/>
<line x1="567.70" y1="332.10" x2="570.10" y2="332.10" stroke="#111" stroke-width="0.7"/>
<line x1="567.70" y1="330.13" x2="570.10" y2="330.13" stroke="#111" stroke-width="0.7"/>
<line x1="567.70" y1="328.51" x2="570.10" y2="328.51" stroke="#111" stroke-width="0.7"/>
<line x1="567.70" y1="327.15" x2="570.10" y2="327.15" stroke="#111" stroke-width="0.7"/>
<line x1="567.70" y1="325.97" x2="570.10" y2="325.97" stroke="#111" stroke-width="0.7"/>
<line x1="567.70" y1="324.93" x2="570.10" y2="324.93" stroke="#111" stroke-width="0.7"/>
<text x="571.17" y="417.90" text-anchor="middle" font-size="9.7">0</text>
<text x="601.98" y="417.90" text-anchor="middle" font-size="9.7">4</text>
<text x="632.80" y="417.90" text-anchor="middle" font-size="9.7">8</text>
<text x="663.62" y="417.90" text-anchor="middle" font-size="9.7">12</text>
<text x="561.90" y="409.44" text-anchor="end" font-size="9.7" >10<tspan font-size="6.4" dy="-3.6">2</tspan><tspan dy="3.6">​</tspan></text>
<text x="561.90" y="368.74" text-anchor="end" font-size="9.7" >10<tspan font-size="6.4" dy="-3.6">4</tspan><tspan dy="3.6">​</tspan></text>
<text x="561.90" y="328.04" text-anchor="end" font-size="9.7" >10<tspan font-size="6.4" dy="-3.6">6</tspan><tspan dy="3.6">​</tspan></text>
<text transform="translate(542.30,385.40) rotate(-90)" text-anchor="start" font-size="9.7"><tspan font-style="italic">R</tspan><tspan font-size="6.6" dy="-3.8" dx="1.6">CNP</tspan><tspan font-size="6.6" dy="6.0" dx="-14.8">xx</tspan><tspan dy="-2.2" dx="7.6"> (Ω)</tspan></text>
<text x="623.70" y="433.50" text-anchor="middle" font-size="9.7" ><tspan font-style="italic">B</tspan> (T)</text>
<text x="532.50" y="329.00" font-size="12.8" font-weight="bold">m</text>
</svg>
</body></html>
